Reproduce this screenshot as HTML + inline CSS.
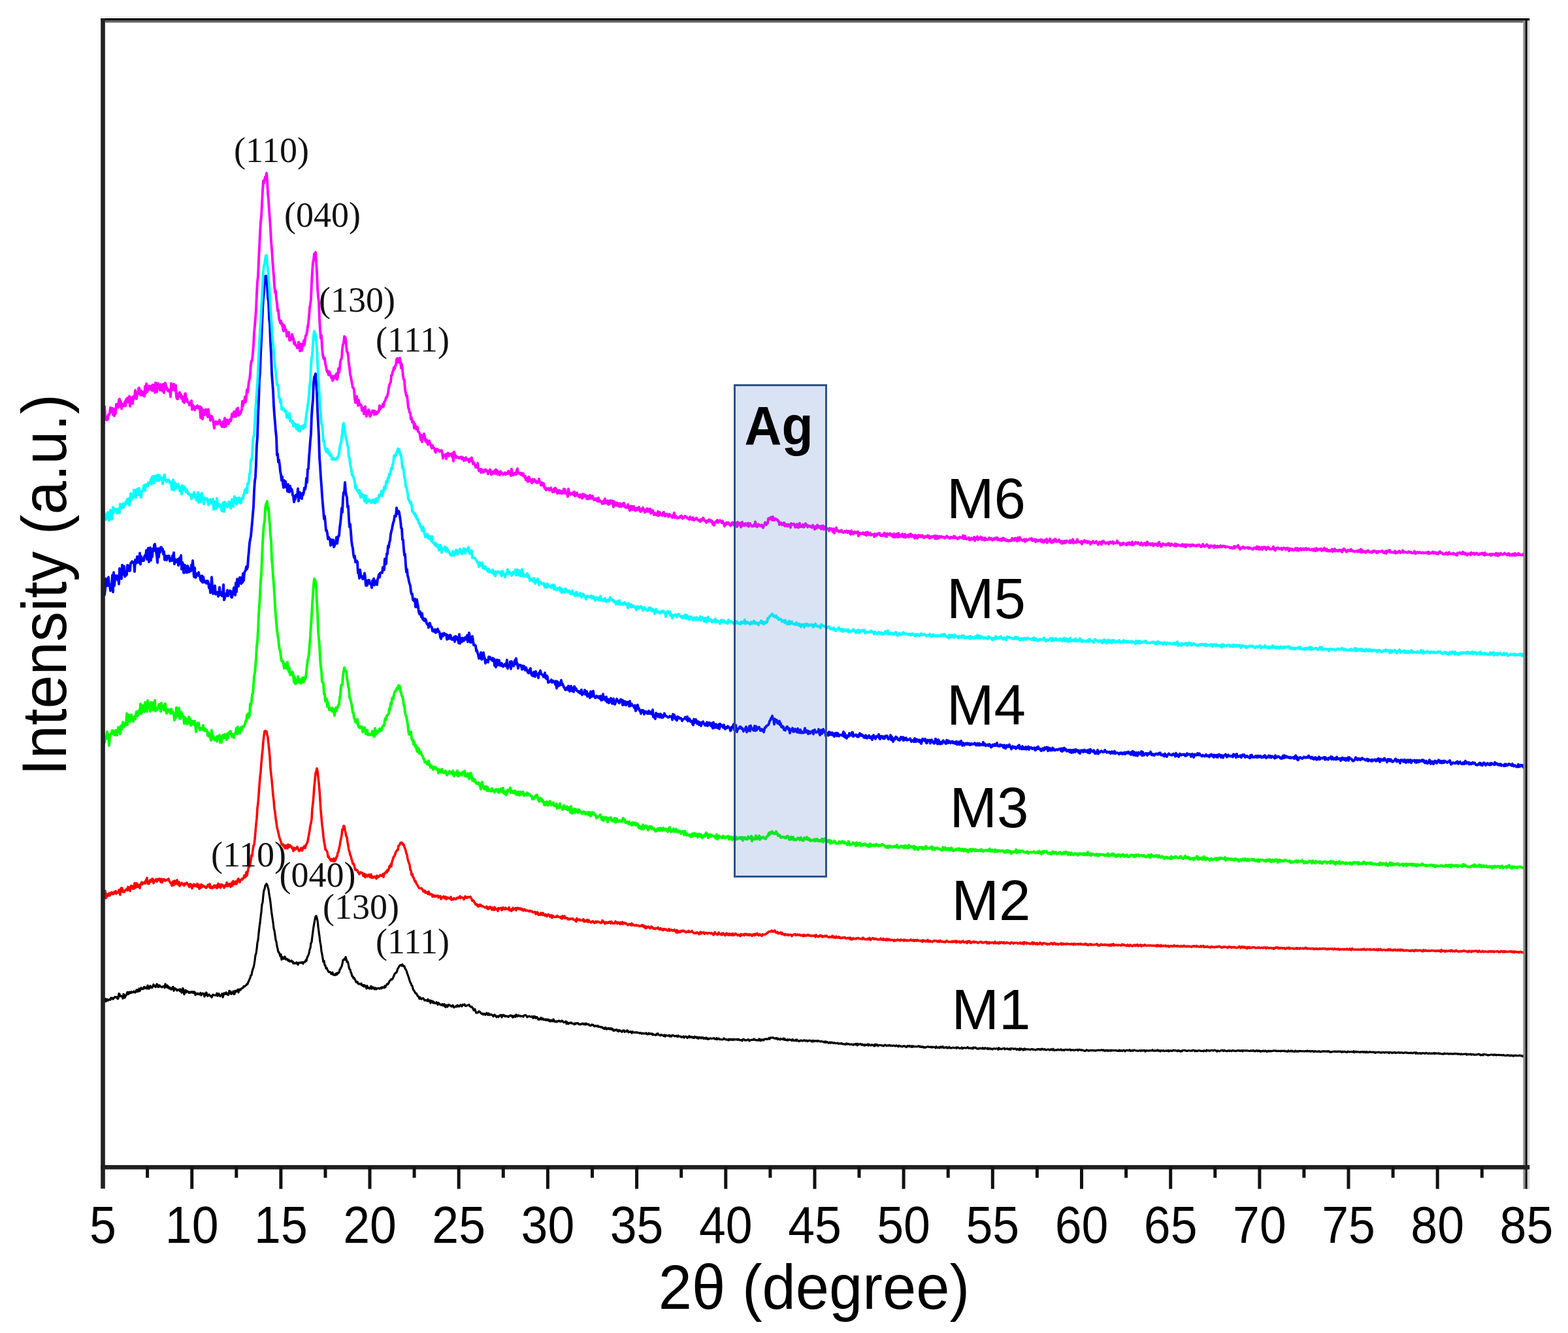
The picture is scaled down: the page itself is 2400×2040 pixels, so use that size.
<!DOCTYPE html>
<html><head><meta charset="utf-8"><style>
html,body{margin:0;padding:0;background:#fff;overflow:hidden;width:2400px;height:2040px;}
svg{display:block;}
</style></head><body>
<svg width="2400" height="2040" viewBox="0 0 2400 2040">
<rect width="2400" height="2040" fill="#fff"/>
<polyline points="158,1532.5 159,1533.2 160,1531.9 161,1528.3 162,1532.6 163,1531.4 164,1529.1 165,1531.2 166,1530.5 167,1530.1 168,1529.2 169,1530.1 170,1527.1 171,1528.1 172,1527.2 173,1529.1 174,1527.7 175,1526.8 176,1525.5 177,1526.3 178,1526.6 179,1525.8 180,1528.7 181,1527.8 182,1520.5 183,1521.4 184,1524.6 185,1523.9 186,1524.9 187,1524.6 188,1528.1 189,1521.3 190,1522.5 191,1527.0 192,1523.9 193,1523.6 194,1520.9 195,1518.3 196,1521.6 197,1521.1 198,1518.1 199,1518.8 200,1519.7 201,1517.6 202,1518.9 203,1518.9 204,1518.4 205,1517.0 206,1518.8 207,1519.0 208,1517.5 209,1514.9 210,1517.6 211,1514.8 212,1517.2 213,1513.0 214,1516.6 215,1514.4 216,1511.7 217,1513.2 218,1513.6 219,1513.7 220,1510.9 221,1510.4 222,1512.6 223,1511.1 224,1512.1 225,1512.9 226,1508.0 227,1511.4 228,1513.1 229,1509.9 230,1508.8 231,1511.5 232,1510.4 233,1511.5 234,1509.0 235,1506.7 236,1509.2 237,1508.4 238,1510.6 239,1509.5 240,1506.0 241,1506.8 242,1510.7 243,1510.3 244,1507.8 245,1509.1 246,1510.0 247,1510.1 248,1510.9 249,1509.9 250,1509.4 251,1509.2 252,1511.8 253,1505.9 254,1510.0 255,1510.5 256,1508.0 257,1511.5 258,1509.9 259,1512.9 260,1511.3 261,1513.0 262,1514.3 263,1513.0 264,1511.0 265,1510.1 266,1516.3 267,1513.2 268,1512.5 269,1514.2 270,1513.9 271,1516.1 272,1514.9 273,1515.1 274,1514.1 275,1516.5 276,1514.0 277,1517.3 278,1519.1 279,1513.9 280,1512.5 281,1518.2 282,1521.7 283,1515.7 284,1515.4 285,1518.9 286,1516.5 287,1517.3 288,1517.7 289,1519.4 290,1517.9 291,1519.3 292,1518.7 293,1517.7 294,1518.8 295,1517.8 296,1519.7 297,1517.9 298,1518.1 299,1522.7 300,1520.3 301,1520.4 302,1521.6 303,1520.1 304,1520.6 305,1521.9 306,1521.8 307,1519.5 308,1523.1 309,1520.8 310,1520.1 311,1520.5 312,1521.5 313,1525.1 314,1520.4 315,1522.8 316,1519.0 317,1522.7 318,1524.3 319,1522.5 320,1521.9 321,1523.4 322,1524.2 323,1524.2 324,1526.4 325,1523.5 326,1522.1 327,1522.9 328,1523.0 329,1523.2 330,1523.0 331,1523.2 332,1520.1 333,1524.2 334,1521.8 335,1520.7 336,1523.6 337,1524.6 338,1523.2 339,1522.5 340,1520.6 341,1526.1 342,1523.3 343,1519.9 344,1520.3 345,1521.6 346,1518.8 347,1521.4 348,1520.2 349,1522.7 350,1522.1 351,1516.3 352,1520.2 353,1517.3 354,1521.4 355,1519.6 356,1520.0 357,1517.1 358,1521.5 359,1521.4 360,1516.2 361,1518.1 362,1516.1 363,1516.8 364,1514.4 365,1518.9 366,1514.0 367,1514.6 368,1515.3 369,1513.0 370,1513.0 371,1511.9 372,1511.9 373,1509.5 374,1509.9 375,1509.3 376,1508.1 377,1507.6 378,1505.8 379,1506.0 380,1502.8 381,1501.2 382,1498.4 383,1496.3 384,1492.5 385,1492.3 386,1486.4 387,1483.2 388,1480.7 389,1476.1 390,1469.8 391,1461.6 392,1459.2 393,1452.3 394,1442.5 395,1438.3 396,1428.0 397,1419.0 398,1412.3 399,1403.2 400,1395.2 401,1384.0 402,1381.2 403,1370.2 404,1362.4 405,1360.5 406,1355.2 407,1354.0 408,1352.5 409,1354.3 410,1357.9 411,1361.1 412,1369.1 413,1374.3 414,1381.1 415,1390.3 416,1398.6 417,1405.3 418,1411.7 419,1420.9 420,1423.9 421,1431.1 422,1438.2 423,1441.3 424,1447.9 425,1452.0 426,1457.1 427,1457.4 428,1460.2 429,1463.4 430,1460.6 431,1468.7 432,1464.7 433,1465.0 434,1467.5 435,1466.4 436,1464.0 437,1467.8 438,1468.6 439,1467.3 440,1468.4 441,1470.2 442,1468.8 443,1471.3 444,1471.5 445,1470.7 446,1470.0 447,1472.1 448,1471.5 449,1474.4 450,1473.4 451,1474.6 452,1473.8 453,1474.1 454,1472.8 455,1474.9 456,1476.5 457,1473.6 458,1473.2 459,1473.7 460,1473.2 461,1472.7 462,1473.7 463,1472.8 464,1474.9 465,1472.3 466,1472.2 467,1472.2 468,1469.4 469,1470.5 470,1465.9 471,1463.6 472,1461.6 473,1458.8 474,1453.3 475,1450.7 476,1443.3 477,1441.7 478,1433.2 479,1425.5 480,1418.2 481,1412.4 482,1407.2 483,1402.6 484,1401.7 485,1404.7 486,1409.1 487,1417.9 488,1426.1 489,1432.9 490,1441.5 491,1446.4 492,1455.7 493,1460.6 494,1466.4 495,1472.1 496,1470.5 497,1476.9 498,1477.6 499,1481.9 500,1481.1 501,1483.7 502,1485.9 503,1487.5 504,1487.7 505,1487.3 506,1488.3 507,1490.7 508,1490.1 509,1488.2 510,1491.9 511,1491.6 512,1492.3 513,1490.7 514,1492.1 515,1489.3 516,1491.0 517,1488.8 518,1489.2 519,1488.2 520,1484.1 521,1482.8 522,1480.3 523,1478.8 524,1474.9 525,1469.3 526,1468.8 527,1467.4 528,1468.7 529,1464.6 530,1467.7 531,1472.2 532,1471.4 533,1474.5 534,1479.7 535,1483.3 536,1483.9 537,1488.1 538,1490.0 539,1494.1 540,1494.2 541,1497.2 542,1496.5 543,1498.8 544,1500.2 545,1502.9 546,1503.2 547,1502.4 548,1505.1 549,1505.9 550,1505.5 551,1505.9 552,1506.5 553,1505.1 554,1508.0 555,1508.5 556,1507.5 557,1509.9 558,1507.7 559,1509.0 560,1509.5 561,1512.8 562,1508.7 563,1511.6 564,1512.3 565,1511.9 566,1513.1 567,1510.6 568,1509.2 569,1513.1 570,1510.8 571,1512.0 572,1511.1 573,1513.9 574,1513.7 575,1511.8 576,1513.8 577,1512.9 578,1512.5 579,1512.7 580,1512.3 581,1513.1 582,1512.5 583,1511.5 584,1512.9 585,1510.6 586,1511.3 587,1511.0 588,1511.7 589,1508.8 590,1510.8 591,1508.2 592,1507.0 593,1505.5 594,1506.0 595,1504.3 596,1501.8 597,1500.6 598,1499.9 599,1498.4 600,1499.0 601,1497.8 602,1495.5 603,1493.2 604,1490.6 605,1489.4 606,1488.6 607,1488.3 608,1485.1 609,1482.0 610,1480.9 611,1478.9 612,1477.3 613,1477.0 614,1476.7 615,1478.2 616,1476.0 617,1477.8 618,1479.1 619,1478.6 620,1482.3 621,1483.7 622,1485.1 623,1488.8 624,1491.5 625,1494.3 626,1497.3 627,1500.6 628,1503.7 629,1504.8 630,1508.3 631,1508.8 632,1513.0 633,1515.3 634,1516.6 635,1518.3 636,1520.1 637,1520.0 638,1521.7 639,1523.7 640,1525.2 641,1525.4 642,1528.5 643,1526.3 644,1528.2 645,1529.1 646,1528.0 647,1527.7 648,1527.8 649,1529.7 650,1531.2 651,1530.6 652,1530.8 653,1530.6 654,1531.9 655,1529.2 656,1532.2 657,1532.2 658,1530.9 659,1535.1 660,1531.5 661,1532.1 662,1532.2 663,1535.0 664,1533.1 665,1535.1 666,1535.3 667,1535.3 668,1533.8 669,1534.9 670,1537.7 671,1534.7 672,1535.5 673,1536.5 674,1537.8 675,1537.5 676,1538.3 677,1536.6 678,1539.0 679,1538.8 680,1536.7 681,1540.3 682,1541.3 683,1538.1 684,1539.2 685,1540.8 686,1537.8 687,1537.4 688,1538.2 689,1539.1 690,1539.1 691,1540.4 692,1540.0 693,1538.4 694,1540.3 695,1541.7 696,1540.9 697,1540.6 698,1539.5 699,1540.5 700,1538.3 701,1540.1 702,1539.1 703,1540.3 704,1539.5 705,1537.8 706,1539.0 707,1540.0 708,1537.5 709,1538.0 710,1537.7 711,1536.9 712,1539.4 713,1539.7 714,1539.2 715,1538.6 716,1538.2 717,1538.5 718,1537.7 719,1539.8 720,1540.6 721,1541.2 722,1540.6 723,1542.3 724,1543.1 725,1546.2 726,1545.6 727,1544.5 728,1547.8 729,1550.1 730,1549.4 731,1550.0 732,1549.4 733,1547.7 734,1548.2 735,1549.0 736,1550.4 737,1551.2 738,1551.8 739,1551.0 740,1552.6 741,1551.6 742,1551.4 743,1553.2 744,1551.6 745,1550.2 746,1551.9 747,1553.2 748,1550.8 749,1553.1 750,1553.3 751,1552.4 752,1552.4 753,1553.6 754,1553.6 755,1555.5 756,1554.7 757,1552.9 758,1553.7 759,1555.3 760,1556.5 761,1555.0 762,1555.0 763,1556.5 764,1554.7 765,1554.4 766,1553.3 767,1554.2 768,1556.9 769,1553.3 770,1554.7 771,1553.3 772,1554.8 773,1555.6 774,1554.5 775,1555.4 776,1555.4 777,1555.1 778,1556.4 779,1555.5 780,1554.4 781,1554.0 782,1553.9 783,1555.2 784,1554.4 785,1557.1 786,1556.5 787,1554.5 788,1554.4 789,1556.3 790,1552.9 791,1554.3 792,1555.6 793,1553.8 794,1554.2 795,1554.4 796,1555.3 797,1554.8 798,1555.1 799,1555.3 800,1554.9 801,1556.0 802,1554.3 803,1553.7 804,1553.5 805,1553.8 806,1554.9 807,1556.6 808,1555.9 809,1555.3 810,1555.1 811,1555.7 812,1556.0 813,1556.1 814,1555.4 815,1556.5 816,1558.1 817,1555.3 818,1557.3 819,1555.8 820,1558.1 821,1557.5 822,1556.4 823,1558.6 824,1560.4 825,1559.0 826,1560.2 827,1559.2 828,1557.5 829,1560.1 830,1559.4 831,1558.6 832,1560.8 833,1560.5 834,1559.9 835,1561.3 836,1559.9 837,1561.4 838,1560.1 839,1561.6 840,1560.3 841,1562.8 842,1561.8 843,1563.0 844,1561.1 845,1561.6 846,1562.9 847,1560.0 848,1561.5 849,1563.5 850,1563.2 851,1563.8 852,1562.8 853,1563.7 854,1562.7 855,1562.2 856,1562.1 857,1563.3 858,1563.4 859,1563.5 860,1561.9 861,1562.5 862,1563.9 863,1564.8 864,1564.2 865,1564.0 866,1562.9 867,1566.8 868,1564.2 869,1566.8 870,1566.8 871,1565.7 872,1565.1 873,1565.8 874,1564.8 875,1566.1 876,1566.0 877,1566.5 878,1567.0 879,1567.8 880,1566.0 881,1567.3 882,1565.8 883,1565.8 884,1566.1 885,1565.8 886,1567.6 887,1567.6 888,1568.0 889,1567.0 890,1567.3 891,1566.7 892,1566.2 893,1567.7 894,1567.7 895,1566.6 896,1568.1 897,1566.2 898,1567.7 899,1567.4 900,1567.6 901,1567.3 902,1569.2 903,1569.0 904,1569.7 905,1568.9 906,1567.9 907,1568.9 908,1568.4 909,1570.0 910,1570.9 911,1570.3 912,1569.8 913,1570.2 914,1570.9 915,1569.7 916,1571.3 917,1571.6 918,1571.2 919,1571.6 920,1572.3 921,1571.7 922,1572.0 923,1573.6 924,1573.4 925,1574.8 926,1572.8 927,1572.4 928,1574.9 929,1575.1 930,1573.9 931,1573.5 932,1574.9 933,1573.7 934,1575.0 935,1573.7 936,1575.5 937,1574.1 938,1575.8 939,1577.4 940,1576.0 941,1577.0 942,1576.0 943,1575.9 944,1575.6 945,1577.8 946,1577.0 947,1578.5 948,1576.4 949,1577.3 950,1577.6 951,1578.8 952,1579.3 953,1577.4 954,1577.1 955,1576.8 956,1579.4 957,1578.4 958,1578.0 959,1578.6 960,1576.8 961,1577.5 962,1579.8 963,1579.4 964,1579.4 965,1578.5 966,1579.9 967,1581.0 968,1578.7 969,1579.8 970,1579.6 971,1580.3 972,1580.1 973,1580.1 974,1579.6 975,1580.4 976,1580.0 977,1580.5 978,1580.7 979,1581.4 980,1580.5 981,1580.8 982,1582.0 983,1581.1 984,1581.1 985,1582.1 986,1581.7 987,1581.7 988,1581.9 989,1580.8 990,1582.3 991,1583.0 992,1582.5 993,1581.0 994,1582.5 995,1581.6 996,1582.3 997,1582.6 998,1581.7 999,1583.8 1000,1582.7 1001,1583.5 1002,1583.5 1003,1584.1 1004,1584.1 1005,1582.1 1006,1583.3 1007,1581.7 1008,1583.1 1009,1584.1 1010,1584.4 1011,1584.7 1012,1583.5 1013,1584.1 1014,1584.0 1015,1585.0 1016,1585.4 1017,1583.9 1018,1586.2 1019,1584.4 1020,1584.2 1021,1585.0 1022,1585.2 1023,1585.1 1024,1584.3 1025,1586.0 1026,1585.0 1027,1586.2 1028,1586.1 1029,1584.2 1030,1584.5 1031,1584.5 1032,1585.6 1033,1585.5 1034,1585.7 1035,1585.0 1036,1586.0 1037,1586.8 1038,1584.8 1039,1585.8 1040,1586.2 1041,1586.0 1042,1586.0 1043,1587.5 1044,1587.2 1045,1587.0 1046,1585.9 1047,1588.2 1048,1586.9 1049,1586.2 1050,1586.5 1051,1586.5 1052,1588.5 1053,1587.1 1054,1587.1 1055,1585.5 1056,1587.7 1057,1586.5 1058,1586.5 1059,1587.9 1060,1586.9 1061,1588.2 1062,1588.5 1063,1586.4 1064,1587.7 1065,1586.7 1066,1587.9 1067,1588.7 1068,1587.1 1069,1589.5 1070,1588.0 1071,1587.4 1072,1588.3 1073,1589.0 1074,1587.5 1075,1588.6 1076,1587.6 1077,1589.6 1078,1588.9 1079,1588.5 1080,1589.7 1081,1588.0 1082,1588.8 1083,1590.4 1084,1589.1 1085,1590.2 1086,1589.4 1087,1588.8 1088,1589.2 1089,1589.5 1090,1589.2 1091,1589.0 1092,1589.1 1093,1588.6 1094,1589.9 1095,1590.1 1096,1590.4 1097,1588.6 1098,1590.6 1099,1590.0 1100,1589.1 1101,1590.2 1102,1590.8 1103,1590.6 1104,1590.8 1105,1591.0 1106,1591.0 1107,1590.4 1108,1589.0 1109,1590.0 1110,1590.8 1111,1590.3 1112,1591.1 1113,1591.3 1114,1590.8 1115,1592.1 1116,1590.1 1117,1591.5 1118,1590.5 1119,1590.3 1120,1591.3 1121,1590.5 1122,1591.6 1123,1590.2 1124,1591.1 1125,1590.5 1126,1590.9 1127,1590.9 1128,1590.4 1129,1591.6 1130,1590.3 1131,1590.5 1132,1591.9 1133,1591.9 1134,1591.7 1135,1591.5 1136,1592.9 1137,1590.5 1138,1590.8 1139,1590.7 1140,1592.0 1141,1591.6 1142,1592.2 1143,1592.1 1144,1591.3 1145,1590.9 1146,1590.8 1147,1593.0 1148,1592.2 1149,1591.9 1150,1591.3 1151,1591.4 1152,1591.3 1153,1591.4 1154,1589.9 1155,1591.5 1156,1591.3 1157,1591.8 1158,1591.8 1159,1592.2 1160,1591.6 1161,1592.2 1162,1589.9 1163,1590.9 1164,1592.8 1165,1590.8 1166,1591.4 1167,1592.0 1168,1590.9 1169,1592.0 1170,1590.4 1171,1590.0 1172,1590.2 1173,1589.8 1174,1590.6 1175,1590.0 1176,1589.9 1177,1588.4 1178,1590.2 1179,1588.1 1180,1588.0 1181,1588.3 1182,1587.9 1183,1587.8 1184,1588.4 1185,1589.1 1186,1589.1 1187,1589.4 1188,1588.6 1189,1588.7 1190,1590.7 1191,1589.4 1192,1590.1 1193,1590.4 1194,1591.1 1195,1589.4 1196,1590.2 1197,1590.3 1198,1590.6 1199,1589.3 1200,1591.0 1201,1589.5 1202,1591.4 1203,1591.7 1204,1591.8 1205,1590.7 1206,1592.2 1207,1591.1 1208,1590.9 1209,1591.2 1210,1591.3 1211,1592.0 1212,1592.5 1213,1590.6 1214,1591.7 1215,1592.7 1216,1592.2 1217,1592.5 1218,1591.2 1219,1592.8 1220,1591.2 1221,1592.4 1222,1593.2 1223,1593.6 1224,1592.7 1225,1593.0 1226,1592.0 1227,1592.2 1228,1593.2 1229,1592.5 1230,1592.5 1231,1591.7 1232,1592.7 1233,1593.1 1234,1592.2 1235,1592.4 1236,1593.8 1237,1592.9 1238,1592.6 1239,1592.1 1240,1592.5 1241,1592.7 1242,1593.8 1243,1592.6 1244,1594.1 1245,1592.4 1246,1592.9 1247,1593.7 1248,1593.0 1249,1592.7 1250,1593.2 1251,1593.7 1252,1592.4 1253,1593.4 1254,1593.5 1255,1593.4 1256,1594.2 1257,1593.5 1258,1593.7 1259,1594.1 1260,1594.6 1261,1594.1 1262,1595.3 1263,1593.9 1264,1595.4 1265,1594.1 1266,1594.7 1267,1595.1 1268,1596.3 1269,1595.7 1270,1595.0 1271,1596.2 1272,1595.3 1273,1595.1 1274,1596.0 1275,1595.9 1276,1596.5 1277,1595.7 1278,1596.4 1279,1596.7 1280,1596.5 1281,1596.5 1282,1596.2 1283,1597.3 1284,1596.9 1285,1597.2 1286,1596.8 1287,1597.1 1288,1596.5 1289,1597.3 1290,1597.8 1291,1597.5 1292,1598.1 1293,1597.8 1294,1598.5 1295,1597.6 1296,1596.8 1297,1598.1 1298,1597.8 1299,1597.4 1300,1598.4 1301,1598.2 1302,1598.4 1303,1597.9 1304,1598.3 1305,1598.4 1306,1599.3 1307,1597.9 1308,1598.3 1309,1598.6 1310,1597.3 1311,1597.5 1312,1599.8 1313,1597.4 1314,1598.9 1315,1598.1 1316,1598.2 1317,1597.5 1318,1598.2 1319,1599.2 1320,1597.9 1321,1599.2 1322,1599.0 1323,1600.1 1324,1598.6 1325,1599.7 1326,1599.5 1327,1598.9 1328,1598.1 1329,1600.0 1330,1598.3 1331,1598.9 1332,1599.8 1333,1599.9 1334,1598.8 1335,1599.3 1336,1599.2 1337,1600.1 1338,1600.9 1339,1598.4 1340,1600.1 1341,1598.1 1342,1599.6 1343,1599.0 1344,1600.8 1345,1599.8 1346,1599.3 1347,1599.5 1348,1599.5 1349,1600.0 1350,1599.8 1351,1600.3 1352,1600.9 1353,1600.4 1354,1599.3 1355,1599.1 1356,1599.6 1357,1600.7 1358,1600.0 1359,1599.8 1360,1600.3 1361,1599.4 1362,1599.6 1363,1600.6 1364,1600.2 1365,1600.1 1366,1600.6 1367,1600.1 1368,1600.1 1369,1600.3 1370,1600.9 1371,1600.6 1372,1599.9 1373,1600.5 1374,1601.1 1375,1601.8 1376,1600.1 1377,1601.0 1378,1600.7 1379,1601.4 1380,1601.2 1381,1601.8 1382,1601.3 1383,1600.7 1384,1600.7 1385,1601.3 1386,1601.3 1387,1602.5 1388,1602.1 1389,1600.5 1390,1601.4 1391,1600.5 1392,1600.4 1393,1601.8 1394,1601.7 1395,1600.8 1396,1602.4 1397,1600.9 1398,1600.8 1399,1601.9 1400,1601.7 1401,1601.5 1402,1601.6 1403,1601.8 1404,1601.6 1405,1601.6 1406,1600.7 1407,1601.0 1408,1602.2 1409,1601.4 1410,1602.2 1411,1602.6 1412,1601.7 1413,1602.1 1414,1603.2 1415,1602.4 1416,1603.1 1417,1603.0 1418,1602.5 1419,1602.1 1420,1601.7 1421,1601.6 1422,1602.5 1423,1602.5 1424,1602.2 1425,1602.8 1426,1602.0 1427,1603.0 1428,1602.4 1429,1602.4 1430,1602.5 1431,1602.5 1432,1603.9 1433,1601.7 1434,1602.7 1435,1603.3 1436,1603.1 1437,1602.5 1438,1603.7 1439,1602.1 1440,1602.0 1441,1603.1 1442,1602.0 1443,1601.5 1444,1603.4 1445,1603.3 1446,1603.3 1447,1602.7 1448,1603.1 1449,1602.5 1450,1604.0 1451,1603.5 1452,1603.5 1453,1602.1 1454,1603.6 1455,1604.0 1456,1603.9 1457,1603.7 1458,1603.3 1459,1603.1 1460,1603.7 1461,1603.6 1462,1603.5 1463,1603.2 1464,1604.4 1465,1602.8 1466,1603.5 1467,1603.2 1468,1604.1 1469,1604.3 1470,1604.3 1471,1604.0 1472,1602.9 1473,1604.8 1474,1604.0 1475,1603.7 1476,1603.8 1477,1603.6 1478,1604.0 1479,1604.0 1480,1603.7 1481,1602.5 1482,1603.9 1483,1604.2 1484,1604.2 1485,1603.9 1486,1604.2 1487,1604.6 1488,1603.8 1489,1604.9 1490,1603.0 1491,1603.4 1492,1603.7 1493,1602.9 1494,1603.7 1495,1604.9 1496,1604.9 1497,1604.3 1498,1605.2 1499,1604.5 1500,1604.1 1501,1604.5 1502,1604.3 1503,1604.8 1504,1603.6 1505,1605.0 1506,1604.2 1507,1605.0 1508,1603.7 1509,1604.3 1510,1604.6 1511,1605.1 1512,1604.0 1513,1605.5 1514,1604.9 1515,1604.4 1516,1605.4 1517,1604.8 1518,1605.4 1519,1606.0 1520,1605.2 1521,1604.6 1522,1604.6 1523,1605.2 1524,1605.1 1525,1604.5 1526,1604.6 1527,1605.3 1528,1606.2 1529,1603.7 1530,1605.4 1531,1604.9 1532,1605.5 1533,1605.6 1534,1605.1 1535,1604.6 1536,1604.4 1537,1604.2 1538,1605.8 1539,1605.1 1540,1605.0 1541,1605.1 1542,1604.6 1543,1605.5 1544,1606.0 1545,1605.9 1546,1604.6 1547,1606.1 1548,1605.0 1549,1604.4 1550,1604.8 1551,1605.0 1552,1605.5 1553,1605.0 1554,1604.7 1555,1605.4 1556,1606.6 1557,1605.2 1558,1605.9 1559,1605.7 1560,1606.9 1561,1604.7 1562,1606.3 1563,1605.0 1564,1605.4 1565,1605.7 1566,1607.1 1567,1605.4 1568,1604.8 1569,1606.5 1570,1605.4 1571,1605.7 1572,1605.9 1573,1605.9 1574,1605.8 1575,1606.1 1576,1606.2 1577,1606.4 1578,1605.8 1579,1605.6 1580,1605.5 1581,1606.3 1582,1606.0 1583,1606.4 1584,1606.4 1585,1607.0 1586,1606.2 1587,1606.5 1588,1605.5 1589,1605.6 1590,1606.0 1591,1605.6 1592,1606.6 1593,1605.6 1594,1606.3 1595,1605.0 1596,1605.7 1597,1606.1 1598,1606.2 1599,1605.4 1600,1606.4 1601,1606.9 1602,1606.7 1603,1606.1 1604,1606.1 1605,1605.8 1606,1606.8 1607,1607.2 1608,1606.2 1609,1605.6 1610,1606.6 1611,1606.9 1612,1605.3 1613,1606.6 1614,1607.7 1615,1607.0 1616,1606.9 1617,1606.8 1618,1607.2 1619,1606.2 1620,1606.2 1621,1606.9 1622,1606.4 1623,1606.8 1624,1605.8 1625,1607.1 1626,1607.2 1627,1606.8 1628,1606.9 1629,1607.6 1630,1606.3 1631,1606.4 1632,1606.3 1633,1606.6 1634,1606.4 1635,1606.9 1636,1606.6 1637,1606.2 1638,1606.1 1639,1607.5 1640,1606.9 1641,1606.8 1642,1607.0 1643,1606.9 1644,1607.4 1645,1607.3 1646,1606.7 1647,1606.6 1648,1606.5 1649,1606.4 1650,1607.8 1651,1606.6 1652,1606.1 1653,1606.7 1654,1606.7 1655,1607.3 1656,1606.7 1657,1607.4 1658,1607.4 1659,1607.8 1660,1608.3 1661,1608.4 1662,1607.9 1663,1606.7 1664,1607.0 1665,1607.4 1666,1608.3 1667,1607.6 1668,1607.9 1669,1607.2 1670,1607.6 1671,1607.7 1672,1607.1 1673,1607.7 1674,1607.9 1675,1607.3 1676,1607.9 1677,1608.2 1678,1607.4 1679,1607.4 1680,1607.3 1681,1607.1 1682,1607.5 1683,1607.2 1684,1607.3 1685,1607.1 1686,1606.7 1687,1607.0 1688,1607.6 1689,1606.9 1690,1607.2 1691,1608.3 1692,1608.1 1693,1607.2 1694,1607.8 1695,1607.2 1696,1608.3 1697,1607.3 1698,1607.6 1699,1608.2 1700,1607.2 1701,1608.2 1702,1607.2 1703,1607.7 1704,1607.5 1705,1607.6 1706,1607.7 1707,1607.6 1708,1607.2 1709,1608.1 1710,1608.0 1711,1608.3 1712,1608.3 1713,1607.0 1714,1608.3 1715,1608.3 1716,1607.5 1717,1608.2 1718,1608.4 1719,1607.5 1720,1607.1 1721,1607.6 1722,1608.9 1723,1607.9 1724,1607.2 1725,1607.6 1726,1607.3 1727,1607.6 1728,1607.8 1729,1606.6 1730,1608.0 1731,1608.5 1732,1607.7 1733,1607.6 1734,1608.3 1735,1607.2 1736,1607.2 1737,1607.2 1738,1607.8 1739,1608.0 1740,1607.8 1741,1608.1 1742,1608.3 1743,1608.1 1744,1607.5 1745,1607.7 1746,1608.5 1747,1607.4 1748,1607.8 1749,1607.7 1750,1607.8 1751,1607.4 1752,1607.3 1753,1609.1 1754,1608.4 1755,1607.6 1756,1607.9 1757,1608.2 1758,1607.8 1759,1608.2 1760,1607.6 1761,1607.8 1762,1607.9 1763,1607.7 1764,1606.8 1765,1608.0 1766,1608.1 1767,1608.2 1768,1607.5 1769,1608.1 1770,1608.1 1771,1607.1 1772,1606.9 1773,1608.2 1774,1607.5 1775,1608.4 1776,1609.0 1777,1607.7 1778,1607.7 1779,1608.0 1780,1608.3 1781,1607.5 1782,1608.6 1783,1608.5 1784,1608.3 1785,1607.7 1786,1608.4 1787,1608.4 1788,1607.4 1789,1609.0 1790,1607.9 1791,1608.2 1792,1607.8 1793,1608.2 1794,1608.5 1795,1607.6 1796,1607.2 1797,1607.8 1798,1607.4 1799,1607.6 1800,1607.9 1801,1608.0 1802,1608.6 1803,1607.5 1804,1608.2 1805,1607.8 1806,1608.6 1807,1609.2 1808,1608.1 1809,1608.8 1810,1607.8 1811,1607.3 1812,1607.4 1813,1607.3 1814,1607.6 1815,1607.9 1816,1608.5 1817,1608.3 1818,1608.2 1819,1607.8 1820,1607.7 1821,1608.0 1822,1608.1 1823,1608.1 1824,1608.2 1825,1607.9 1826,1607.1 1827,1607.5 1828,1607.6 1829,1608.8 1830,1607.8 1831,1608.3 1832,1608.7 1833,1608.2 1834,1607.8 1835,1607.9 1836,1607.5 1837,1608.1 1838,1608.5 1839,1608.3 1840,1608.4 1841,1608.3 1842,1608.9 1843,1607.7 1844,1608.1 1845,1608.3 1846,1608.6 1847,1606.9 1848,1607.8 1849,1607.9 1850,1607.5 1851,1608.4 1852,1608.1 1853,1607.8 1854,1607.3 1855,1607.4 1856,1607.6 1857,1608.2 1858,1607.5 1859,1607.1 1860,1607.3 1861,1607.7 1862,1608.8 1863,1609.1 1864,1607.8 1865,1608.4 1866,1608.6 1867,1608.6 1868,1608.0 1869,1607.4 1870,1607.8 1871,1607.2 1872,1608.1 1873,1608.4 1874,1607.2 1875,1608.0 1876,1608.2 1877,1608.6 1878,1608.6 1879,1608.4 1880,1607.7 1881,1607.9 1882,1608.6 1883,1607.8 1884,1608.0 1885,1608.7 1886,1608.1 1887,1607.4 1888,1607.9 1889,1608.3 1890,1608.0 1891,1608.6 1892,1608.6 1893,1607.8 1894,1607.8 1895,1608.0 1896,1607.5 1897,1608.3 1898,1608.0 1899,1608.4 1900,1607.8 1901,1607.7 1902,1608.9 1903,1607.7 1904,1607.8 1905,1607.8 1906,1608.0 1907,1607.7 1908,1608.1 1909,1607.8 1910,1607.9 1911,1608.3 1912,1608.5 1913,1608.4 1914,1607.8 1915,1608.3 1916,1608.1 1917,1608.1 1918,1607.4 1919,1608.5 1920,1608.1 1921,1608.9 1922,1608.5 1923,1607.7 1924,1607.6 1925,1608.7 1926,1607.8 1927,1608.5 1928,1608.1 1929,1609.2 1930,1608.3 1931,1608.9 1932,1608.8 1933,1608.0 1934,1608.1 1935,1608.9 1936,1608.3 1937,1607.9 1938,1608.8 1939,1609.4 1940,1608.3 1941,1608.9 1942,1608.2 1943,1608.9 1944,1608.2 1945,1608.9 1946,1608.6 1947,1608.3 1948,1608.5 1949,1608.1 1950,1607.9 1951,1607.9 1952,1608.4 1953,1607.9 1954,1608.6 1955,1608.7 1956,1608.6 1957,1608.2 1958,1608.5 1959,1608.4 1960,1609.0 1961,1608.1 1962,1608.3 1963,1608.4 1964,1608.4 1965,1608.2 1966,1608.2 1967,1609.0 1968,1608.3 1969,1608.9 1970,1609.4 1971,1609.1 1972,1607.8 1973,1608.9 1974,1608.8 1975,1608.8 1976,1607.9 1977,1608.9 1978,1608.2 1979,1609.2 1980,1609.1 1981,1609.7 1982,1608.5 1983,1608.0 1984,1609.1 1985,1609.1 1986,1608.5 1987,1609.3 1988,1609.0 1989,1608.2 1990,1608.6 1991,1608.6 1992,1608.7 1993,1608.8 1994,1608.5 1995,1608.7 1996,1609.1 1997,1608.8 1998,1608.7 1999,1608.7 2000,1608.8 2001,1608.0 2002,1608.9 2003,1608.4 2004,1608.9 2005,1608.3 2006,1609.3 2007,1609.0 2008,1608.3 2009,1609.0 2010,1608.6 2011,1609.7 2012,1609.2 2013,1608.6 2014,1609.1 2015,1609.0 2016,1609.5 2017,1609.2 2018,1609.3 2019,1608.6 2020,1609.4 2021,1610.0 2022,1609.4 2023,1609.1 2024,1609.2 2025,1608.7 2026,1609.2 2027,1608.7 2028,1609.2 2029,1609.0 2030,1608.8 2031,1609.5 2032,1608.6 2033,1609.2 2034,1608.7 2035,1610.0 2036,1610.1 2037,1609.6 2038,1610.1 2039,1609.6 2040,1609.6 2041,1609.2 2042,1609.0 2043,1609.4 2044,1609.1 2045,1609.2 2046,1609.7 2047,1609.4 2048,1608.8 2049,1609.4 2050,1609.1 2051,1609.3 2052,1609.0 2053,1610.0 2054,1610.3 2055,1609.1 2056,1609.8 2057,1609.8 2058,1609.1 2059,1609.6 2060,1610.2 2061,1610.0 2062,1610.3 2063,1609.1 2064,1609.3 2065,1609.8 2066,1609.8 2067,1609.7 2068,1609.6 2069,1609.6 2070,1609.5 2071,1610.0 2072,1608.7 2073,1610.5 2074,1609.6 2075,1609.2 2076,1610.1 2077,1609.3 2078,1610.0 2079,1609.7 2080,1610.1 2081,1610.2 2082,1610.5 2083,1609.7 2084,1609.8 2085,1610.0 2086,1609.4 2087,1610.3 2088,1610.1 2089,1609.5 2090,1610.6 2091,1610.7 2092,1609.5 2093,1610.4 2094,1610.7 2095,1610.5 2096,1609.7 2097,1609.6 2098,1610.1 2099,1610.0 2100,1610.2 2101,1610.2 2102,1610.5 2103,1610.0 2104,1610.2 2105,1611.3 2106,1610.3 2107,1610.7 2108,1610.5 2109,1610.5 2110,1610.0 2111,1610.6 2112,1610.4 2113,1610.8 2114,1611.3 2115,1610.6 2116,1610.8 2117,1610.1 2118,1610.6 2119,1611.2 2120,1610.6 2121,1610.3 2122,1610.7 2123,1610.6 2124,1610.6 2125,1610.5 2126,1611.5 2127,1610.4 2128,1610.6 2129,1610.5 2130,1611.3 2131,1610.7 2132,1611.4 2133,1610.9 2134,1610.8 2135,1610.3 2136,1611.4 2137,1611.1 2138,1611.1 2139,1610.9 2140,1610.8 2141,1610.5 2142,1611.4 2143,1611.1 2144,1610.9 2145,1610.8 2146,1611.1 2147,1611.1 2148,1611.8 2149,1611.5 2150,1610.9 2151,1610.7 2152,1611.1 2153,1610.9 2154,1611.3 2155,1611.4 2156,1611.6 2157,1611.5 2158,1611.3 2159,1611.6 2160,1611.0 2161,1611.4 2162,1611.8 2163,1611.6 2164,1610.9 2165,1611.0 2166,1610.8 2167,1612.3 2168,1610.9 2169,1611.5 2170,1612.3 2171,1612.1 2172,1612.2 2173,1611.5 2174,1612.0 2175,1612.7 2176,1611.7 2177,1611.9 2178,1611.6 2179,1611.8 2180,1612.0 2181,1612.4 2182,1611.5 2183,1611.3 2184,1611.9 2185,1612.0 2186,1612.5 2187,1612.3 2188,1611.7 2189,1612.2 2190,1612.5 2191,1612.2 2192,1611.9 2193,1612.4 2194,1612.0 2195,1611.4 2196,1612.7 2197,1611.7 2198,1612.1 2199,1612.1 2200,1612.1 2201,1612.2 2202,1611.7 2203,1612.6 2204,1612.4 2205,1612.4 2206,1612.8 2207,1612.9 2208,1613.0 2209,1613.2 2210,1612.7 2211,1611.9 2212,1612.6 2213,1612.6 2214,1612.6 2215,1612.4 2216,1612.3 2217,1613.0 2218,1613.1 2219,1612.3 2220,1613.0 2221,1612.7 2222,1612.6 2223,1613.1 2224,1612.8 2225,1612.7 2226,1612.9 2227,1612.1 2228,1612.7 2229,1612.8 2230,1612.4 2231,1613.1 2232,1613.2 2233,1612.8 2234,1613.0 2235,1613.4 2236,1613.6 2237,1612.9 2238,1613.3 2239,1613.6 2240,1613.2 2241,1613.0 2242,1613.0 2243,1613.2 2244,1612.9 2245,1614.2 2246,1613.2 2247,1613.6 2248,1613.5 2249,1613.7 2250,1613.4 2251,1613.0 2252,1614.2 2253,1613.6 2254,1613.7 2255,1613.7 2256,1614.2 2257,1614.0 2258,1614.2 2259,1614.1 2260,1613.8 2261,1613.9 2262,1613.5 2263,1613.1 2264,1613.8 2265,1613.5 2266,1614.9 2267,1614.6 2268,1614.5 2269,1613.8 2270,1614.9 2271,1613.4 2272,1613.6 2273,1613.8 2274,1613.8 2275,1614.2 2276,1614.3 2277,1615.0 2278,1614.7 2279,1614.8 2280,1614.5 2281,1614.3 2282,1614.1 2283,1613.8 2284,1614.1 2285,1614.3 2286,1614.8 2287,1613.9 2288,1614.0 2289,1614.7 2290,1614.2 2291,1614.8 2292,1614.5 2293,1614.4 2294,1614.2 2295,1614.7 2296,1614.5 2297,1614.6 2298,1614.6 2299,1615.0 2300,1615.0 2301,1614.3 2302,1614.9 2303,1615.2 2304,1615.4 2305,1615.4 2306,1615.2 2307,1614.7 2308,1614.8 2309,1615.5 2310,1614.9 2311,1615.6 2312,1615.8 2313,1614.9 2314,1615.5 2315,1615.3 2316,1616.2 2317,1615.7 2318,1615.2 2319,1615.6 2320,1615.1 2321,1615.5 2322,1615.6 2323,1615.7 2324,1615.7 2325,1615.3 2326,1615.0 2327,1615.6 2328,1615.4 2329,1615.5 2330,1616.7 2331,1616.3 2332,1615.8 2333,1615.3" fill="none" stroke="#000000" stroke-width="3.2" stroke-linejoin="round"/>
<polyline points="158,1371.3 159,1369.1 160,1369.1 161,1363.4 162,1374.6 163,1372.6 164,1368.4 165,1371.1 166,1369.5 167,1367.0 168,1370.8 169,1367.1 170,1366.8 171,1365.4 172,1368.4 173,1366.7 174,1368.1 175,1364.8 176,1366.5 177,1363.5 178,1367.8 179,1365.8 180,1365.9 181,1365.9 182,1361.9 183,1366.3 184,1369.4 185,1359.5 186,1358.9 187,1359.2 188,1365.0 189,1362.8 190,1365.0 191,1363.7 192,1362.0 193,1361.9 194,1360.4 195,1362.7 196,1357.2 197,1358.6 198,1360.0 199,1363.6 200,1356.6 201,1355.4 202,1356.4 203,1359.9 204,1356.4 205,1360.0 206,1351.5 207,1358.7 208,1358.1 209,1351.5 210,1355.1 211,1357.4 212,1354.2 213,1356.1 214,1359.2 215,1353.5 216,1351.8 217,1350.2 218,1353.4 219,1351.0 220,1350.7 221,1350.6 222,1352.1 223,1347.6 224,1346.2 225,1343.7 226,1352.3 227,1349.3 228,1352.6 229,1348.6 230,1346.6 231,1349.4 232,1347.8 233,1344.8 234,1345.5 235,1351.8 236,1348.3 237,1348.3 238,1346.5 239,1345.5 240,1349.2 241,1346.8 242,1345.2 243,1346.7 244,1344.8 245,1347.5 246,1349.8 247,1345.2 248,1350.6 249,1345.7 250,1347.8 251,1345.5 252,1347.1 253,1347.9 254,1346.9 255,1346.4 256,1346.7 257,1346.5 258,1344.9 259,1348.2 260,1349.9 261,1351.3 262,1350.9 263,1355.4 264,1350.6 265,1349.0 266,1354.6 267,1348.0 268,1352.9 269,1348.7 270,1351.9 271,1346.8 272,1353.6 273,1351.4 274,1349.7 275,1356.0 276,1354.1 277,1352.7 278,1351.1 279,1352.9 280,1352.8 281,1355.0 282,1355.3 283,1352.1 284,1352.5 285,1352.7 286,1350.9 287,1352.8 288,1354.0 289,1355.9 290,1357.4 291,1352.8 292,1356.0 293,1353.8 294,1359.6 295,1355.0 296,1356.3 297,1353.2 298,1353.6 299,1356.0 300,1354.8 301,1356.6 302,1352.5 303,1357.5 304,1354.1 305,1360.1 306,1355.7 307,1358.9 308,1353.5 309,1357.6 310,1354.8 311,1355.7 312,1356.9 313,1356.3 314,1357.6 315,1358.7 316,1358.6 317,1357.0 318,1354.3 319,1355.5 320,1356.9 321,1352.7 322,1358.9 323,1356.8 324,1356.7 325,1359.3 326,1358.7 327,1357.7 328,1355.0 329,1357.7 330,1357.7 331,1355.0 332,1359.1 333,1357.8 334,1352.4 335,1356.8 336,1353.7 337,1358.7 338,1357.9 339,1353.7 340,1354.0 341,1356.0 342,1355.1 343,1358.7 344,1356.8 345,1354.5 346,1356.1 347,1350.5 348,1355.2 349,1356.1 350,1353.7 351,1352.4 352,1354.8 353,1357.4 354,1353.5 355,1350.4 356,1355.4 357,1348.2 358,1352.8 359,1350.2 360,1352.9 361,1348.9 362,1352.9 363,1350.3 364,1345.7 365,1344.7 366,1347.5 367,1350.2 368,1347.2 369,1346.4 370,1345.0 371,1346.1 372,1344.5 373,1343.3 374,1339.6 375,1342.7 376,1341.6 377,1334.6 378,1340.0 379,1334.7 380,1329.9 381,1324.3 382,1326.3 383,1322.5 384,1316.1 385,1309.1 386,1309.7 387,1300.5 388,1294.2 389,1292.9 390,1284.2 391,1273.1 392,1260.9 393,1252.9 394,1236.3 395,1229.6 396,1216.0 397,1202.6 398,1189.6 399,1181.2 400,1168.1 401,1156.6 402,1147.2 403,1134.5 404,1125.9 405,1119.1 406,1118.4 407,1119.5 408,1119.4 409,1125.3 410,1128.5 411,1138.5 412,1148.1 413,1158.2 414,1175.8 415,1185.6 416,1194.0 417,1205.2 418,1217.2 419,1224.6 420,1237.5 421,1242.9 422,1252.5 423,1258.5 424,1266.1 425,1270.1 426,1274.1 427,1278.9 428,1282.2 429,1285.2 430,1287.8 431,1292.2 432,1292.5 433,1292.1 434,1295.1 435,1293.5 436,1298.2 437,1297.1 438,1293.9 439,1298.1 440,1298.4 441,1292.4 442,1295.7 443,1296.2 444,1293.5 445,1295.1 446,1295.4 447,1298.2 448,1298.0 449,1302.3 450,1297.3 451,1300.5 452,1298.8 453,1299.4 454,1297.1 455,1295.9 456,1298.1 457,1301.0 458,1302.5 459,1300.7 460,1300.4 461,1297.7 462,1301.7 463,1301.0 464,1297.1 465,1297.2 466,1294.6 467,1297.9 468,1294.5 469,1291.7 470,1290.3 471,1287.4 472,1282.2 473,1276.2 474,1270.7 475,1263.4 476,1259.7 477,1254.0 478,1237.1 479,1229.3 480,1218.0 481,1203.7 482,1194.6 483,1183.1 484,1181.0 485,1176.0 486,1180.2 487,1189.1 488,1198.4 489,1209.1 490,1224.9 491,1240.3 492,1251.0 493,1262.4 494,1269.6 495,1279.8 496,1287.7 497,1292.3 498,1300.3 499,1300.5 500,1302.3 501,1303.9 502,1310.9 503,1310.6 504,1313.8 505,1314.1 506,1317.0 507,1317.2 508,1314.9 509,1316.4 510,1317.9 511,1313.8 512,1318.0 513,1316.8 514,1315.3 515,1311.7 516,1310.4 517,1305.2 518,1303.6 519,1298.2 520,1294.4 521,1287.7 522,1283.0 523,1278.5 524,1269.2 525,1269.5 526,1263.7 527,1264.6 528,1270.5 529,1274.5 530,1279.7 531,1281.2 532,1289.0 533,1294.4 534,1301.1 535,1303.4 536,1308.6 537,1310.0 538,1314.7 539,1317.3 540,1321.9 541,1321.5 542,1323.8 543,1327.9 544,1331.5 545,1330.6 546,1331.7 547,1331.8 548,1335.1 549,1335.1 550,1337.8 551,1336.2 552,1334.8 553,1336.0 554,1335.9 555,1336.0 556,1340.5 557,1340.3 558,1337.4 559,1342.6 560,1340.5 561,1338.9 562,1341.4 563,1341.0 564,1340.1 565,1338.5 566,1341.9 567,1342.5 568,1338.2 569,1343.2 570,1343.4 571,1341.8 572,1342.8 573,1342.2 574,1341.3 575,1342.0 576,1344.7 577,1340.2 578,1342.7 579,1342.4 580,1340.8 581,1340.9 582,1339.0 583,1339.5 584,1340.3 585,1340.3 586,1337.7 587,1342.3 588,1336.7 589,1336.9 590,1335.3 591,1334.0 592,1335.4 593,1331.4 594,1332.7 595,1330.9 596,1325.9 597,1327.3 598,1322.8 599,1325.7 600,1319.1 601,1316.1 602,1312.4 603,1310.9 604,1309.6 605,1306.6 606,1303.8 607,1302.2 608,1300.6 609,1300.9 610,1294.2 611,1294.1 612,1292.0 613,1289.9 614,1289.5 615,1289.6 616,1292.1 617,1291.4 618,1292.4 619,1296.4 620,1298.8 621,1301.4 622,1306.1 623,1308.2 624,1314.4 625,1318.2 626,1320.8 627,1323.4 628,1331.0 629,1332.3 630,1339.0 631,1337.3 632,1342.2 633,1342.8 634,1346.1 635,1349.0 636,1348.5 637,1351.3 638,1353.2 639,1354.6 640,1356.6 641,1358.4 642,1359.3 643,1359.5 644,1359.5 645,1359.3 646,1360.7 647,1361.8 648,1364.3 649,1363.5 650,1362.9 651,1366.2 652,1364.8 653,1365.4 654,1366.7 655,1368.2 656,1364.5 657,1366.8 658,1369.1 659,1368.7 660,1368.3 661,1369.0 662,1372.1 663,1369.7 664,1371.7 665,1372.1 666,1370.6 667,1372.1 668,1371.1 669,1371.1 670,1370.6 671,1373.6 672,1372.1 673,1372.1 674,1371.5 675,1375.8 676,1374.5 677,1373.4 678,1372.8 679,1371.8 680,1374.5 681,1374.6 682,1372.4 683,1376.1 684,1375.6 685,1373.3 686,1374.0 687,1374.2 688,1375.1 689,1374.8 690,1372.7 691,1377.1 692,1375.5 693,1376.8 694,1376.7 695,1374.7 696,1375.4 697,1375.9 698,1375.9 699,1374.5 700,1373.8 701,1374.6 702,1373.4 703,1373.7 704,1371.6 705,1374.3 706,1372.8 707,1373.3 708,1373.9 709,1374.3 710,1376.4 711,1374.0 712,1371.8 713,1373.8 714,1372.8 715,1374.1 716,1372.7 717,1372.7 718,1373.0 719,1373.2 720,1372.2 721,1374.4 722,1376.1 723,1378.6 724,1377.6 725,1378.5 726,1380.9 727,1381.9 728,1384.3 729,1383.9 730,1384.0 731,1386.5 732,1387.4 733,1385.2 734,1386.4 735,1384.3 736,1386.3 737,1385.9 738,1387.0 739,1386.9 740,1387.6 741,1387.9 742,1388.9 743,1388.8 744,1388.0 745,1387.3 746,1390.7 747,1391.2 748,1388.9 749,1390.4 750,1387.9 751,1388.0 752,1389.8 753,1392.2 754,1389.1 755,1389.5 756,1392.7 757,1388.3 758,1391.6 759,1391.5 760,1390.7 761,1391.2 762,1394.2 763,1389.6 764,1390.6 765,1390.7 766,1390.1 767,1389.3 768,1393.0 769,1391.3 770,1388.8 771,1390.1 772,1391.5 773,1391.5 774,1389.2 775,1390.9 776,1391.3 777,1391.5 778,1391.5 779,1388.7 780,1393.3 781,1391.3 782,1393.2 783,1394.1 784,1390.8 785,1389.5 786,1392.1 787,1390.8 788,1390.4 789,1389.7 790,1393.1 791,1390.5 792,1389.3 793,1390.5 794,1389.7 795,1391.4 796,1390.8 797,1390.1 798,1392.3 799,1390.9 800,1392.8 801,1393.6 802,1391.8 803,1391.6 804,1392.9 805,1393.9 806,1393.1 807,1393.5 808,1393.5 809,1394.2 810,1394.8 811,1393.5 812,1394.0 813,1394.9 814,1394.4 815,1395.6 816,1396.4 817,1396.0 818,1395.5 819,1395.6 820,1398.9 821,1398.1 822,1396.0 823,1396.6 824,1400.1 825,1399.9 826,1398.5 827,1400.0 828,1397.1 829,1399.0 830,1400.1 831,1397.2 832,1398.7 833,1400.7 834,1401.3 835,1399.4 836,1400.7 837,1402.4 838,1400.2 839,1399.3 840,1400.9 841,1400.7 842,1402.9 843,1401.7 844,1400.7 845,1404.6 846,1401.4 847,1402.7 848,1403.1 849,1403.4 850,1402.8 851,1403.5 852,1402.9 853,1401.5 854,1403.0 855,1403.2 856,1403.4 857,1403.9 858,1403.2 859,1405.5 860,1406.0 861,1401.8 862,1404.5 863,1403.8 864,1401.9 865,1405.4 866,1404.4 867,1404.8 868,1404.7 869,1406.8 870,1407.1 871,1406.2 872,1406.8 873,1406.0 874,1406.5 875,1405.6 876,1406.7 877,1406.0 878,1407.4 879,1408.1 880,1407.7 881,1408.8 882,1410.4 883,1405.4 884,1408.0 885,1407.5 886,1407.8 887,1406.9 888,1408.7 889,1408.5 890,1408.2 891,1408.8 892,1408.5 893,1406.7 894,1410.6 895,1409.2 896,1408.6 897,1410.1 898,1409.1 899,1407.6 900,1411.0 901,1408.3 902,1409.9 903,1410.4 904,1411.8 905,1411.7 906,1410.6 907,1409.7 908,1410.1 909,1411.8 910,1412.6 911,1411.3 912,1410.1 913,1411.9 914,1410.4 915,1410.4 916,1410.6 917,1411.6 918,1411.3 919,1412.1 920,1412.5 921,1411.7 922,1408.7 923,1409.4 924,1411.4 925,1411.2 926,1413.7 927,1411.4 928,1411.3 929,1412.5 930,1412.7 931,1411.3 932,1412.1 933,1410.5 934,1410.7 935,1413.1 936,1410.4 937,1412.9 938,1412.7 939,1412.9 940,1413.1 941,1412.8 942,1410.0 943,1411.3 944,1411.8 945,1413.5 946,1411.5 947,1412.0 948,1412.5 949,1414.3 950,1411.5 951,1411.7 952,1413.9 953,1411.1 954,1413.8 955,1413.1 956,1412.1 957,1413.4 958,1412.9 959,1414.2 960,1414.6 961,1415.9 962,1414.4 963,1414.7 964,1414.1 965,1414.8 966,1416.1 967,1413.1 968,1415.9 969,1414.8 970,1415.6 971,1416.0 972,1416.7 973,1416.2 974,1415.7 975,1416.6 976,1416.4 977,1416.3 978,1416.9 979,1417.7 980,1417.1 981,1417.3 982,1416.0 983,1417.3 984,1415.7 985,1418.5 986,1416.9 987,1419.3 988,1420.7 989,1417.9 990,1419.8 991,1419.1 992,1418.2 993,1418.1 994,1419.7 995,1420.7 996,1419.8 997,1418.0 998,1418.7 999,1419.6 1000,1421.4 1001,1420.5 1002,1420.7 1003,1421.7 1004,1420.4 1005,1420.7 1006,1420.7 1007,1419.3 1008,1421.7 1009,1421.8 1010,1422.5 1011,1420.5 1012,1421.0 1013,1422.8 1014,1422.4 1015,1423.6 1016,1421.5 1017,1422.7 1018,1421.9 1019,1423.0 1020,1422.4 1021,1423.5 1022,1424.2 1023,1423.9 1024,1421.6 1025,1424.4 1026,1424.0 1027,1422.7 1028,1423.0 1029,1423.9 1030,1424.6 1031,1423.7 1032,1422.7 1033,1424.6 1034,1424.6 1035,1426.9 1036,1423.4 1037,1427.2 1038,1426.5 1039,1425.2 1040,1426.6 1041,1425.2 1042,1426.1 1043,1424.5 1044,1425.4 1045,1424.4 1046,1424.0 1047,1425.3 1048,1425.0 1049,1426.3 1050,1427.0 1051,1425.7 1052,1426.0 1053,1426.2 1054,1424.5 1055,1426.5 1056,1426.3 1057,1426.3 1058,1425.4 1059,1424.6 1060,1426.3 1061,1427.0 1062,1428.0 1063,1427.9 1064,1428.3 1065,1427.3 1066,1428.1 1067,1426.9 1068,1427.8 1069,1428.1 1070,1429.7 1071,1427.6 1072,1426.3 1073,1428.8 1074,1426.8 1075,1427.6 1076,1427.4 1077,1426.9 1078,1429.1 1079,1428.5 1080,1427.4 1081,1428.1 1082,1427.7 1083,1428.8 1084,1427.9 1085,1427.6 1086,1427.8 1087,1428.0 1088,1428.8 1089,1427.7 1090,1428.5 1091,1429.1 1092,1430.9 1093,1429.6 1094,1426.5 1095,1428.4 1096,1428.6 1097,1429.3 1098,1430.5 1099,1429.8 1100,1427.0 1101,1429.5 1102,1429.3 1103,1429.7 1104,1430.6 1105,1428.4 1106,1430.4 1107,1428.0 1108,1429.6 1109,1429.9 1110,1431.7 1111,1429.0 1112,1428.1 1113,1430.3 1114,1429.1 1115,1431.2 1116,1429.2 1117,1429.1 1118,1431.0 1119,1430.0 1120,1430.8 1121,1428.7 1122,1431.5 1123,1429.5 1124,1430.8 1125,1429.2 1126,1428.7 1127,1429.9 1128,1430.3 1129,1431.6 1130,1430.5 1131,1430.9 1132,1430.8 1133,1432.5 1134,1429.6 1135,1431.4 1136,1430.2 1137,1430.6 1138,1429.9 1139,1431.4 1140,1429.3 1141,1429.2 1142,1430.3 1143,1429.4 1144,1431.1 1145,1431.3 1146,1429.8 1147,1431.2 1148,1429.9 1149,1430.5 1150,1430.6 1151,1432.2 1152,1430.6 1153,1429.8 1154,1429.8 1155,1431.6 1156,1429.1 1157,1430.2 1158,1430.3 1159,1428.5 1160,1430.2 1161,1431.5 1162,1430.8 1163,1429.8 1164,1431.2 1165,1431.0 1166,1432.3 1167,1429.8 1168,1430.1 1169,1430.4 1170,1430.1 1171,1430.1 1172,1429.7 1173,1428.8 1174,1427.6 1175,1427.8 1176,1426.4 1177,1425.8 1178,1425.4 1179,1425.7 1180,1425.7 1181,1424.1 1182,1425.4 1183,1425.9 1184,1425.4 1185,1424.3 1186,1424.1 1187,1426.9 1188,1427.2 1189,1427.0 1190,1426.1 1191,1428.6 1192,1428.7 1193,1427.9 1194,1428.0 1195,1426.8 1196,1429.3 1197,1427.5 1198,1429.7 1199,1429.9 1200,1429.6 1201,1431.0 1202,1429.5 1203,1430.4 1204,1430.7 1205,1430.4 1206,1430.0 1207,1431.4 1208,1430.8 1209,1430.4 1210,1430.5 1211,1430.8 1212,1432.7 1213,1430.9 1214,1430.7 1215,1430.1 1216,1430.0 1217,1429.5 1218,1431.3 1219,1431.2 1220,1430.3 1221,1430.0 1222,1431.0 1223,1430.8 1224,1430.2 1225,1431.6 1226,1431.5 1227,1431.4 1228,1432.1 1229,1430.9 1230,1432.6 1231,1430.7 1232,1432.0 1233,1432.1 1234,1431.4 1235,1432.0 1236,1430.6 1237,1430.5 1238,1431.6 1239,1431.2 1240,1432.3 1241,1431.9 1242,1432.4 1243,1432.2 1244,1432.1 1245,1432.1 1246,1431.7 1247,1431.7 1248,1433.8 1249,1430.8 1250,1432.1 1251,1433.1 1252,1432.7 1253,1433.6 1254,1432.9 1255,1431.5 1256,1432.4 1257,1431.6 1258,1433.6 1259,1434.0 1260,1432.6 1261,1433.4 1262,1432.7 1263,1432.0 1264,1432.9 1265,1432.0 1266,1432.9 1267,1433.7 1268,1434.2 1269,1434.7 1270,1433.5 1271,1434.0 1272,1434.3 1273,1434.4 1274,1432.1 1275,1433.6 1276,1434.9 1277,1433.5 1278,1434.6 1279,1435.2 1280,1433.1 1281,1434.5 1282,1435.0 1283,1434.9 1284,1433.7 1285,1435.3 1286,1434.6 1287,1435.8 1288,1435.6 1289,1434.9 1290,1435.5 1291,1434.9 1292,1435.0 1293,1434.3 1294,1435.5 1295,1436.3 1296,1435.8 1297,1435.8 1298,1435.4 1299,1435.5 1300,1436.5 1301,1434.8 1302,1437.6 1303,1436.0 1304,1437.8 1305,1437.1 1306,1435.8 1307,1436.8 1308,1436.5 1309,1436.7 1310,1437.0 1311,1435.9 1312,1435.9 1313,1436.1 1314,1435.4 1315,1436.3 1316,1436.7 1317,1436.8 1318,1436.8 1319,1436.4 1320,1437.3 1321,1435.2 1322,1436.5 1323,1436.6 1324,1437.6 1325,1437.4 1326,1437.6 1327,1437.0 1328,1437.7 1329,1436.3 1330,1437.1 1331,1435.5 1332,1438.5 1333,1438.4 1334,1436.8 1335,1436.6 1336,1435.7 1337,1436.2 1338,1437.5 1339,1437.3 1340,1436.3 1341,1437.1 1342,1437.0 1343,1437.9 1344,1438.1 1345,1437.5 1346,1437.8 1347,1437.7 1348,1436.1 1349,1437.9 1350,1437.8 1351,1438.4 1352,1436.5 1353,1438.5 1354,1437.5 1355,1438.2 1356,1438.9 1357,1436.9 1358,1437.1 1359,1438.9 1360,1437.3 1361,1437.5 1362,1438.7 1363,1438.1 1364,1438.9 1365,1438.6 1366,1438.3 1367,1439.1 1368,1440.1 1369,1438.4 1370,1439.6 1371,1439.4 1372,1438.6 1373,1438.9 1374,1437.9 1375,1438.2 1376,1438.9 1377,1438.7 1378,1439.7 1379,1437.8 1380,1438.6 1381,1438.4 1382,1438.8 1383,1439.8 1384,1438.1 1385,1439.6 1386,1438.6 1387,1438.8 1388,1439.8 1389,1438.9 1390,1439.6 1391,1439.3 1392,1439.1 1393,1439.0 1394,1438.0 1395,1438.8 1396,1439.5 1397,1439.5 1398,1438.3 1399,1440.2 1400,1439.9 1401,1438.5 1402,1438.8 1403,1439.9 1404,1438.3 1405,1439.1 1406,1439.6 1407,1439.6 1408,1439.7 1409,1440.0 1410,1439.2 1411,1439.4 1412,1441.3 1413,1438.8 1414,1439.6 1415,1440.0 1416,1439.5 1417,1440.9 1418,1440.1 1419,1440.6 1420,1438.3 1421,1441.0 1422,1441.0 1423,1439.6 1424,1441.1 1425,1440.4 1426,1440.9 1427,1441.6 1428,1440.4 1429,1439.6 1430,1440.3 1431,1439.5 1432,1439.8 1433,1439.9 1434,1440.0 1435,1441.3 1436,1441.1 1437,1439.9 1438,1441.4 1439,1439.4 1440,1440.2 1441,1440.6 1442,1441.5 1443,1441.2 1444,1441.1 1445,1441.7 1446,1441.3 1447,1441.8 1448,1440.3 1449,1439.7 1450,1440.6 1451,1441.5 1452,1441.1 1453,1441.6 1454,1441.5 1455,1441.4 1456,1441.6 1457,1440.6 1458,1441.9 1459,1440.4 1460,1441.1 1461,1440.2 1462,1441.6 1463,1440.1 1464,1442.3 1465,1440.3 1466,1441.5 1467,1441.2 1468,1440.8 1469,1442.3 1470,1441.1 1471,1442.5 1472,1440.7 1473,1440.9 1474,1440.1 1475,1441.9 1476,1442.2 1477,1441.7 1478,1441.5 1479,1441.0 1480,1443.3 1481,1442.2 1482,1440.4 1483,1441.5 1484,1440.1 1485,1442.9 1486,1443.2 1487,1442.8 1488,1441.8 1489,1441.5 1490,1440.9 1491,1442.3 1492,1441.4 1493,1441.7 1494,1441.6 1495,1441.8 1496,1442.7 1497,1443.2 1498,1442.2 1499,1442.1 1500,1441.4 1501,1441.3 1502,1441.4 1503,1442.8 1504,1442.4 1505,1442.9 1506,1442.6 1507,1442.0 1508,1441.5 1509,1442.1 1510,1441.4 1511,1443.8 1512,1442.6 1513,1442.2 1514,1443.8 1515,1442.2 1516,1442.9 1517,1442.4 1518,1442.8 1519,1442.3 1520,1442.9 1521,1443.6 1522,1441.8 1523,1441.1 1524,1443.6 1525,1442.8 1526,1443.3 1527,1442.5 1528,1443.8 1529,1444.0 1530,1442.0 1531,1443.3 1532,1442.4 1533,1441.8 1534,1442.7 1535,1443.3 1536,1442.0 1537,1442.1 1538,1443.8 1539,1443.0 1540,1443.3 1541,1442.2 1542,1442.6 1543,1443.1 1544,1443.2 1545,1443.2 1546,1444.2 1547,1443.2 1548,1442.1 1549,1442.6 1550,1443.1 1551,1444.1 1552,1442.8 1553,1443.0 1554,1443.2 1555,1442.8 1556,1442.7 1557,1443.2 1558,1444.0 1559,1443.7 1560,1443.2 1561,1443.7 1562,1442.5 1563,1444.1 1564,1443.9 1565,1443.7 1566,1442.4 1567,1444.9 1568,1441.9 1569,1442.9 1570,1442.9 1571,1444.0 1572,1442.6 1573,1443.8 1574,1443.5 1575,1443.5 1576,1444.3 1577,1444.7 1578,1444.0 1579,1443.6 1580,1442.2 1581,1444.8 1582,1443.6 1583,1442.6 1584,1443.9 1585,1444.8 1586,1443.8 1587,1443.1 1588,1445.4 1589,1444.3 1590,1444.2 1591,1444.7 1592,1442.6 1593,1444.0 1594,1443.9 1595,1445.6 1596,1443.7 1597,1443.7 1598,1443.2 1599,1443.6 1600,1444.0 1601,1444.3 1602,1444.1 1603,1445.5 1604,1444.6 1605,1444.7 1606,1445.2 1607,1444.7 1608,1444.0 1609,1443.3 1610,1444.6 1611,1443.8 1612,1445.3 1613,1443.9 1614,1443.0 1615,1444.5 1616,1445.2 1617,1444.3 1618,1444.6 1619,1444.6 1620,1445.7 1621,1444.7 1622,1444.5 1623,1444.2 1624,1443.5 1625,1445.5 1626,1445.4 1627,1444.0 1628,1445.1 1629,1444.9 1630,1444.5 1631,1444.5 1632,1445.2 1633,1444.0 1634,1444.4 1635,1444.8 1636,1444.8 1637,1444.7 1638,1445.0 1639,1445.2 1640,1444.3 1641,1445.0 1642,1444.6 1643,1445.9 1644,1444.1 1645,1444.8 1646,1445.5 1647,1444.8 1648,1444.8 1649,1444.7 1650,1445.3 1651,1444.3 1652,1445.1 1653,1445.1 1654,1444.2 1655,1445.4 1656,1444.9 1657,1445.4 1658,1445.8 1659,1445.5 1660,1444.5 1661,1445.5 1662,1444.3 1663,1444.8 1664,1446.4 1665,1445.4 1666,1446.4 1667,1445.3 1668,1445.4 1669,1444.7 1670,1446.1 1671,1445.4 1672,1445.9 1673,1445.8 1674,1445.9 1675,1445.8 1676,1445.6 1677,1445.6 1678,1445.2 1679,1444.3 1680,1446.0 1681,1447.0 1682,1446.4 1683,1447.2 1684,1446.0 1685,1445.1 1686,1445.2 1687,1446.3 1688,1446.0 1689,1445.7 1690,1446.3 1691,1445.3 1692,1446.2 1693,1445.7 1694,1446.0 1695,1446.7 1696,1445.9 1697,1446.9 1698,1446.8 1699,1445.6 1700,1447.5 1701,1445.3 1702,1446.0 1703,1446.6 1704,1444.7 1705,1446.8 1706,1446.9 1707,1446.1 1708,1446.4 1709,1446.4 1710,1446.1 1711,1446.9 1712,1446.0 1713,1446.3 1714,1446.5 1715,1446.9 1716,1447.0 1717,1445.4 1718,1445.1 1719,1446.3 1720,1446.4 1721,1445.8 1722,1446.7 1723,1446.9 1724,1446.7 1725,1447.5 1726,1445.9 1727,1446.6 1728,1447.8 1729,1447.0 1730,1445.9 1731,1446.8 1732,1447.4 1733,1448.0 1734,1447.1 1735,1447.4 1736,1446.0 1737,1446.6 1738,1447.5 1739,1446.2 1740,1446.8 1741,1445.7 1742,1447.8 1743,1446.8 1744,1447.2 1745,1446.0 1746,1446.1 1747,1448.1 1748,1446.7 1749,1446.6 1750,1447.3 1751,1447.3 1752,1445.8 1753,1446.4 1754,1447.1 1755,1447.1 1756,1447.3 1757,1446.9 1758,1447.0 1759,1447.3 1760,1446.8 1761,1446.7 1762,1446.9 1763,1447.2 1764,1447.2 1765,1447.0 1766,1447.1 1767,1447.3 1768,1447.5 1769,1447.6 1770,1446.6 1771,1448.0 1772,1446.4 1773,1447.8 1774,1447.0 1775,1447.8 1776,1448.1 1777,1446.4 1778,1447.9 1779,1447.7 1780,1447.3 1781,1447.8 1782,1447.3 1783,1447.7 1784,1447.0 1785,1448.2 1786,1448.1 1787,1448.2 1788,1447.3 1789,1448.9 1790,1449.0 1791,1447.7 1792,1447.6 1793,1447.6 1794,1448.3 1795,1448.5 1796,1447.5 1797,1446.7 1798,1448.2 1799,1447.9 1800,1448.1 1801,1448.3 1802,1447.4 1803,1448.1 1804,1447.9 1805,1448.3 1806,1448.8 1807,1448.1 1808,1447.6 1809,1448.9 1810,1448.6 1811,1448.1 1812,1447.2 1813,1447.7 1814,1448.4 1815,1448.6 1816,1448.0 1817,1448.6 1818,1448.0 1819,1448.1 1820,1448.7 1821,1448.3 1822,1448.5 1823,1449.0 1824,1449.1 1825,1448.1 1826,1448.4 1827,1447.7 1828,1447.8 1829,1448.7 1830,1448.3 1831,1447.5 1832,1448.9 1833,1448.1 1834,1448.5 1835,1448.9 1836,1448.9 1837,1448.7 1838,1447.6 1839,1449.1 1840,1448.4 1841,1448.0 1842,1447.5 1843,1449.6 1844,1448.9 1845,1448.9 1846,1449.3 1847,1448.9 1848,1448.1 1849,1449.3 1850,1449.6 1851,1449.3 1852,1449.9 1853,1450.1 1854,1448.6 1855,1448.8 1856,1449.6 1857,1449.2 1858,1449.2 1859,1449.7 1860,1449.6 1861,1448.9 1862,1449.3 1863,1448.8 1864,1449.1 1865,1448.6 1866,1448.1 1867,1449.0 1868,1449.0 1869,1449.8 1870,1450.3 1871,1449.4 1872,1449.7 1873,1449.0 1874,1448.9 1875,1449.3 1876,1449.3 1877,1449.6 1878,1449.6 1879,1450.5 1880,1449.4 1881,1448.6 1882,1449.6 1883,1449.2 1884,1449.7 1885,1450.3 1886,1449.3 1887,1449.6 1888,1450.0 1889,1449.2 1890,1449.8 1891,1450.1 1892,1450.2 1893,1450.4 1894,1450.1 1895,1450.0 1896,1449.0 1897,1448.4 1898,1449.3 1899,1450.7 1900,1450.0 1901,1448.6 1902,1449.7 1903,1450.2 1904,1448.9 1905,1450.3 1906,1449.4 1907,1450.6 1908,1450.1 1909,1451.5 1910,1449.3 1911,1450.3 1912,1449.3 1913,1450.8 1914,1450.2 1915,1450.7 1916,1450.3 1917,1449.6 1918,1449.9 1919,1449.6 1920,1449.7 1921,1450.4 1922,1450.9 1923,1450.8 1924,1450.6 1925,1450.1 1926,1450.7 1927,1449.9 1928,1450.5 1929,1450.9 1930,1450.4 1931,1450.2 1932,1450.3 1933,1450.9 1934,1450.4 1935,1449.8 1936,1450.3 1937,1450.0 1938,1451.5 1939,1450.6 1940,1449.8 1941,1450.8 1942,1451.1 1943,1450.9 1944,1450.5 1945,1450.8 1946,1450.9 1947,1451.3 1948,1451.0 1949,1452.1 1950,1450.7 1951,1451.7 1952,1450.9 1953,1449.9 1954,1450.2 1955,1449.9 1956,1450.0 1957,1451.6 1958,1450.6 1959,1451.3 1960,1450.5 1961,1451.0 1962,1450.5 1963,1451.5 1964,1450.9 1965,1450.8 1966,1451.0 1967,1452.3 1968,1451.4 1969,1451.6 1970,1450.5 1971,1450.8 1972,1451.4 1973,1450.2 1974,1452.0 1975,1451.4 1976,1451.3 1977,1451.2 1978,1451.2 1979,1451.1 1980,1452.1 1981,1451.8 1982,1452.1 1983,1451.2 1984,1450.9 1985,1452.2 1986,1450.8 1987,1451.2 1988,1451.9 1989,1452.1 1990,1450.8 1991,1451.4 1992,1451.6 1993,1451.5 1994,1451.1 1995,1452.0 1996,1451.4 1997,1451.5 1998,1450.4 1999,1451.6 2000,1450.6 2001,1452.1 2002,1452.0 2003,1451.5 2004,1451.9 2005,1451.9 2006,1451.7 2007,1452.0 2008,1451.8 2009,1451.6 2010,1451.5 2011,1452.8 2012,1452.0 2013,1451.9 2014,1452.4 2015,1451.8 2016,1451.8 2017,1452.4 2018,1452.6 2019,1452.4 2020,1451.3 2021,1452.1 2022,1452.1 2023,1452.4 2024,1451.7 2025,1451.6 2026,1452.1 2027,1451.7 2028,1451.6 2029,1452.2 2030,1452.7 2031,1452.3 2032,1452.9 2033,1451.8 2034,1452.7 2035,1452.3 2036,1451.9 2037,1452.1 2038,1451.9 2039,1452.3 2040,1452.0 2041,1453.1 2042,1452.3 2043,1451.7 2044,1452.4 2045,1452.7 2046,1452.3 2047,1453.0 2048,1452.1 2049,1452.1 2050,1453.5 2051,1452.6 2052,1452.9 2053,1452.9 2054,1453.0 2055,1452.7 2056,1452.6 2057,1453.3 2058,1452.5 2059,1452.8 2060,1453.1 2061,1452.6 2062,1452.0 2063,1453.1 2064,1453.4 2065,1453.0 2066,1452.0 2067,1453.2 2068,1453.9 2069,1452.1 2070,1451.6 2071,1452.8 2072,1453.0 2073,1453.4 2074,1453.4 2075,1453.1 2076,1453.3 2077,1453.2 2078,1453.1 2079,1453.1 2080,1453.0 2081,1453.5 2082,1453.4 2083,1452.9 2084,1453.7 2085,1452.8 2086,1453.1 2087,1453.3 2088,1452.2 2089,1453.1 2090,1453.7 2091,1453.7 2092,1452.7 2093,1452.9 2094,1452.8 2095,1453.2 2096,1453.3 2097,1452.5 2098,1453.6 2099,1453.5 2100,1453.4 2101,1453.1 2102,1453.4 2103,1452.6 2104,1453.6 2105,1453.6 2106,1453.5 2107,1452.9 2108,1454.2 2109,1454.2 2110,1452.6 2111,1453.8 2112,1453.7 2113,1452.3 2114,1453.9 2115,1454.0 2116,1454.1 2117,1453.8 2118,1453.4 2119,1453.5 2120,1454.0 2121,1454.4 2122,1453.5 2123,1453.7 2124,1454.2 2125,1452.7 2126,1454.1 2127,1453.8 2128,1452.8 2129,1454.3 2130,1453.5 2131,1454.4 2132,1454.7 2133,1453.3 2134,1453.4 2135,1454.0 2136,1453.1 2137,1454.4 2138,1454.2 2139,1454.6 2140,1453.2 2141,1454.2 2142,1454.4 2143,1453.2 2144,1454.6 2145,1453.5 2146,1454.3 2147,1453.5 2148,1454.6 2149,1455.1 2150,1454.3 2151,1454.3 2152,1455.0 2153,1454.1 2154,1454.4 2155,1454.8 2156,1454.6 2157,1455.2 2158,1455.0 2159,1455.4 2160,1454.4 2161,1455.0 2162,1454.1 2163,1455.0 2164,1455.4 2165,1455.7 2166,1453.9 2167,1454.5 2168,1455.0 2169,1454.2 2170,1454.9 2171,1454.9 2172,1454.4 2173,1454.4 2174,1454.2 2175,1454.9 2176,1455.4 2177,1454.9 2178,1456.0 2179,1454.0 2180,1454.5 2181,1455.1 2182,1454.2 2183,1455.0 2184,1455.3 2185,1455.0 2186,1454.8 2187,1455.4 2188,1455.1 2189,1455.3 2190,1455.2 2191,1454.6 2192,1454.4 2193,1454.8 2194,1455.1 2195,1454.9 2196,1455.5 2197,1455.2 2198,1455.6 2199,1455.1 2200,1454.7 2201,1455.5 2202,1455.4 2203,1454.7 2204,1454.9 2205,1456.4 2206,1453.8 2207,1455.8 2208,1455.2 2209,1455.2 2210,1455.1 2211,1455.0 2212,1456.5 2213,1455.1 2214,1455.1 2215,1455.7 2216,1455.5 2217,1455.2 2218,1455.2 2219,1454.7 2220,1455.9 2221,1454.8 2222,1454.2 2223,1456.0 2224,1455.8 2225,1455.6 2226,1455.2 2227,1456.1 2228,1454.9 2229,1454.4 2230,1455.6 2231,1455.9 2232,1455.9 2233,1456.6 2234,1456.0 2235,1455.5 2236,1455.5 2237,1456.1 2238,1455.6 2239,1455.6 2240,1454.8 2241,1455.5 2242,1455.0 2243,1455.8 2244,1455.8 2245,1456.1 2246,1456.7 2247,1455.7 2248,1456.5 2249,1455.2 2250,1455.9 2251,1456.3 2252,1456.8 2253,1455.3 2254,1455.7 2255,1456.0 2256,1455.8 2257,1455.4 2258,1455.1 2259,1455.3 2260,1455.9 2261,1455.3 2262,1456.9 2263,1456.6 2264,1455.0 2265,1455.8 2266,1456.7 2267,1456.8 2268,1456.6 2269,1455.3 2270,1455.9 2271,1456.8 2272,1456.2 2273,1455.9 2274,1456.4 2275,1456.7 2276,1456.3 2277,1456.3 2278,1456.8 2279,1455.9 2280,1455.8 2281,1456.6 2282,1455.7 2283,1456.5 2284,1455.9 2285,1456.7 2286,1455.7 2287,1456.9 2288,1456.5 2289,1456.2 2290,1455.9 2291,1456.3 2292,1455.9 2293,1455.8 2294,1457.0 2295,1456.8 2296,1457.1 2297,1455.8 2298,1455.5 2299,1455.7 2300,1456.9 2301,1456.9 2302,1455.6 2303,1457.1 2304,1456.3 2305,1456.0 2306,1456.6 2307,1456.9 2308,1456.5 2309,1456.5 2310,1456.2 2311,1455.9 2312,1456.5 2313,1455.9 2314,1457.0 2315,1456.3 2316,1457.4 2317,1455.9 2318,1457.5 2319,1456.3 2320,1456.3 2321,1456.9 2322,1457.3 2323,1456.8 2324,1456.7 2325,1457.9 2326,1457.1 2327,1456.3 2328,1456.8 2329,1457.8 2330,1457.1 2331,1457.4 2332,1458.0 2333,1456.7" fill="none" stroke="#ff0000" stroke-width="3.6" stroke-linejoin="round"/>
<polyline points="158,1147.1 159,1121.6 160,1136.4 161,1130.2 162,1129.9 163,1130.2 164,1119.6 165,1128.3 166,1124.0 167,1141.0 168,1128.0 169,1124.0 170,1123.5 171,1120.6 172,1117.7 173,1120.3 174,1124.0 175,1119.4 176,1124.8 177,1117.8 178,1118.2 179,1125.3 180,1119.2 181,1112.9 182,1113.7 183,1116.6 184,1123.1 185,1110.8 186,1110.1 187,1115.7 188,1105.1 189,1107.3 190,1112.6 191,1110.2 192,1106.9 193,1109.0 194,1091.9 195,1109.2 196,1098.2 197,1093.8 198,1103.0 199,1104.3 200,1097.7 201,1093.8 202,1098.6 203,1097.5 204,1104.1 205,1100.1 206,1096.6 207,1100.5 208,1093.2 209,1089.0 210,1095.9 211,1095.3 212,1090.6 213,1087.1 214,1091.5 215,1077.2 216,1092.4 217,1090.7 218,1079.4 219,1087.2 220,1081.4 221,1089.3 222,1074.9 223,1079.8 224,1087.2 225,1088.8 226,1072.0 227,1079.7 228,1083.3 229,1078.3 230,1088.7 231,1074.8 232,1082.1 233,1075.1 234,1086.9 235,1079.9 236,1078.2 237,1071.7 238,1088.3 239,1083.9 240,1084.1 241,1086.2 242,1082.6 243,1078.2 244,1077.7 245,1078.0 246,1088.8 247,1075.6 248,1080.1 249,1081.8 250,1084.9 251,1087.0 252,1078.7 253,1076.9 254,1085.5 255,1091.7 256,1090.0 257,1087.8 258,1085.7 259,1089.0 260,1086.9 261,1092.2 262,1085.0 263,1089.8 264,1089.0 265,1092.5 266,1091.4 267,1102.4 268,1098.2 269,1098.6 270,1082.6 271,1091.0 272,1090.2 273,1095.9 274,1083.4 275,1099.8 276,1099.8 277,1089.4 278,1091.4 279,1092.7 280,1097.0 281,1100.3 282,1107.2 283,1097.5 284,1102.4 285,1100.2 286,1108.0 287,1103.9 288,1107.3 289,1096.9 290,1101.5 291,1099.3 292,1110.4 293,1107.2 294,1103.6 295,1103.6 296,1108.5 297,1103.9 298,1103.6 299,1110.6 300,1120.1 301,1108.8 302,1108.1 303,1106.1 304,1106.1 305,1115.0 306,1117.1 307,1114.1 308,1116.2 309,1115.9 310,1116.6 311,1110.0 312,1115.4 313,1118.6 314,1115.5 315,1117.7 316,1117.0 317,1120.0 318,1126.0 319,1121.3 320,1123.2 321,1128.1 322,1128.1 323,1133.2 324,1117.5 325,1130.7 326,1125.3 327,1128.3 328,1131.5 329,1132.7 330,1132.4 331,1128.6 332,1134.7 333,1126.5 334,1127.0 335,1130.8 336,1125.0 337,1136.3 338,1131.4 339,1136.1 340,1126.6 341,1125.0 342,1127.1 343,1129.3 344,1123.6 345,1127.5 346,1125.6 347,1132.2 348,1122.5 349,1129.4 350,1122.1 351,1120.5 352,1121.3 353,1119.0 354,1124.3 355,1127.6 356,1123.7 357,1125.2 358,1129.0 359,1123.0 360,1122.3 361,1119.9 362,1114.0 363,1123.2 364,1112.4 365,1121.6 366,1118.3 367,1122.3 368,1116.7 369,1112.9 370,1116.8 371,1112.0 372,1112.4 373,1112.1 374,1109.9 375,1108.1 376,1103.6 377,1104.1 378,1093.9 379,1099.2 380,1091.9 381,1097.7 382,1094.3 383,1076.9 384,1080.1 385,1073.1 386,1062.8 387,1061.5 388,1049.2 389,1034.6 390,1030.1 391,1019.0 392,1007.4 393,988.4 394,980.8 395,965.4 396,941.2 397,925.5 398,909.5 399,888.9 400,879.0 401,854.3 402,831.4 403,815.3 404,802.6 405,798.5 406,778.3 407,772.0 408,769.5 409,767.1 410,779.9 411,776.5 412,792.1 413,803.0 414,819.7 415,828.8 416,856.5 417,865.6 418,882.2 419,893.8 420,909.0 421,927.4 422,941.5 423,952.0 424,964.0 425,971.5 426,977.4 427,987.9 428,993.7 429,997.0 430,1005.3 431,1011.8 432,1011.2 433,1011.5 434,1017.3 435,1022.9 436,1015.9 437,1017.1 438,1017.6 439,1023.4 440,1013.2 441,1023.0 442,1027.9 443,1022.3 444,1032.7 445,1031.0 446,1028.8 447,1033.3 448,1028.6 449,1033.8 450,1044.0 451,1035.5 452,1046.7 453,1040.8 454,1045.6 455,1042.9 456,1035.2 457,1041.8 458,1044.9 459,1040.3 460,1039.6 461,1045.7 462,1041.6 463,1037.1 464,1039.6 465,1043.7 466,1036.8 467,1039.1 468,1037.6 469,1027.8 470,1017.9 471,1010.4 472,1006.6 473,999.8 474,986.1 475,973.9 476,955.9 477,943.0 478,924.6 479,910.3 480,894.7 481,885.7 482,887.3 483,889.5 484,900.8 485,921.9 486,937.1 487,964.8 488,977.2 489,988.4 490,1008.2 491,1019.8 492,1027.3 493,1043.1 494,1044.5 495,1045.2 496,1062.2 497,1061.9 498,1073.1 499,1068.9 500,1069.8 501,1081.6 502,1074.6 503,1080.7 504,1086.5 505,1083.2 506,1083.7 507,1085.3 508,1088.6 509,1083.6 510,1088.9 511,1089.1 512,1095.0 513,1085.7 514,1083.1 515,1087.7 516,1082.3 517,1082.4 518,1079.0 519,1078.7 520,1067.9 521,1064.2 522,1049.6 523,1047.7 524,1048.2 525,1033.3 526,1027.1 527,1021.6 528,1027.1 529,1027.7 530,1026.8 531,1038.0 532,1042.7 533,1050.8 534,1052.8 535,1067.2 536,1069.0 537,1073.1 538,1077.1 539,1082.8 540,1090.7 541,1090.9 542,1098.7 543,1100.1 544,1105.2 545,1105.8 546,1104.9 547,1100.7 548,1109.5 549,1112.4 550,1111.7 551,1114.0 552,1111.7 553,1112.9 554,1112.0 555,1120.2 556,1117.0 557,1115.5 558,1113.4 559,1117.8 560,1123.4 561,1120.7 562,1117.3 563,1124.6 564,1124.9 565,1123.7 566,1123.4 567,1124.7 568,1122.9 569,1123.7 570,1118.8 571,1126.0 572,1121.9 573,1127.4 574,1114.4 575,1122.8 576,1123.3 577,1118.7 578,1120.6 579,1120.9 580,1119.6 581,1115.3 582,1115.6 583,1118.1 584,1117.7 585,1112.7 586,1111.1 587,1109.8 588,1110.6 589,1102.2 590,1099.2 591,1101.5 592,1095.2 593,1094.3 594,1093.6 595,1091.9 596,1084.1 597,1086.7 598,1075.6 599,1079.4 600,1069.6 601,1067.2 602,1069.7 603,1063.4 604,1059.2 605,1057.5 606,1057.8 607,1054.1 608,1052.5 609,1054.7 610,1048.8 611,1049.6 612,1050.4 613,1057.6 614,1060.2 615,1065.1 616,1065.8 617,1070.6 618,1079.1 619,1080.9 620,1090.1 621,1095.2 622,1096.2 623,1103.0 624,1107.6 625,1117.5 626,1123.9 627,1120.0 628,1123.8 629,1120.2 630,1130.5 631,1132.6 632,1131.9 633,1139.6 634,1134.7 635,1140.6 636,1143.3 637,1140.9 638,1148.5 639,1150.5 640,1144.7 641,1146.0 642,1153.2 643,1152.6 644,1150.5 645,1154.4 646,1156.2 647,1157.4 648,1161.4 649,1161.3 650,1166.5 651,1166.5 652,1165.6 653,1167.8 654,1169.6 655,1168.8 656,1164.2 657,1171.1 658,1169.7 659,1174.9 660,1171.3 661,1173.2 662,1173.3 663,1177.8 664,1174.2 665,1173.6 666,1175.9 667,1174.4 668,1176.7 669,1176.8 670,1178.2 671,1183.4 672,1177.4 673,1179.1 674,1178.9 675,1181.8 676,1177.0 677,1178.8 678,1181.0 679,1182.9 680,1181.5 681,1180.4 682,1179.6 683,1183.6 684,1186.3 685,1183.3 686,1183.0 687,1183.8 688,1180.1 689,1181.9 690,1182.1 691,1183.7 692,1182.9 693,1179.7 694,1186.2 695,1187.8 696,1182.5 697,1184.4 698,1184.1 699,1185.6 700,1179.5 701,1187.9 702,1182.3 703,1187.1 704,1184.0 705,1182.8 706,1183.5 707,1186.4 708,1181.7 709,1183.1 710,1182.9 711,1179.7 712,1187.9 713,1186.2 714,1185.0 715,1188.6 716,1183.5 717,1186.5 718,1192.0 719,1190.8 720,1183.1 721,1183.3 722,1188.1 723,1194.5 724,1191.4 725,1193.0 726,1196.1 727,1193.0 728,1196.7 729,1199.0 730,1198.8 731,1199.2 732,1197.2 733,1200.8 734,1198.9 735,1204.1 736,1207.8 737,1200.0 738,1196.9 739,1202.1 740,1204.8 741,1207.1 742,1207.8 743,1203.5 744,1204.0 745,1209.8 746,1204.2 747,1210.3 748,1207.2 749,1210.1 750,1210.3 751,1210.7 752,1211.0 753,1206.5 754,1210.0 755,1209.4 756,1210.2 757,1212.7 758,1209.0 759,1207.9 760,1208.0 761,1209.1 762,1211.9 763,1208.0 764,1213.1 765,1210.9 766,1209.7 767,1206.9 768,1211.0 769,1212.2 770,1206.0 771,1213.5 772,1214.7 773,1211.5 774,1211.9 775,1216.8 776,1213.9 777,1208.6 778,1210.9 779,1210.6 780,1210.7 781,1205.3 782,1213.2 783,1209.8 784,1211.9 785,1211.3 786,1213.9 787,1211.1 788,1210.0 789,1213.5 790,1215.8 791,1211.7 792,1216.1 793,1213.6 794,1211.8 795,1217.1 796,1211.6 797,1216.3 798,1212.9 799,1215.4 800,1211.6 801,1212.8 802,1217.7 803,1215.9 804,1215.8 805,1214.9 806,1217.4 807,1213.2 808,1214.2 809,1216.8 810,1215.5 811,1216.1 812,1217.9 813,1218.1 814,1218.2 815,1223.1 816,1221.8 817,1222.6 818,1219.9 819,1219.1 820,1217.2 821,1220.2 822,1216.4 823,1220.3 824,1223.9 825,1226.4 826,1225.2 827,1221.3 828,1224.9 829,1222.3 830,1226.5 831,1224.8 832,1227.5 833,1231.8 834,1228.5 835,1232.2 836,1227.6 837,1226.8 838,1231.1 839,1232.5 840,1227.5 841,1229.4 842,1226.2 843,1229.5 844,1232.4 845,1230.5 846,1229.7 847,1228.1 848,1232.6 849,1233.9 850,1233.8 851,1233.4 852,1230.1 853,1237.5 854,1233.6 855,1233.8 856,1236.1 857,1229.8 858,1234.9 859,1235.1 860,1236.6 861,1239.1 862,1237.4 863,1232.4 864,1236.1 865,1237.7 866,1237.8 867,1234.9 868,1234.3 869,1239.6 870,1239.4 871,1238.8 872,1235.2 873,1243.4 874,1234.0 875,1239.0 876,1244.8 877,1240.0 878,1241.0 879,1238.1 880,1244.0 881,1238.2 882,1241.9 883,1241.8 884,1239.4 885,1243.9 886,1238.9 887,1240.7 888,1242.4 889,1241.7 890,1243.9 891,1245.1 892,1242.5 893,1242.2 894,1242.4 895,1243.0 896,1245.8 897,1243.7 898,1245.3 899,1244.4 900,1243.0 901,1247.0 902,1243.0 903,1245.6 904,1249.1 905,1243.7 906,1246.3 907,1243.2 908,1245.9 909,1244.0 910,1246.8 911,1246.8 912,1248.6 913,1252.1 914,1249.6 915,1250.7 916,1249.5 917,1249.4 918,1248.5 919,1246.8 920,1251.1 921,1254.8 922,1252.7 923,1250.8 924,1255.8 925,1251.6 926,1251.5 927,1250.5 928,1251.3 929,1253.0 930,1258.1 931,1253.6 932,1252.0 933,1253.1 934,1254.1 935,1251.1 936,1255.2 937,1256.5 938,1255.9 939,1256.6 940,1252.7 941,1252.0 942,1258.5 943,1258.2 944,1252.7 945,1256.6 946,1256.3 947,1257.5 948,1256.9 949,1255.6 950,1257.2 951,1257.2 952,1256.9 953,1253.3 954,1252.1 955,1255.8 956,1254.2 957,1258.3 958,1259.4 959,1258.7 960,1257.5 961,1258.6 962,1261.1 963,1257.4 964,1261.1 965,1260.9 966,1260.2 967,1263.0 968,1258.8 969,1262.5 970,1258.9 971,1259.6 972,1259.3 973,1262.7 974,1260.2 975,1262.6 976,1260.5 977,1265.3 978,1267.2 979,1264.2 980,1267.5 981,1265.6 982,1269.2 983,1265.3 984,1262.2 985,1268.8 986,1265.8 987,1264.2 988,1265.3 989,1263.6 990,1266.8 991,1265.2 992,1270.6 993,1269.2 994,1264.7 995,1265.2 996,1267.3 997,1264.8 998,1268.5 999,1268.8 1000,1267.4 1001,1268.0 1002,1270.2 1003,1272.1 1004,1272.3 1005,1269.5 1006,1271.2 1007,1268.0 1008,1270.4 1009,1267.7 1010,1271.1 1011,1267.3 1012,1267.9 1013,1269.8 1014,1271.0 1015,1267.1 1016,1268.9 1017,1270.3 1018,1270.5 1019,1268.4 1020,1270.3 1021,1269.6 1022,1273.0 1023,1271.4 1024,1267.7 1025,1266.1 1026,1270.7 1027,1272.9 1028,1271.0 1029,1272.4 1030,1269.9 1031,1268.2 1032,1272.5 1033,1271.4 1034,1272.7 1035,1268.9 1036,1272.1 1037,1270.8 1038,1273.8 1039,1271.4 1040,1271.6 1041,1272.0 1042,1275.8 1043,1273.7 1044,1272.5 1045,1272.3 1046,1272.6 1047,1277.7 1048,1271.7 1049,1273.8 1050,1276.9 1051,1278.2 1052,1276.0 1053,1278.0 1054,1278.2 1055,1278.8 1056,1277.2 1057,1280.5 1058,1277.9 1059,1280.5 1060,1275.6 1061,1279.6 1062,1275.5 1063,1275.2 1064,1279.0 1065,1276.6 1066,1279.1 1067,1276.3 1068,1281.4 1069,1278.4 1070,1276.3 1071,1278.9 1072,1280.2 1073,1277.2 1074,1279.6 1075,1282.6 1076,1280.4 1077,1278.8 1078,1277.8 1079,1280.0 1080,1276.1 1081,1274.2 1082,1277.8 1083,1277.1 1084,1282.4 1085,1279.5 1086,1277.4 1087,1277.2 1088,1280.3 1089,1277.9 1090,1278.4 1091,1279.4 1092,1279.8 1093,1279.9 1094,1280.0 1095,1282.3 1096,1283.1 1097,1277.0 1098,1284.6 1099,1280.5 1100,1282.6 1101,1279.1 1102,1281.1 1103,1281.0 1104,1280.9 1105,1282.4 1106,1282.1 1107,1279.2 1108,1280.9 1109,1282.5 1110,1282.5 1111,1280.8 1112,1281.0 1113,1281.3 1114,1279.6 1115,1279.4 1116,1284.6 1117,1281.1 1118,1282.1 1119,1280.6 1120,1284.4 1121,1285.3 1122,1281.7 1123,1283.1 1124,1280.9 1125,1285.4 1126,1284.0 1127,1280.8 1128,1284.6 1129,1283.1 1130,1283.2 1131,1283.1 1132,1281.3 1133,1281.6 1134,1283.7 1135,1282.5 1136,1281.0 1137,1286.3 1138,1282.3 1139,1281.7 1140,1281.5 1141,1284.0 1142,1284.5 1143,1283.3 1144,1284.4 1145,1280.2 1146,1282.2 1147,1282.1 1148,1282.9 1149,1283.8 1150,1279.4 1151,1287.3 1152,1281.5 1153,1283.6 1154,1284.5 1155,1284.5 1156,1283.5 1157,1278.6 1158,1281.1 1159,1284.4 1160,1281.4 1161,1281.2 1162,1278.9 1163,1285.1 1164,1283.8 1165,1281.4 1166,1282.6 1167,1282.6 1168,1280.8 1169,1282.1 1170,1282.8 1171,1283.0 1172,1283.9 1173,1281.2 1174,1279.5 1175,1280.0 1176,1277.0 1177,1274.6 1178,1277.4 1179,1273.8 1180,1274.2 1181,1275.2 1182,1272.3 1183,1275.6 1184,1275.5 1185,1274.9 1186,1276.2 1187,1274.6 1188,1272.6 1189,1276.3 1190,1275.7 1191,1279.2 1192,1278.7 1193,1277.7 1194,1279.1 1195,1281.8 1196,1281.8 1197,1280.8 1198,1281.3 1199,1280.4 1200,1280.9 1201,1282.4 1202,1281.5 1203,1282.4 1204,1280.2 1205,1279.5 1206,1279.6 1207,1281.9 1208,1285.0 1209,1284.9 1210,1281.3 1211,1280.5 1212,1284.5 1213,1284.1 1214,1281.1 1215,1285.2 1216,1283.8 1217,1285.8 1218,1284.2 1219,1285.2 1220,1284.3 1221,1282.3 1222,1283.5 1223,1282.8 1224,1285.4 1225,1282.4 1226,1281.6 1227,1285.3 1228,1286.1 1229,1286.7 1230,1286.1 1231,1281.9 1232,1283.3 1233,1283.6 1234,1284.5 1235,1281.0 1236,1284.6 1237,1285.1 1238,1283.1 1239,1285.0 1240,1286.8 1241,1284.9 1242,1286.6 1243,1286.6 1244,1285.7 1245,1285.7 1246,1284.5 1247,1287.2 1248,1284.5 1249,1284.2 1250,1286.6 1251,1284.3 1252,1286.3 1253,1287.4 1254,1285.9 1255,1286.0 1256,1287.5 1257,1287.3 1258,1283.7 1259,1284.2 1260,1288.6 1261,1287.2 1262,1283.3 1263,1284.6 1264,1286.9 1265,1285.4 1266,1287.9 1267,1287.4 1268,1288.2 1269,1285.6 1270,1288.7 1271,1290.9 1272,1286.6 1273,1290.2 1274,1289.8 1275,1289.3 1276,1288.3 1277,1286.7 1278,1287.3 1279,1290.0 1280,1290.5 1281,1291.0 1282,1290.7 1283,1290.8 1284,1288.8 1285,1287.7 1286,1290.0 1287,1290.6 1288,1290.1 1289,1287.6 1290,1289.3 1291,1287.9 1292,1290.6 1293,1288.8 1294,1290.3 1295,1291.1 1296,1290.9 1297,1293.0 1298,1289.2 1299,1287.5 1300,1292.5 1301,1293.3 1302,1293.4 1303,1291.7 1304,1292.2 1305,1291.6 1306,1289.4 1307,1290.6 1308,1292.4 1309,1290.8 1310,1294.7 1311,1289.4 1312,1291.2 1313,1293.6 1314,1291.0 1315,1290.3 1316,1290.0 1317,1291.1 1318,1294.6 1319,1292.9 1320,1293.2 1321,1291.6 1322,1293.8 1323,1292.7 1324,1291.2 1325,1292.0 1326,1293.1 1327,1294.6 1328,1292.8 1329,1293.7 1330,1296.1 1331,1291.8 1332,1291.2 1333,1294.7 1334,1293.9 1335,1293.2 1336,1293.8 1337,1292.9 1338,1294.3 1339,1293.1 1340,1294.8 1341,1291.9 1342,1292.5 1343,1294.0 1344,1293.2 1345,1295.0 1346,1293.9 1347,1293.2 1348,1294.4 1349,1293.4 1350,1291.9 1351,1292.6 1352,1293.1 1353,1293.7 1354,1294.6 1355,1295.9 1356,1295.4 1357,1297.3 1358,1296.6 1359,1294.5 1360,1297.3 1361,1296.6 1362,1294.2 1363,1295.4 1364,1296.7 1365,1295.5 1366,1296.7 1367,1295.8 1368,1296.3 1369,1294.8 1370,1295.9 1371,1294.9 1372,1296.5 1373,1293.0 1374,1296.1 1375,1297.5 1376,1296.6 1377,1295.7 1378,1296.6 1379,1294.6 1380,1294.7 1381,1295.4 1382,1295.8 1383,1297.5 1384,1294.8 1385,1297.7 1386,1293.9 1387,1295.1 1388,1296.3 1389,1298.1 1390,1295.5 1391,1293.3 1392,1297.2 1393,1296.6 1394,1295.1 1395,1295.2 1396,1295.7 1397,1296.9 1398,1297.8 1399,1294.7 1400,1300.3 1401,1297.0 1402,1296.5 1403,1298.1 1404,1297.3 1405,1300.6 1406,1298.9 1407,1296.8 1408,1296.8 1409,1296.7 1410,1297.0 1411,1298.5 1412,1296.6 1413,1299.9 1414,1297.5 1415,1297.5 1416,1299.1 1417,1294.9 1418,1296.5 1419,1298.8 1420,1298.0 1421,1298.0 1422,1298.6 1423,1297.2 1424,1297.9 1425,1296.2 1426,1295.5 1427,1300.1 1428,1297.0 1429,1297.3 1430,1300.4 1431,1300.0 1432,1297.7 1433,1297.8 1434,1298.5 1435,1297.3 1436,1299.5 1437,1298.9 1438,1299.0 1439,1299.9 1440,1299.9 1441,1301.5 1442,1301.1 1443,1296.6 1444,1300.3 1445,1297.5 1446,1297.1 1447,1300.2 1448,1298.2 1449,1298.8 1450,1300.8 1451,1298.4 1452,1298.1 1453,1299.9 1454,1301.2 1455,1300.3 1456,1297.4 1457,1298.7 1458,1299.4 1459,1302.4 1460,1301.0 1461,1301.0 1462,1301.5 1463,1299.4 1464,1300.6 1465,1300.6 1466,1298.6 1467,1300.0 1468,1300.9 1469,1298.6 1470,1301.3 1471,1301.3 1472,1301.7 1473,1299.2 1474,1300.5 1475,1302.4 1476,1301.5 1477,1299.4 1478,1300.8 1479,1302.5 1480,1300.5 1481,1301.2 1482,1304.1 1483,1300.6 1484,1300.6 1485,1299.4 1486,1299.9 1487,1302.9 1488,1300.7 1489,1299.3 1490,1299.7 1491,1301.0 1492,1302.1 1493,1300.1 1494,1302.1 1495,1300.5 1496,1301.7 1497,1302.0 1498,1302.1 1499,1300.7 1500,1301.1 1501,1302.1 1502,1299.7 1503,1301.7 1504,1302.2 1505,1303.0 1506,1301.5 1507,1301.4 1508,1301.8 1509,1300.7 1510,1301.4 1511,1302.3 1512,1302.2 1513,1300.4 1514,1301.4 1515,1299.0 1516,1303.0 1517,1301.3 1518,1302.3 1519,1300.6 1520,1302.0 1521,1302.7 1522,1303.5 1523,1300.3 1524,1303.4 1525,1302.0 1526,1301.3 1527,1303.0 1528,1302.0 1529,1302.0 1530,1301.5 1531,1302.8 1532,1302.6 1533,1302.3 1534,1301.3 1535,1301.9 1536,1303.2 1537,1304.4 1538,1302.7 1539,1304.7 1540,1302.8 1541,1301.4 1542,1303.7 1543,1301.6 1544,1303.5 1545,1304.4 1546,1302.6 1547,1302.9 1548,1306.4 1549,1303.5 1550,1303.5 1551,1304.3 1552,1303.1 1553,1303.2 1554,1303.8 1555,1300.2 1556,1305.3 1557,1302.0 1558,1302.0 1559,1304.2 1560,1303.6 1561,1301.9 1562,1303.9 1563,1302.1 1564,1302.7 1565,1301.7 1566,1302.6 1567,1304.3 1568,1304.0 1569,1304.3 1570,1305.1 1571,1303.9 1572,1303.1 1573,1303.6 1574,1306.2 1575,1304.1 1576,1304.5 1577,1304.0 1578,1304.5 1579,1304.8 1580,1304.2 1581,1304.1 1582,1303.3 1583,1303.2 1584,1304.9 1585,1305.4 1586,1305.6 1587,1304.5 1588,1303.4 1589,1305.4 1590,1305.4 1591,1302.6 1592,1305.7 1593,1305.4 1594,1306.9 1595,1303.3 1596,1303.1 1597,1305.8 1598,1302.5 1599,1303.9 1600,1303.5 1601,1303.6 1602,1302.5 1603,1304.7 1604,1306.3 1605,1305.7 1606,1305.7 1607,1304.7 1608,1307.1 1609,1305.9 1610,1306.6 1611,1303.3 1612,1305.8 1613,1303.9 1614,1305.8 1615,1305.7 1616,1304.0 1617,1305.7 1618,1307.0 1619,1306.2 1620,1306.4 1621,1304.5 1622,1304.8 1623,1304.3 1624,1305.9 1625,1307.3 1626,1306.4 1627,1305.8 1628,1304.4 1629,1306.5 1630,1305.6 1631,1303.5 1632,1303.8 1633,1305.6 1634,1304.9 1635,1308.2 1636,1306.2 1637,1304.9 1638,1305.6 1639,1308.3 1640,1305.1 1641,1307.3 1642,1306.9 1643,1308.3 1644,1307.1 1645,1305.9 1646,1307.2 1647,1306.6 1648,1307.8 1649,1306.5 1650,1309.1 1651,1306.5 1652,1307.2 1653,1305.9 1654,1306.9 1655,1306.8 1656,1307.0 1657,1308.0 1658,1306.2 1659,1305.9 1660,1308.4 1661,1306.6 1662,1306.2 1663,1308.5 1664,1308.1 1665,1304.0 1666,1306.7 1667,1308.2 1668,1308.3 1669,1306.6 1670,1309.3 1671,1306.3 1672,1307.1 1673,1307.6 1674,1307.4 1675,1308.5 1676,1308.8 1677,1307.5 1678,1309.3 1679,1306.8 1680,1307.4 1681,1309.8 1682,1307.8 1683,1309.1 1684,1307.2 1685,1307.5 1686,1307.7 1687,1308.1 1688,1307.5 1689,1308.0 1690,1308.8 1691,1309.5 1692,1308.2 1693,1308.9 1694,1309.3 1695,1306.8 1696,1306.3 1697,1310.2 1698,1309.9 1699,1308.4 1700,1308.8 1701,1307.2 1702,1306.7 1703,1308.8 1704,1306.6 1705,1309.6 1706,1307.7 1707,1308.9 1708,1311.0 1709,1311.0 1710,1308.3 1711,1310.0 1712,1307.5 1713,1308.1 1714,1309.3 1715,1310.6 1716,1308.2 1717,1309.6 1718,1309.1 1719,1307.4 1720,1308.9 1721,1310.9 1722,1309.0 1723,1309.7 1724,1310.2 1725,1308.3 1726,1310.7 1727,1311.1 1728,1311.3 1729,1311.0 1730,1308.8 1731,1308.7 1732,1308.5 1733,1308.4 1734,1308.5 1735,1310.8 1736,1311.4 1737,1308.8 1738,1310.7 1739,1308.2 1740,1309.3 1741,1308.6 1742,1307.8 1743,1309.9 1744,1310.0 1745,1309.4 1746,1309.3 1747,1308.8 1748,1309.9 1749,1309.3 1750,1310.4 1751,1308.7 1752,1310.4 1753,1310.8 1754,1311.7 1755,1311.5 1756,1310.5 1757,1309.5 1758,1308.2 1759,1310.4 1760,1312.2 1761,1312.5 1762,1307.5 1763,1309.7 1764,1310.2 1765,1309.4 1766,1310.9 1767,1310.8 1768,1310.1 1769,1310.7 1770,1308.9 1771,1309.7 1772,1309.8 1773,1312.0 1774,1309.0 1775,1310.8 1776,1312.0 1777,1311.0 1778,1312.1 1779,1310.4 1780,1311.7 1781,1312.3 1782,1314.0 1783,1312.2 1784,1313.1 1785,1311.4 1786,1311.6 1787,1313.4 1788,1312.2 1789,1313.3 1790,1312.5 1791,1314.2 1792,1314.5 1793,1310.7 1794,1314.0 1795,1312.3 1796,1312.4 1797,1311.8 1798,1312.8 1799,1310.7 1800,1311.2 1801,1311.2 1802,1312.5 1803,1313.2 1804,1313.1 1805,1312.7 1806,1311.6 1807,1310.2 1808,1312.8 1809,1312.6 1810,1312.9 1811,1314.2 1812,1312.3 1813,1312.3 1814,1309.9 1815,1313.3 1816,1312.6 1817,1311.9 1818,1313.2 1819,1311.6 1820,1312.2 1821,1315.2 1822,1313.8 1823,1314.1 1824,1313.9 1825,1313.8 1826,1313.3 1827,1315.9 1828,1313.1 1829,1314.1 1830,1313.0 1831,1312.9 1832,1310.5 1833,1311.1 1834,1315.3 1835,1315.2 1836,1313.0 1837,1313.5 1838,1314.3 1839,1312.5 1840,1315.7 1841,1312.5 1842,1312.9 1843,1310.8 1844,1315.6 1845,1313.9 1846,1315.8 1847,1312.7 1848,1314.3 1849,1314.1 1850,1314.3 1851,1316.5 1852,1316.7 1853,1315.7 1854,1313.7 1855,1315.2 1856,1315.8 1857,1314.9 1858,1314.9 1859,1314.9 1860,1313.3 1861,1314.7 1862,1316.3 1863,1313.3 1864,1314.6 1865,1315.5 1866,1313.0 1867,1314.4 1868,1312.7 1869,1314.0 1870,1313.1 1871,1313.7 1872,1314.2 1873,1314.5 1874,1314.6 1875,1312.1 1876,1316.7 1877,1314.6 1878,1313.7 1879,1314.3 1880,1315.4 1881,1313.9 1882,1314.6 1883,1314.6 1884,1315.8 1885,1314.3 1886,1315.7 1887,1315.6 1888,1315.1 1889,1316.7 1890,1315.4 1891,1314.0 1892,1315.8 1893,1315.6 1894,1315.4 1895,1315.8 1896,1318.2 1897,1315.8 1898,1316.1 1899,1315.4 1900,1317.2 1901,1315.6 1902,1314.8 1903,1314.4 1904,1316.4 1905,1316.7 1906,1314.1 1907,1315.1 1908,1316.7 1909,1317.2 1910,1314.5 1911,1315.6 1912,1317.0 1913,1315.5 1914,1315.6 1915,1315.6 1916,1314.7 1917,1316.3 1918,1316.6 1919,1314.7 1920,1316.5 1921,1317.6 1922,1316.6 1923,1317.5 1924,1315.8 1925,1318.1 1926,1315.6 1927,1318.7 1928,1316.1 1929,1315.8 1930,1315.7 1931,1316.2 1932,1316.2 1933,1316.0 1934,1316.4 1935,1317.6 1936,1317.9 1937,1316.5 1938,1318.3 1939,1315.8 1940,1315.8 1941,1315.7 1942,1317.7 1943,1315.3 1944,1315.5 1945,1318.6 1946,1319.1 1947,1318.7 1948,1315.6 1949,1317.3 1950,1318.3 1951,1317.5 1952,1315.6 1953,1317.0 1954,1315.5 1955,1316.1 1956,1319.9 1957,1318.3 1958,1315.9 1959,1315.9 1960,1318.1 1961,1317.0 1962,1318.3 1963,1317.0 1964,1317.5 1965,1318.1 1966,1316.7 1967,1315.7 1968,1316.6 1969,1317.1 1970,1317.7 1971,1317.9 1972,1317.9 1973,1318.6 1974,1317.1 1975,1319.7 1976,1320.4 1977,1318.6 1978,1318.4 1979,1319.6 1980,1319.0 1981,1318.5 1982,1318.1 1983,1317.5 1984,1317.1 1985,1319.2 1986,1319.8 1987,1317.3 1988,1318.4 1989,1318.8 1990,1318.1 1991,1317.8 1992,1318.2 1993,1316.5 1994,1318.6 1995,1318.4 1996,1321.1 1997,1319.8 1998,1318.4 1999,1318.8 2000,1320.8 2001,1320.7 2002,1319.2 2003,1318.8 2004,1317.4 2005,1318.7 2006,1318.9 2007,1318.3 2008,1321.1 2009,1317.1 2010,1319.0 2011,1319.7 2012,1319.7 2013,1321.2 2014,1317.8 2015,1318.5 2016,1319.5 2017,1319.6 2018,1319.0 2019,1318.6 2020,1320.7 2021,1318.4 2022,1318.9 2023,1321.2 2024,1321.5 2025,1320.6 2026,1318.7 2027,1318.8 2028,1318.8 2029,1318.5 2030,1319.4 2031,1321.2 2032,1320.1 2033,1319.1 2034,1319.1 2035,1318.7 2036,1321.3 2037,1317.8 2038,1320.3 2039,1318.5 2040,1318.9 2041,1318.5 2042,1321.2 2043,1320.1 2044,1323.0 2045,1319.1 2046,1319.1 2047,1321.0 2048,1320.9 2049,1320.1 2050,1318.2 2051,1322.0 2052,1321.1 2053,1320.9 2054,1319.9 2055,1321.2 2056,1319.9 2057,1320.6 2058,1320.4 2059,1322.0 2060,1320.2 2061,1320.3 2062,1321.9 2063,1321.0 2064,1320.8 2065,1320.5 2066,1321.9 2067,1320.2 2068,1321.4 2069,1323.1 2070,1321.4 2071,1320.1 2072,1319.7 2073,1321.2 2074,1319.7 2075,1319.4 2076,1320.3 2077,1320.0 2078,1322.1 2079,1319.6 2080,1322.9 2081,1320.4 2082,1321.4 2083,1322.0 2084,1321.6 2085,1322.1 2086,1320.3 2087,1319.0 2088,1321.2 2089,1319.7 2090,1320.9 2091,1322.5 2092,1321.3 2093,1320.9 2094,1320.4 2095,1321.3 2096,1321.5 2097,1320.0 2098,1322.0 2099,1320.6 2100,1322.0 2101,1321.3 2102,1322.9 2103,1322.8 2104,1321.9 2105,1321.8 2106,1322.4 2107,1323.5 2108,1323.1 2109,1322.2 2110,1322.4 2111,1323.8 2112,1320.4 2113,1322.7 2114,1321.2 2115,1323.7 2116,1321.7 2117,1322.2 2118,1321.1 2119,1322.4 2120,1323.2 2121,1324.2 2122,1321.1 2123,1322.0 2124,1325.2 2125,1323.5 2126,1322.5 2127,1323.1 2128,1319.9 2129,1324.4 2130,1322.8 2131,1321.2 2132,1324.0 2133,1322.1 2134,1321.7 2135,1323.4 2136,1323.3 2137,1322.4 2138,1322.8 2139,1321.5 2140,1321.4 2141,1323.9 2142,1324.4 2143,1323.5 2144,1323.4 2145,1322.6 2146,1322.9 2147,1322.1 2148,1325.0 2149,1322.6 2150,1323.6 2151,1323.2 2152,1321.8 2153,1325.3 2154,1322.9 2155,1322.5 2156,1323.5 2157,1322.4 2158,1323.4 2159,1322.4 2160,1324.0 2161,1323.5 2162,1322.0 2163,1324.6 2164,1323.7 2165,1322.4 2166,1324.0 2167,1324.1 2168,1325.6 2169,1322.8 2170,1324.6 2171,1323.6 2172,1324.4 2173,1323.5 2174,1323.7 2175,1324.3 2176,1322.6 2177,1321.6 2178,1323.9 2179,1323.4 2180,1324.0 2181,1324.6 2182,1323.8 2183,1325.3 2184,1324.0 2185,1324.2 2186,1325.0 2187,1324.7 2188,1324.1 2189,1324.3 2190,1323.4 2191,1323.6 2192,1324.4 2193,1325.1 2194,1323.8 2195,1325.2 2196,1326.4 2197,1326.6 2198,1324.4 2199,1325.5 2200,1325.1 2201,1325.3 2202,1325.4 2203,1325.1 2204,1325.4 2205,1324.8 2206,1324.3 2207,1324.9 2208,1325.2 2209,1326.0 2210,1325.1 2211,1325.5 2212,1326.2 2213,1323.8 2214,1324.5 2215,1325.4 2216,1324.9 2217,1323.8 2218,1325.9 2219,1324.8 2220,1323.9 2221,1326.9 2222,1323.6 2223,1325.0 2224,1324.3 2225,1325.1 2226,1325.6 2227,1324.2 2228,1325.0 2229,1325.0 2230,1324.1 2231,1326.4 2232,1325.3 2233,1324.9 2234,1324.5 2235,1324.9 2236,1325.4 2237,1324.8 2238,1326.6 2239,1322.7 2240,1323.1 2241,1325.1 2242,1323.4 2243,1325.3 2244,1324.7 2245,1326.0 2246,1325.9 2247,1326.8 2248,1326.5 2249,1326.8 2250,1326.1 2251,1326.7 2252,1326.1 2253,1325.0 2254,1324.3 2255,1324.4 2256,1326.2 2257,1323.2 2258,1325.9 2259,1324.9 2260,1326.5 2261,1326.0 2262,1325.0 2263,1325.8 2264,1323.5 2265,1326.1 2266,1326.3 2267,1324.0 2268,1326.8 2269,1325.8 2270,1326.1 2271,1324.5 2272,1326.6 2273,1326.6 2274,1326.0 2275,1325.0 2276,1326.8 2277,1327.4 2278,1326.5 2279,1327.1 2280,1325.5 2281,1326.3 2282,1326.6 2283,1326.3 2284,1328.7 2285,1326.7 2286,1325.7 2287,1327.1 2288,1325.2 2289,1326.7 2290,1327.1 2291,1325.8 2292,1326.0 2293,1325.4 2294,1326.5 2295,1325.7 2296,1328.2 2297,1327.1 2298,1326.3 2299,1325.1 2300,1328.6 2301,1327.9 2302,1327.0 2303,1326.8 2304,1326.8 2305,1326.1 2306,1328.6 2307,1326.9 2308,1325.2 2309,1326.0 2310,1324.1 2311,1327.4 2312,1327.5 2313,1328.6 2314,1328.9 2315,1326.0 2316,1327.3 2317,1327.8 2318,1327.6 2319,1326.3 2320,1327.7 2321,1327.4 2322,1328.3 2323,1326.9 2324,1326.7 2325,1326.4 2326,1326.6 2327,1326.2 2328,1326.6 2329,1327.5 2330,1327.5 2331,1328.4 2332,1328.1 2333,1327.7" fill="none" stroke="#00ff00" stroke-width="3.9" stroke-linejoin="round"/>
<polyline points="158,894.8 159,897.6 160,910.3 161,902.5 162,885.4 163,896.5 164,891.5 165,896.4 166,883.3 167,895.8 168,895.1 169,904.0 170,894.4 171,895.1 172,880.2 173,906.0 174,875.9 175,896.4 176,885.7 177,881.1 178,881.9 179,881.1 180,887.7 181,883.5 182,893.9 183,870.0 184,882.0 185,875.0 186,885.7 187,864.8 188,876.2 189,879.1 190,866.5 191,882.5 192,876.0 193,880.6 194,879.3 195,865.0 196,865.2 197,868.2 198,873.7 199,873.4 200,861.8 201,861.5 202,859.2 203,859.7 204,861.2 205,861.0 206,874.9 207,856.8 208,857.5 209,861.8 210,851.6 211,854.9 212,856.7 213,861.1 214,846.5 215,863.7 216,851.5 217,854.3 218,858.1 219,856.1 220,858.1 221,851.6 222,849.7 223,851.3 224,842.1 225,856.0 226,842.4 227,838.8 228,860.1 229,845.3 230,838.2 231,857.6 232,843.2 233,852.1 234,839.7 235,843.4 236,834.1 237,832.7 238,838.8 239,844.7 240,850.5 241,861.1 242,839.1 243,852.5 244,842.4 245,845.5 246,837.4 247,837.7 248,842.5 249,840.2 250,848.2 251,844.1 252,856.8 253,850.3 254,850.7 255,857.3 256,853.7 257,850.6 258,850.7 259,850.9 260,858.7 261,857.3 262,855.1 263,858.2 264,850.2 265,857.2 266,845.7 267,863.3 268,856.0 269,857.1 270,860.2 271,856.9 272,855.9 273,865.4 274,859.3 275,853.6 276,862.5 277,849.9 278,871.1 279,860.5 280,862.4 281,876.5 282,876.5 283,864.8 284,868.5 285,871.9 286,876.2 287,865.9 288,868.2 289,875.5 290,870.5 291,874.2 292,874.1 293,864.5 294,867.0 295,858.0 296,872.3 297,882.7 298,869.0 299,883.9 300,883.4 301,878.0 302,879.2 303,880.7 304,876.0 305,880.3 306,882.6 307,887.4 308,889.3 309,881.2 310,891.2 311,882.6 312,887.0 313,891.0 314,889.5 315,889.7 316,892.8 317,888.9 318,889.1 319,892.5 320,900.1 321,894.8 322,907.1 323,898.2 324,883.3 325,896.0 326,908.8 327,900.0 328,898.2 329,896.4 330,909.6 331,908.4 332,907.1 333,906.3 334,912.7 335,909.7 336,898.6 337,910.4 338,907.6 339,906.6 340,912.1 341,908.5 342,894.8 343,918.1 344,915.6 345,909.4 346,908.2 347,911.7 348,903.3 349,912.0 350,908.7 351,907.6 352,904.0 353,904.7 354,913.9 355,914.4 356,908.9 357,904.9 358,899.3 359,907.0 360,910.8 361,891.9 362,905.8 363,886.2 364,894.8 365,897.3 366,886.2 367,883.8 368,891.3 369,893.2 370,883.8 371,891.5 372,877.6 373,888.6 374,876.9 375,874.3 376,872.8 377,867.3 378,871.0 379,868.0 380,853.5 381,843.4 382,831.0 383,825.3 384,820.5 385,809.9 386,799.1 387,786.9 388,775.8 389,751.0 390,736.3 391,729.7 392,708.9 393,681.0 394,668.8 395,635.5 396,613.8 397,581.1 398,570.3 399,541.3 400,522.9 401,498.3 402,474.4 403,456.6 404,447.1 405,429.2 406,422.8 407,422.2 408,429.4 409,438.4 410,456.1 411,461.7 412,487.0 413,497.2 414,524.3 415,542.6 416,571.1 417,584.9 418,598.0 419,620.5 420,635.2 421,646.4 422,659.8 423,668.6 424,696.5 425,694.4 426,707.2 427,703.9 428,711.0 429,721.5 430,726.5 431,735.4 432,729.5 433,739.6 434,746.2 435,735.3 436,745.3 437,736.7 438,743.8 439,744.5 440,752.1 441,741.3 442,747.1 443,753.1 444,743.8 445,751.0 446,748.1 447,750.1 448,757.9 449,758.9 450,768.3 451,763.8 452,763.9 453,757.3 454,757.0 455,759.4 456,747.8 457,766.9 458,755.6 459,753.6 460,756.2 461,762.2 462,763.3 463,754.6 464,757.3 465,753.2 466,746.4 467,749.0 468,744.4 469,732.0 470,738.4 471,718.1 472,717.4 473,700.1 474,688.2 475,673.7 476,663.6 477,636.1 478,622.2 479,612.1 480,585.5 481,577.0 482,575.2 483,571.9 484,587.9 485,600.3 486,628.5 487,649.0 488,667.7 489,700.6 490,713.5 491,730.4 492,742.8 493,758.1 494,771.2 495,781.9 496,794.2 497,789.9 498,800.1 499,812.1 500,811.6 501,816.3 502,824.9 503,821.9 504,824.9 505,824.7 506,834.8 507,833.1 508,826.3 509,833.2 510,826.3 511,837.0 512,835.4 513,831.5 514,829.8 515,822.3 516,831.8 517,825.1 518,820.4 519,820.0 520,807.5 521,800.2 522,790.8 523,777.8 524,784.0 525,762.2 526,753.1 527,753.7 528,738.2 529,752.2 530,757.9 531,761.0 532,776.2 533,774.7 534,793.3 535,806.7 536,802.1 537,814.0 538,827.4 539,835.1 540,838.7 541,848.8 542,853.3 543,850.9 544,860.3 545,858.7 546,858.3 547,859.8 548,876.9 549,874.1 550,885.1 551,872.0 552,878.4 553,882.9 554,882.1 555,886.1 556,885.7 557,883.5 558,877.1 559,883.9 560,896.1 561,892.7 562,895.9 563,888.1 564,890.3 565,887.7 566,893.4 567,892.2 568,893.9 569,899.5 570,888.4 571,894.8 572,885.5 573,895.6 574,888.6 575,889.5 576,889.5 577,894.9 578,886.7 579,883.5 580,879.1 581,883.6 582,877.0 583,876.4 584,876.1 585,876.5 586,868.1 587,870.8 588,872.2 589,855.3 590,863.4 591,862.8 592,847.3 593,848.0 594,835.3 595,837.6 596,830.0 597,827.6 598,817.6 599,813.0 600,809.5 601,803.7 602,799.5 603,797.0 604,789.5 605,790.2 606,790.2 607,777.1 608,786.3 609,782.4 610,782.1 611,784.1 612,790.6 613,796.7 614,807.8 615,808.7 616,825.8 617,826.3 618,840.3 619,849.7 620,848.0 621,864.3 622,875.5 623,871.4 624,881.4 625,884.1 626,889.9 627,893.5 628,896.5 629,905.2 630,909.3 631,909.0 632,917.9 633,918.9 634,919.9 635,916.6 636,928.9 637,928.8 638,917.4 639,923.7 640,928.4 641,936.2 642,939.7 643,936.0 644,940.3 645,944.2 646,938.6 647,947.7 648,946.1 649,949.6 650,950.2 651,947.1 652,948.9 653,953.9 654,955.2 655,954.6 656,960.6 657,956.1 658,953.6 659,957.7 660,959.1 661,960.0 662,965.7 663,963.9 664,966.6 665,965.6 666,963.2 667,968.3 668,964.0 669,966.5 670,962.4 671,967.1 672,966.0 673,969.1 674,975.0 675,977.6 676,973.1 677,969.7 678,973.4 679,971.7 680,969.1 681,971.6 682,971.5 683,970.7 684,978.6 685,972.0 686,972.7 687,977.6 688,973.0 689,971.8 690,973.3 691,978.6 692,978.7 693,978.8 694,976.4 695,975.1 696,982.0 697,973.7 698,978.4 699,974.6 700,978.1 701,979.1 702,984.2 703,970.7 704,984.7 705,976.4 706,980.6 707,982.2 708,976.4 709,978.6 710,980.5 711,978.0 712,975.6 713,978.7 714,978.2 715,972.2 716,982.2 717,978.1 718,968.5 719,974.2 720,983.2 721,983.1 722,979.3 723,973.7 724,980.6 725,987.3 726,987.2 727,987.1 728,988.2 729,996.3 730,995.1 731,999.3 732,1001.9 733,1007.7 734,1003.9 735,1005.0 736,998.5 737,1009.1 738,1008.8 739,1006.2 740,998.7 741,1005.0 742,1007.6 743,1015.0 744,1010.0 745,1011.0 746,1011.4 747,1013.4 748,1005.2 749,1006.4 750,1005.5 751,1008.9 752,1008.9 753,1010.8 754,1007.2 755,1011.3 756,1008.4 757,1018.9 758,1010.3 759,1021.0 760,1018.7 761,1009.6 762,1017.6 763,1017.1 764,1010.5 765,1018.4 766,1016.6 767,1018.7 768,1015.1 769,1018.3 770,1020.2 771,1018.4 772,1017.1 773,1018.5 774,1015.6 775,1019.8 776,1010.0 777,1023.1 778,1017.9 779,1018.9 780,1019.7 781,1012.4 782,1023.7 783,1012.1 784,1017.0 785,1016.3 786,1019.5 787,1015.1 788,1010.5 789,1016.5 790,1007.7 791,1015.8 792,1015.6 793,1022.9 794,1017.7 795,1017.9 796,1017.8 797,1018.3 798,1020.0 799,1024.5 800,1018.9 801,1023.1 802,1019.4 803,1024.1 804,1025.6 805,1021.5 806,1024.0 807,1026.6 808,1029.2 809,1030.1 810,1027.0 811,1024.5 812,1022.9 813,1031.0 814,1033.3 815,1030.3 816,1034.5 817,1028.4 818,1028.9 819,1035.5 820,1027.5 821,1033.0 822,1032.6 823,1032.1 824,1037.5 825,1029.4 826,1031.2 827,1026.2 828,1029.9 829,1032.0 830,1032.8 831,1033.8 832,1035.9 833,1033.3 834,1029.7 835,1037.1 836,1038.5 837,1034.1 838,1036.0 839,1044.6 840,1042.9 841,1043.7 842,1043.0 843,1041.9 844,1040.4 845,1044.3 846,1042.4 847,1042.1 848,1043.9 849,1044.1 850,1047.6 851,1042.3 852,1053.4 853,1043.0 854,1045.2 855,1049.9 856,1044.8 857,1046.3 858,1048.3 859,1041.0 860,1047.4 861,1046.4 862,1049.0 863,1051.7 864,1052.5 865,1055.5 866,1055.7 867,1054.8 868,1051.9 869,1055.6 870,1049.7 871,1052.8 872,1057.9 873,1056.2 874,1049.9 875,1052.7 876,1057.6 877,1057.1 878,1058.8 879,1050.5 880,1052.4 881,1055.8 882,1053.9 883,1057.1 884,1057.5 885,1058.8 886,1057.7 887,1060.1 888,1061.0 889,1059.5 890,1055.6 891,1063.5 892,1060.5 893,1061.5 894,1061.0 895,1056.0 896,1062.8 897,1059.4 898,1058.0 899,1065.8 900,1061.4 901,1063.4 902,1065.5 903,1067.9 904,1058.1 905,1061.6 906,1066.1 907,1062.4 908,1057.4 909,1065.5 910,1066.0 911,1068.0 912,1066.7 913,1065.0 914,1067.2 915,1066.8 916,1065.8 917,1068.3 918,1068.9 919,1065.2 920,1071.5 921,1071.2 922,1071.3 923,1062.1 924,1070.0 925,1069.6 926,1067.3 927,1072.1 928,1066.4 929,1074.5 930,1072.3 931,1070.0 932,1075.8 933,1073.2 934,1073.1 935,1068.6 936,1074.0 937,1076.7 938,1076.0 939,1069.3 940,1077.2 941,1077.9 942,1075.9 943,1072.6 944,1069.6 945,1071.4 946,1072.5 947,1075.1 948,1076.0 949,1072.5 950,1070.2 951,1073.8 952,1071.4 953,1079.1 954,1072.1 955,1077.1 956,1078.3 957,1073.4 958,1079.2 959,1076.2 960,1074.7 961,1074.5 962,1077.8 963,1080.8 964,1072.9 965,1080.3 966,1078.6 967,1077.4 968,1079.7 969,1080.4 970,1080.8 971,1083.7 972,1079.5 973,1088.0 974,1085.5 975,1082.0 976,1078.8 977,1084.6 978,1084.1 979,1087.8 980,1088.2 981,1092.0 982,1086.9 983,1089.9 984,1087.0 985,1087.5 986,1093.1 987,1088.9 988,1089.4 989,1089.0 990,1091.1 991,1092.1 992,1090.5 993,1088.0 994,1092.2 995,1089.3 996,1090.9 997,1092.7 998,1093.0 999,1086.3 1000,1097.4 1001,1095.1 1002,1098.4 1003,1100.1 1004,1091.1 1005,1092.3 1006,1094.7 1007,1096.7 1008,1093.0 1009,1093.7 1010,1097.6 1011,1092.6 1012,1095.7 1013,1098.2 1014,1094.8 1015,1097.7 1016,1095.5 1017,1091.8 1018,1094.7 1019,1095.8 1020,1095.6 1021,1096.7 1022,1097.8 1023,1097.7 1024,1097.5 1025,1096.1 1026,1096.8 1027,1096.6 1028,1096.2 1029,1101.5 1030,1093.0 1031,1098.8 1032,1094.0 1033,1096.9 1034,1100.7 1035,1098.1 1036,1102.6 1037,1096.6 1038,1098.5 1039,1097.8 1040,1099.6 1041,1099.0 1042,1099.0 1043,1100.4 1044,1103.2 1045,1100.9 1046,1100.8 1047,1100.1 1048,1099.2 1049,1097.5 1050,1098.7 1051,1101.6 1052,1096.8 1053,1103.6 1054,1101.0 1055,1099.9 1056,1101.1 1057,1104.4 1058,1103.8 1059,1103.8 1060,1107.8 1061,1109.5 1062,1100.5 1063,1106.3 1064,1102.3 1065,1101.0 1066,1103.4 1067,1107.5 1068,1104.4 1069,1104.2 1070,1109.2 1071,1107.2 1072,1105.9 1073,1110.9 1074,1107.8 1075,1105.0 1076,1104.3 1077,1106.2 1078,1107.9 1079,1110.0 1080,1110.0 1081,1108.3 1082,1105.3 1083,1110.8 1084,1108.9 1085,1106.1 1086,1105.9 1087,1109.7 1088,1110.2 1089,1111.5 1090,1106.6 1091,1114.6 1092,1105.5 1093,1110.1 1094,1113.7 1095,1113.1 1096,1108.3 1097,1112.3 1098,1114.0 1099,1112.9 1100,1108.8 1101,1115.5 1102,1107.6 1103,1111.8 1104,1109.2 1105,1110.9 1106,1111.3 1107,1113.5 1108,1109.3 1109,1113.0 1110,1115.8 1111,1112.9 1112,1114.2 1113,1114.0 1114,1111.3 1115,1112.3 1116,1113.4 1117,1114.5 1118,1118.4 1119,1117.5 1120,1112.5 1121,1112.7 1122,1111.4 1123,1108.3 1124,1117.2 1125,1115.4 1126,1109.4 1127,1114.3 1128,1120.0 1129,1115.6 1130,1115.7 1131,1115.0 1132,1112.8 1133,1111.9 1134,1112.7 1135,1115.2 1136,1114.3 1137,1116.6 1138,1119.2 1139,1116.5 1140,1117.1 1141,1114.4 1142,1112.2 1143,1120.5 1144,1117.1 1145,1118.3 1146,1114.6 1147,1111.5 1148,1118.7 1149,1110.5 1150,1115.3 1151,1114.4 1152,1116.3 1153,1117.7 1154,1117.8 1155,1110.9 1156,1118.2 1157,1111.4 1158,1117.5 1159,1114.9 1160,1113.2 1161,1114.7 1162,1112.8 1163,1115.9 1164,1118.1 1165,1117.7 1166,1115.9 1167,1118.3 1168,1116.7 1169,1120.4 1170,1116.2 1171,1113.2 1172,1113.2 1173,1111.1 1174,1110.9 1175,1109.6 1176,1109.5 1177,1107.4 1178,1103.4 1179,1102.6 1180,1099.2 1181,1099.8 1182,1095.6 1183,1099.9 1184,1101.0 1185,1108.6 1186,1100.3 1187,1104.4 1188,1104.2 1189,1102.1 1190,1107.2 1191,1107.4 1192,1104.8 1193,1103.6 1194,1109.6 1195,1107.1 1196,1112.6 1197,1111.0 1198,1113.5 1199,1112.1 1200,1116.9 1201,1115.4 1202,1117.7 1203,1114.9 1204,1112.6 1205,1112.1 1206,1114.5 1207,1116.6 1208,1114.7 1209,1122.0 1210,1116.4 1211,1117.8 1212,1117.2 1213,1114.3 1214,1119.7 1215,1118.9 1216,1119.5 1217,1115.6 1218,1117.9 1219,1117.8 1220,1120.7 1221,1115.0 1222,1119.8 1223,1121.2 1224,1117.5 1225,1116.7 1226,1121.6 1227,1119.3 1228,1121.4 1229,1120.6 1230,1121.4 1231,1118.7 1232,1114.4 1233,1120.6 1234,1117.8 1235,1120.8 1236,1118.3 1237,1123.2 1238,1119.1 1239,1121.6 1240,1122.3 1241,1119.7 1242,1120.7 1243,1120.0 1244,1118.1 1245,1123.5 1246,1118.2 1247,1116.9 1248,1119.3 1249,1120.8 1250,1120.7 1251,1119.9 1252,1119.8 1253,1116.1 1254,1122.3 1255,1124.9 1256,1119.5 1257,1117.2 1258,1122.9 1259,1121.0 1260,1116.0 1261,1119.9 1262,1118.4 1263,1119.1 1264,1126.2 1265,1124.1 1266,1121.7 1267,1122.2 1268,1125.7 1269,1119.9 1270,1124.1 1271,1121.1 1272,1124.5 1273,1123.2 1274,1121.2 1275,1125.3 1276,1124.2 1277,1127.2 1278,1122.3 1279,1123.6 1280,1121.9 1281,1126.2 1282,1121.9 1283,1123.6 1284,1126.6 1285,1125.0 1286,1124.6 1287,1124.6 1288,1124.9 1289,1125.6 1290,1123.6 1291,1120.0 1292,1127.4 1293,1122.2 1294,1128.6 1295,1125.3 1296,1129.9 1297,1127.4 1298,1125.9 1299,1127.0 1300,1122.1 1301,1125.5 1302,1124.5 1303,1125.3 1304,1120.9 1305,1120.7 1306,1127.1 1307,1125.7 1308,1124.7 1309,1125.5 1310,1124.4 1311,1124.8 1312,1127.4 1313,1125.5 1314,1127.6 1315,1124.6 1316,1122.3 1317,1124.9 1318,1126.0 1319,1124.0 1320,1125.7 1321,1125.5 1322,1128.6 1323,1128.5 1324,1129.1 1325,1125.2 1326,1127.6 1327,1129.7 1328,1127.5 1329,1127.0 1330,1125.6 1331,1129.1 1332,1127.7 1333,1129.6 1334,1127.2 1335,1132.0 1336,1127.6 1337,1125.1 1338,1128.3 1339,1128.9 1340,1130.7 1341,1127.0 1342,1127.0 1343,1127.6 1344,1127.4 1345,1123.9 1346,1129.9 1347,1131.1 1348,1127.0 1349,1126.6 1350,1128.4 1351,1127.1 1352,1130.5 1353,1127.6 1354,1130.3 1355,1126.5 1356,1126.2 1357,1126.0 1358,1126.4 1359,1130.3 1360,1131.2 1361,1129.9 1362,1130.1 1363,1125.1 1364,1132.1 1365,1127.3 1366,1132.6 1367,1135.0 1368,1130.2 1369,1131.4 1370,1131.5 1371,1127.6 1372,1128.0 1373,1129.0 1374,1130.8 1375,1132.3 1376,1130.9 1377,1133.0 1378,1129.8 1379,1128.0 1380,1131.0 1381,1130.9 1382,1128.2 1383,1133.3 1384,1129.3 1385,1129.9 1386,1131.9 1387,1129.3 1388,1132.8 1389,1132.4 1390,1132.6 1391,1131.8 1392,1130.9 1393,1130.4 1394,1132.6 1395,1134.9 1396,1133.8 1397,1133.0 1398,1134.4 1399,1135.1 1400,1130.0 1401,1132.5 1402,1135.1 1403,1131.4 1404,1131.9 1405,1134.1 1406,1132.5 1407,1135.5 1408,1132.5 1409,1134.4 1410,1138.0 1411,1135.6 1412,1130.7 1413,1131.4 1414,1131.6 1415,1133.5 1416,1130.9 1417,1134.9 1418,1137.3 1419,1137.0 1420,1132.5 1421,1133.5 1422,1133.5 1423,1132.6 1424,1137.6 1425,1133.0 1426,1132.2 1427,1135.2 1428,1135.2 1429,1137.6 1430,1137.7 1431,1134.4 1432,1130.7 1433,1136.2 1434,1136.6 1435,1138.6 1436,1132.0 1437,1132.9 1438,1138.3 1439,1138.5 1440,1137.9 1441,1135.4 1442,1138.0 1443,1134.5 1444,1133.2 1445,1135.6 1446,1136.0 1447,1137.4 1448,1138.1 1449,1132.6 1450,1136.6 1451,1137.1 1452,1133.7 1453,1135.7 1454,1136.4 1455,1137.3 1456,1134.8 1457,1135.4 1458,1134.5 1459,1137.3 1460,1136.1 1461,1135.7 1462,1138.1 1463,1136.6 1464,1134.7 1465,1139.3 1466,1139.0 1467,1138.1 1468,1135.3 1469,1139.5 1470,1136.3 1471,1133.9 1472,1137.3 1473,1141.1 1474,1136.9 1475,1138.9 1476,1140.5 1477,1138.3 1478,1137.4 1479,1138.1 1480,1139.3 1481,1137.3 1482,1138.9 1483,1139.4 1484,1137.7 1485,1139.9 1486,1139.6 1487,1138.0 1488,1138.4 1489,1139.0 1490,1138.6 1491,1138.5 1492,1137.1 1493,1139.3 1494,1140.5 1495,1140.4 1496,1137.7 1497,1140.4 1498,1140.5 1499,1137.8 1500,1140.5 1501,1139.3 1502,1139.0 1503,1140.2 1504,1139.4 1505,1135.8 1506,1140.4 1507,1138.0 1508,1139.9 1509,1141.4 1510,1139.8 1511,1139.5 1512,1140.6 1513,1141.3 1514,1139.0 1515,1139.4 1516,1141.5 1517,1143.6 1518,1140.8 1519,1142.4 1520,1139.6 1521,1141.0 1522,1141.2 1523,1138.8 1524,1141.1 1525,1140.9 1526,1136.9 1527,1141.2 1528,1141.9 1529,1141.9 1530,1142.1 1531,1139.6 1532,1140.3 1533,1141.4 1534,1140.2 1535,1141.0 1536,1144.1 1537,1140.4 1538,1141.4 1539,1145.4 1540,1141.9 1541,1140.5 1542,1142.8 1543,1142.7 1544,1142.7 1545,1139.6 1546,1143.1 1547,1143.4 1548,1146.4 1549,1144.0 1550,1142.1 1551,1143.5 1552,1144.2 1553,1142.9 1554,1143.1 1555,1145.7 1556,1144.2 1557,1144.3 1558,1141.8 1559,1144.3 1560,1140.3 1561,1145.9 1562,1143.0 1563,1145.0 1564,1146.4 1565,1142.1 1566,1146.1 1567,1144.5 1568,1146.2 1569,1143.7 1570,1143.1 1571,1146.7 1572,1145.2 1573,1144.6 1574,1142.6 1575,1147.0 1576,1144.2 1577,1144.4 1578,1143.7 1579,1145.0 1580,1146.0 1581,1144.9 1582,1145.0 1583,1144.2 1584,1147.8 1585,1148.1 1586,1144.8 1587,1143.9 1588,1145.9 1589,1142.7 1590,1146.0 1591,1146.1 1592,1146.0 1593,1148.5 1594,1149.0 1595,1146.6 1596,1145.3 1597,1147.8 1598,1148.0 1599,1144.1 1600,1144.9 1601,1145.8 1602,1143.4 1603,1144.4 1604,1149.2 1605,1144.3 1606,1148.0 1607,1145.2 1608,1148.3 1609,1147.3 1610,1148.3 1611,1144.5 1612,1147.4 1613,1146.0 1614,1148.3 1615,1148.3 1616,1147.4 1617,1147.0 1618,1147.2 1619,1147.7 1620,1146.5 1621,1146.7 1622,1146.4 1623,1145.7 1624,1149.3 1625,1145.4 1626,1149.9 1627,1148.9 1628,1144.9 1629,1144.8 1630,1147.9 1631,1146.2 1632,1148.2 1633,1149.7 1634,1148.7 1635,1147.8 1636,1147.9 1637,1150.8 1638,1147.7 1639,1151.3 1640,1151.9 1641,1147.9 1642,1149.1 1643,1151.5 1644,1147.5 1645,1149.5 1646,1150.6 1647,1147.1 1648,1149.6 1649,1149.2 1650,1148.2 1651,1151.7 1652,1148.9 1653,1153.0 1654,1150.5 1655,1148.2 1656,1149.8 1657,1148.2 1658,1150.8 1659,1150.6 1660,1147.6 1661,1149.0 1662,1150.5 1663,1149.8 1664,1148.2 1665,1151.7 1666,1152.1 1667,1147.5 1668,1152.4 1669,1146.7 1670,1149.8 1671,1149.0 1672,1149.3 1673,1150.5 1674,1148.3 1675,1150.1 1676,1153.1 1677,1151.1 1678,1152.9 1679,1151.9 1680,1147.9 1681,1153.5 1682,1152.0 1683,1151.8 1684,1150.1 1685,1149.9 1686,1149.1 1687,1150.6 1688,1151.1 1689,1150.7 1690,1150.8 1691,1147.9 1692,1149.9 1693,1149.9 1694,1151.7 1695,1150.5 1696,1150.6 1697,1151.5 1698,1150.6 1699,1151.0 1700,1153.2 1701,1151.2 1702,1150.1 1703,1152.6 1704,1152.9 1705,1152.7 1706,1149.6 1707,1153.3 1708,1151.9 1709,1152.1 1710,1152.0 1711,1152.7 1712,1152.8 1713,1154.4 1714,1152.5 1715,1152.0 1716,1153.2 1717,1152.1 1718,1154.0 1719,1152.6 1720,1153.5 1721,1151.6 1722,1154.0 1723,1153.5 1724,1151.2 1725,1152.0 1726,1152.7 1727,1150.5 1728,1151.0 1729,1153.5 1730,1153.6 1731,1154.9 1732,1150.8 1733,1152.3 1734,1149.7 1735,1155.7 1736,1150.9 1737,1152.6 1738,1156.1 1739,1155.4 1740,1151.8 1741,1156.7 1742,1153.9 1743,1151.6 1744,1153.7 1745,1154.3 1746,1154.3 1747,1150.0 1748,1156.3 1749,1150.9 1750,1153.1 1751,1155.8 1752,1154.2 1753,1153.5 1754,1152.7 1755,1154.6 1756,1155.9 1757,1152.9 1758,1154.4 1759,1153.2 1760,1153.2 1761,1150.6 1762,1154.3 1763,1155.4 1764,1153.8 1765,1155.7 1766,1154.3 1767,1156.0 1768,1154.4 1769,1153.6 1770,1153.4 1771,1154.4 1772,1154.7 1773,1153.1 1774,1154.1 1775,1152.3 1776,1152.3 1777,1155.5 1778,1155.0 1779,1155.9 1780,1154.8 1781,1155.0 1782,1157.4 1783,1153.4 1784,1155.1 1785,1157.1 1786,1157.9 1787,1155.6 1788,1154.6 1789,1153.2 1790,1154.6 1791,1155.1 1792,1154.9 1793,1155.7 1794,1155.8 1795,1154.2 1796,1153.6 1797,1154.6 1798,1155.7 1799,1157.6 1800,1152.6 1801,1156.7 1802,1154.7 1803,1156.8 1804,1158.1 1805,1156.0 1806,1153.5 1807,1154.6 1808,1155.8 1809,1154.8 1810,1155.2 1811,1154.2 1812,1155.0 1813,1154.4 1814,1156.7 1815,1155.9 1816,1156.5 1817,1153.0 1818,1154.8 1819,1154.4 1820,1154.8 1821,1154.2 1822,1154.4 1823,1157.9 1824,1155.2 1825,1153.7 1826,1155.2 1827,1159.0 1828,1156.7 1829,1154.3 1830,1155.3 1831,1155.6 1832,1155.7 1833,1152.9 1834,1154.3 1835,1155.5 1836,1153.2 1837,1155.5 1838,1155.9 1839,1157.0 1840,1157.4 1841,1155.6 1842,1156.2 1843,1156.9 1844,1157.4 1845,1156.0 1846,1154.8 1847,1156.9 1848,1157.3 1849,1156.2 1850,1156.9 1851,1158.4 1852,1155.3 1853,1155.1 1854,1154.5 1855,1156.7 1856,1157.6 1857,1155.5 1858,1158.9 1859,1155.4 1860,1156.7 1861,1156.1 1862,1158.4 1863,1155.4 1864,1158.8 1865,1156.2 1866,1154.5 1867,1155.6 1868,1156.3 1869,1159.0 1870,1155.8 1871,1156.5 1872,1159.6 1873,1156.8 1874,1155.7 1875,1155.6 1876,1154.4 1877,1157.2 1878,1158.5 1879,1156.2 1880,1155.2 1881,1157.2 1882,1156.8 1883,1156.6 1884,1157.5 1885,1156.9 1886,1156.3 1887,1158.4 1888,1154.2 1889,1155.3 1890,1156.6 1891,1155.0 1892,1159.2 1893,1153.8 1894,1158.1 1895,1157.9 1896,1157.6 1897,1157.7 1898,1156.3 1899,1156.1 1900,1159.3 1901,1157.0 1902,1155.1 1903,1155.4 1904,1155.0 1905,1157.7 1906,1159.0 1907,1156.9 1908,1157.6 1909,1156.7 1910,1158.7 1911,1158.7 1912,1158.8 1913,1160.2 1914,1155.8 1915,1158.8 1916,1155.4 1917,1158.7 1918,1158.9 1919,1158.8 1920,1158.9 1921,1157.6 1922,1156.9 1923,1159.0 1924,1157.0 1925,1158.9 1926,1156.7 1927,1158.5 1928,1158.4 1929,1156.8 1930,1157.6 1931,1159.4 1932,1158.2 1933,1158.9 1934,1157.4 1935,1158.4 1936,1156.1 1937,1157.1 1938,1160.1 1939,1159.1 1940,1158.3 1941,1158.5 1942,1156.4 1943,1159.0 1944,1156.7 1945,1157.4 1946,1159.5 1947,1157.4 1948,1157.8 1949,1158.4 1950,1158.7 1951,1160.5 1952,1156.2 1953,1158.0 1954,1159.5 1955,1158.0 1956,1158.1 1957,1157.6 1958,1158.3 1959,1159.7 1960,1160.6 1961,1159.3 1962,1160.8 1963,1159.0 1964,1156.5 1965,1160.0 1966,1156.1 1967,1158.9 1968,1159.0 1969,1157.4 1970,1158.8 1971,1158.3 1972,1159.3 1973,1158.7 1974,1160.0 1975,1158.7 1976,1160.1 1977,1159.2 1978,1159.6 1979,1159.5 1980,1158.7 1981,1160.9 1982,1160.2 1983,1156.2 1984,1157.7 1985,1161.9 1986,1159.1 1987,1163.2 1988,1160.2 1989,1160.2 1990,1159.0 1991,1159.3 1992,1159.9 1993,1161.0 1994,1159.9 1995,1159.7 1996,1158.4 1997,1159.1 1998,1159.2 1999,1159.7 2000,1158.8 2001,1158.4 2002,1159.5 2003,1156.5 2004,1157.8 2005,1158.8 2006,1160.5 2007,1159.0 2008,1158.5 2009,1161.0 2010,1159.9 2011,1162.0 2012,1159.8 2013,1159.1 2014,1159.6 2015,1162.6 2016,1162.3 2017,1160.4 2018,1161.7 2019,1158.3 2020,1162.0 2021,1160.8 2022,1160.2 2023,1160.4 2024,1160.7 2025,1159.8 2026,1159.9 2027,1158.8 2028,1162.6 2029,1159.3 2030,1160.3 2031,1161.9 2032,1162.2 2033,1162.5 2034,1159.8 2035,1160.0 2036,1160.5 2037,1158.1 2038,1161.9 2039,1158.4 2040,1160.5 2041,1162.0 2042,1161.9 2043,1160.2 2044,1162.0 2045,1162.3 2046,1158.5 2047,1160.5 2048,1161.8 2049,1161.5 2050,1160.7 2051,1160.8 2052,1164.2 2053,1160.6 2054,1162.5 2055,1159.5 2056,1161.9 2057,1162.6 2058,1160.7 2059,1160.4 2060,1163.9 2061,1161.1 2062,1162.8 2063,1159.5 2064,1163.8 2065,1158.9 2066,1160.4 2067,1160.8 2068,1161.6 2069,1162.0 2070,1164.0 2071,1164.7 2072,1164.4 2073,1163.0 2074,1162.3 2075,1159.2 2076,1161.9 2077,1161.3 2078,1163.0 2079,1160.8 2080,1161.1 2081,1161.2 2082,1163.1 2083,1162.5 2084,1160.9 2085,1160.0 2086,1161.6 2087,1161.6 2088,1161.7 2089,1162.6 2090,1163.5 2091,1163.6 2092,1161.7 2093,1161.6 2094,1164.7 2095,1162.4 2096,1163.7 2097,1163.0 2098,1163.3 2099,1165.0 2100,1162.6 2101,1164.4 2102,1163.7 2103,1162.8 2104,1162.4 2105,1162.4 2106,1164.7 2107,1164.5 2108,1162.0 2109,1163.8 2110,1160.8 2111,1163.4 2112,1166.1 2113,1161.7 2114,1163.8 2115,1162.6 2116,1163.6 2117,1162.1 2118,1163.8 2119,1160.4 2120,1163.2 2121,1163.2 2122,1163.5 2123,1166.4 2124,1162.1 2125,1162.8 2126,1161.9 2127,1164.5 2128,1163.9 2129,1162.3 2130,1165.2 2131,1164.3 2132,1165.9 2133,1165.0 2134,1164.1 2135,1163.0 2136,1161.2 2137,1163.3 2138,1165.7 2139,1163.9 2140,1163.1 2141,1164.6 2142,1165.3 2143,1167.9 2144,1163.0 2145,1163.9 2146,1162.9 2147,1163.4 2148,1165.7 2149,1164.3 2150,1162.6 2151,1166.4 2152,1167.0 2153,1165.7 2154,1163.3 2155,1163.2 2156,1166.5 2157,1163.4 2158,1164.0 2159,1162.9 2160,1167.4 2161,1164.0 2162,1164.7 2163,1163.9 2164,1164.1 2165,1163.4 2166,1166.5 2167,1164.2 2168,1167.1 2169,1163.4 2170,1165.8 2171,1166.5 2172,1163.7 2173,1165.6 2174,1164.5 2175,1163.9 2176,1164.8 2177,1162.9 2178,1165.0 2179,1163.4 2180,1166.4 2181,1167.6 2182,1167.5 2183,1164.6 2184,1165.5 2185,1168.4 2186,1167.5 2187,1166.6 2188,1162.9 2189,1165.4 2190,1168.9 2191,1166.6 2192,1165.4 2193,1166.1 2194,1169.3 2195,1167.8 2196,1164.4 2197,1164.6 2198,1166.3 2199,1168.0 2200,1165.2 2201,1165.5 2202,1163.0 2203,1165.5 2204,1167.2 2205,1167.3 2206,1164.5 2207,1167.6 2208,1165.4 2209,1164.6 2210,1167.3 2211,1164.4 2212,1166.0 2213,1165.5 2214,1166.5 2215,1167.0 2216,1166.1 2217,1165.6 2218,1166.1 2219,1163.7 2220,1166.7 2221,1169.8 2222,1167.5 2223,1168.6 2224,1167.1 2225,1167.2 2226,1167.8 2227,1168.2 2228,1168.2 2229,1166.2 2230,1167.4 2231,1165.4 2232,1168.9 2233,1167.5 2234,1167.2 2235,1165.9 2236,1168.3 2237,1169.1 2238,1168.4 2239,1169.3 2240,1166.8 2241,1169.1 2242,1167.9 2243,1164.6 2244,1168.4 2245,1166.7 2246,1167.9 2247,1167.2 2248,1167.0 2249,1169.7 2250,1167.5 2251,1168.6 2252,1169.3 2253,1167.9 2254,1166.8 2255,1168.6 2256,1168.4 2257,1167.4 2258,1168.8 2259,1170.4 2260,1170.1 2261,1170.9 2262,1170.7 2263,1169.2 2264,1169.0 2265,1167.5 2266,1170.6 2267,1168.3 2268,1169.9 2269,1171.4 2270,1169.4 2271,1167.2 2272,1167.9 2273,1168.8 2274,1171.2 2275,1169.0 2276,1169.3 2277,1168.0 2278,1170.0 2279,1169.7 2280,1170.7 2281,1168.3 2282,1170.5 2283,1167.8 2284,1168.8 2285,1169.0 2286,1169.5 2287,1170.4 2288,1166.7 2289,1169.8 2290,1169.4 2291,1168.2 2292,1169.6 2293,1170.7 2294,1169.5 2295,1169.5 2296,1171.1 2297,1169.2 2298,1171.7 2299,1170.9 2300,1171.0 2301,1171.3 2302,1172.2 2303,1169.6 2304,1172.1 2305,1169.4 2306,1171.2 2307,1171.5 2308,1171.0 2309,1169.3 2310,1169.2 2311,1169.4 2312,1170.9 2313,1171.2 2314,1171.8 2315,1169.0 2316,1171.6 2317,1172.6 2318,1171.4 2319,1171.2 2320,1172.4 2321,1173.5 2322,1173.4 2323,1173.5 2324,1169.8 2325,1173.5 2326,1171.2 2327,1172.8 2328,1170.9 2329,1172.2 2330,1171.0 2331,1171.5 2332,1174.5 2333,1170.3" fill="none" stroke="#0000ff" stroke-width="3.9" stroke-linejoin="round"/>
<polyline points="158,785.6 159,782.6 160,788.3 161,791.7 162,795.3 163,789.5 164,785.7 165,784.2 166,792.1 167,796.5 168,788.9 169,780.5 170,781.6 171,794.8 172,786.9 173,776.3 174,784.5 175,778.4 176,780.7 177,781.0 178,779.3 179,785.5 180,781.8 181,778.5 182,783.2 183,784.9 184,771.4 185,778.1 186,773.7 187,777.2 188,770.7 189,776.7 190,775.5 191,773.2 192,768.5 193,770.8 194,766.3 195,763.9 196,770.9 197,763.0 198,773.5 199,770.1 200,755.1 201,765.6 202,757.4 203,762.1 204,761.0 205,749.6 206,757.4 207,756.2 208,761.3 209,749.5 210,758.1 211,747.9 212,750.8 213,747.4 214,758.0 215,752.8 216,761.4 217,751.6 218,751.8 219,751.0 220,743.0 221,744.8 222,750.9 223,741.5 224,743.5 225,741.7 226,743.9 227,738.4 228,738.6 229,739.8 230,738.4 231,733.0 232,740.9 233,729.6 234,729.5 235,728.6 236,739.1 237,732.3 238,729.0 239,727.9 240,735.2 241,728.0 242,726.9 243,736.0 244,727.3 245,731.6 246,733.3 247,731.4 248,733.5 249,740.4 250,731.9 251,728.7 252,726.4 253,734.5 254,734.2 255,737.6 256,734.6 257,735.0 258,734.4 259,735.9 260,739.6 261,737.6 262,740.4 263,749.3 264,743.2 265,734.2 266,750.1 267,744.2 268,738.7 269,747.8 270,744.2 271,741.7 272,742.1 273,740.9 274,746.1 275,751.3 276,745.3 277,749.2 278,756.4 279,742.7 280,749.9 281,747.8 282,744.9 283,745.6 284,750.7 285,753.2 286,749.4 287,752.5 288,756.0 289,754.6 290,757.7 291,756.4 292,757.0 293,763.5 294,758.6 295,756.9 296,760.0 297,753.2 298,756.2 299,761.7 300,761.5 301,766.0 302,759.6 303,753.5 304,769.1 305,765.7 306,756.7 307,767.9 308,762.5 309,754.8 310,761.5 311,761.6 312,771.3 313,761.4 314,764.3 315,764.7 316,764.7 317,762.9 318,768.3 319,772.5 320,771.0 321,764.8 322,764.3 323,770.2 324,767.1 325,767.8 326,763.7 327,779.6 328,775.5 329,767.7 330,776.0 331,778.1 332,762.4 333,770.5 334,771.3 335,775.8 336,772.6 337,772.2 338,772.9 339,780.9 340,782.1 341,770.7 342,768.8 343,783.1 344,768.3 345,769.8 346,772.2 347,773.9 348,776.0 349,773.1 350,767.6 351,773.1 352,771.8 353,778.2 354,770.1 355,764.3 356,765.2 357,775.1 358,766.5 359,759.7 360,765.5 361,767.4 362,771.8 363,762.2 364,768.5 365,768.4 366,761.7 367,763.0 368,770.2 369,769.1 370,764.6 371,761.3 372,763.3 373,756.6 374,754.9 375,749.7 376,750.6 377,747.4 378,754.4 379,739.7 380,741.2 381,736.4 382,724.6 383,723.6 384,703.1 385,704.0 386,698.0 387,675.0 388,668.8 389,665.4 390,646.8 391,629.1 392,616.4 393,599.2 394,586.7 395,567.3 396,545.4 397,524.4 398,507.2 399,493.2 400,470.5 401,453.8 402,434.5 403,415.9 404,406.6 405,403.4 406,396.2 407,391.0 408,390.8 409,403.7 410,411.3 411,423.0 412,436.6 413,453.5 414,468.6 415,486.3 416,500.9 417,516.5 418,527.8 419,535.9 420,548.4 421,561.0 422,567.5 423,579.4 424,589.5 425,589.1 426,591.7 427,608.5 428,609.1 429,616.0 430,612.0 431,626.6 432,625.5 433,624.5 434,625.5 435,629.0 436,629.4 437,630.5 438,628.8 439,639.1 440,635.9 441,637.9 442,639.6 443,632.1 444,644.3 445,642.6 446,644.2 447,646.9 448,644.4 449,652.3 450,647.8 451,648.2 452,649.3 453,653.9 454,656.7 455,652.4 456,649.6 457,659.3 458,651.8 459,660.1 460,655.5 461,652.9 462,652.6 463,655.7 464,656.1 465,650.5 466,652.5 467,653.7 468,641.8 469,633.8 470,628.4 471,620.1 472,614.3 473,604.0 474,590.3 475,583.8 476,558.6 477,547.6 478,544.2 479,526.7 480,513.7 481,506.8 482,510.6 483,512.0 484,522.1 485,533.4 486,555.3 487,571.3 488,589.0 489,605.1 490,621.8 491,633.4 492,648.4 493,649.9 494,661.7 495,675.3 496,674.4 497,683.0 498,686.7 499,690.6 500,691.5 501,686.7 502,692.7 503,694.2 504,692.0 505,697.2 506,695.9 507,695.7 508,703.1 509,703.1 510,701.6 511,701.2 512,702.9 513,703.3 514,702.8 515,703.0 516,700.2 517,700.8 518,698.2 519,693.9 520,685.7 521,680.3 522,677.6 523,669.0 524,663.3 525,650.2 526,647.6 527,657.6 528,660.3 529,668.1 530,671.4 531,676.2 532,682.3 533,684.5 534,699.0 535,700.5 536,710.3 537,714.9 538,720.3 539,727.1 540,726.8 541,730.9 542,732.8 543,737.5 544,746.9 545,742.8 546,750.1 547,751.0 548,752.5 549,754.4 550,750.1 551,756.0 552,761.2 553,755.1 554,758.3 555,757.3 556,761.5 557,757.9 558,767.3 559,761.6 560,758.6 561,769.8 562,767.7 563,766.7 564,767.1 565,764.5 566,765.2 567,768.4 568,769.1 569,769.2 570,766.9 571,764.7 572,765.4 573,769.3 574,770.0 575,764.0 576,763.1 577,767.9 578,765.5 579,764.6 580,757.4 581,759.3 582,757.7 583,758.6 584,751.2 585,758.8 586,754.0 587,752.4 588,745.3 589,746.6 590,748.3 591,736.7 592,739.7 593,738.0 594,730.6 595,731.9 596,725.1 597,726.4 598,720.6 599,716.1 600,718.0 601,710.8 602,708.9 603,698.0 604,696.7 605,698.5 606,696.4 607,691.7 608,693.0 609,686.8 610,690.6 611,687.5 612,694.1 613,694.9 614,698.6 615,705.6 616,716.3 617,713.5 618,720.6 619,731.4 620,732.6 621,744.7 622,745.3 623,749.8 624,755.3 625,763.7 626,764.5 627,767.8 628,770.4 629,768.2 630,773.1 631,782.7 632,783.2 633,784.5 634,787.0 635,785.6 636,790.3 637,788.7 638,794.5 639,793.2 640,796.7 641,800.6 642,800.2 643,804.9 644,806.2 645,807.8 646,812.3 647,805.9 648,807.1 649,815.0 650,817.4 651,821.8 652,819.4 653,820.9 654,817.2 655,823.1 656,824.1 657,820.3 658,822.0 659,825.4 660,827.7 661,820.8 662,829.2 663,830.8 664,830.6 665,832.9 666,834.4 667,831.1 668,836.0 669,835.0 670,833.8 671,837.8 672,842.0 673,834.4 674,834.4 675,834.9 676,845.6 677,839.8 678,840.9 679,839.3 680,839.4 681,836.8 682,843.4 683,844.1 684,838.3 685,841.3 686,842.5 687,844.9 688,845.9 689,848.7 690,849.6 691,849.1 692,850.0 693,843.4 694,845.2 695,850.0 696,847.7 697,847.1 698,841.6 699,841.7 700,848.5 701,847.1 702,845.0 703,844.2 704,840.1 705,845.3 706,846.6 707,847.7 708,843.0 709,841.9 710,839.3 711,845.3 712,846.6 713,840.5 714,843.2 715,843.1 716,841.9 717,837.4 718,844.0 719,847.5 720,843.1 721,845.8 722,842.6 723,853.9 724,853.1 725,853.2 726,853.7 727,854.0 728,856.8 729,857.6 730,859.0 731,860.8 732,862.4 733,867.3 734,860.5 735,865.9 736,864.4 737,863.8 738,861.2 739,869.5 740,865.9 741,867.0 742,870.7 743,867.2 744,870.6 745,870.9 746,873.6 747,874.7 748,870.3 749,875.4 750,873.2 751,874.2 752,873.8 753,876.7 754,872.0 755,876.1 756,878.8 757,875.4 758,881.6 759,874.8 760,877.4 761,875.8 762,875.7 763,874.5 764,876.1 765,877.4 766,875.5 767,879.8 768,881.4 769,873.6 770,879.6 771,877.9 772,877.9 773,883.4 774,880.1 775,877.8 776,877.3 777,871.3 778,878.5 779,874.6 780,876.7 781,876.4 782,878.4 783,880.9 784,878.2 785,878.8 786,874.9 787,876.5 788,877.2 789,871.6 790,880.2 791,873.3 792,871.9 793,879.0 794,880.2 795,873.3 796,873.7 797,881.6 798,876.1 799,871.3 800,875.2 801,882.1 802,879.4 803,880.3 804,882.1 805,881.4 806,879.7 807,877.4 808,883.1 809,880.1 810,883.4 811,888.5 812,886.3 813,885.8 814,886.5 815,888.7 816,889.7 817,884.8 818,888.9 819,893.0 820,891.2 821,888.0 822,888.7 823,885.8 824,889.3 825,895.4 826,891.9 827,890.4 828,891.5 829,893.0 830,893.4 831,893.2 832,892.6 833,896.3 834,898.8 835,894.3 836,894.7 837,899.1 838,893.2 839,895.6 840,896.5 841,898.1 842,897.4 843,896.2 844,899.4 845,896.2 846,895.2 847,894.8 848,901.6 849,896.1 850,901.4 851,902.2 852,902.8 853,900.8 854,900.2 855,901.9 856,900.6 857,899.3 858,905.4 859,900.7 860,907.1 861,904.4 862,902.4 863,904.7 864,906.8 865,901.0 866,902.3 867,902.3 868,905.3 869,906.1 870,905.5 871,904.0 872,904.7 873,908.8 874,908.9 875,906.9 876,903.9 877,908.5 878,908.0 879,908.2 880,911.7 881,909.9 882,906.2 883,906.5 884,912.0 885,909.6 886,911.4 887,909.5 888,907.9 889,911.0 890,914.1 891,911.7 892,908.7 893,910.8 894,910.6 895,912.4 896,914.5 897,916.9 898,913.2 899,912.0 900,913.4 901,913.5 902,912.7 903,913.9 904,914.1 905,911.7 906,915.7 907,913.9 908,912.7 909,916.1 910,914.1 911,919.2 912,916.6 913,915.9 914,914.3 915,915.2 916,918.1 917,914.9 918,918.2 919,912.2 920,917.4 921,918.9 922,918.0 923,917.4 924,919.8 925,915.9 926,915.8 927,918.4 928,920.9 929,919.4 930,918.2 931,919.5 932,920.0 933,916.5 934,913.9 935,917.4 936,916.6 937,918.7 938,917.6 939,918.5 940,921.5 941,921.0 942,920.9 943,924.7 944,920.4 945,920.8 946,924.5 947,919.7 948,918.9 949,925.3 950,923.5 951,924.2 952,924.6 953,925.3 954,922.7 955,923.8 956,921.8 957,924.7 958,925.1 959,923.9 960,926.5 961,930.3 962,923.2 963,927.6 964,928.1 965,928.6 966,925.0 967,929.4 968,928.5 969,927.1 970,926.9 971,928.4 972,930.1 973,930.2 974,933.4 975,928.2 976,930.5 977,928.6 978,931.3 979,930.2 980,929.0 981,927.8 982,929.2 983,931.5 984,934.2 985,933.1 986,929.3 987,931.0 988,932.3 989,932.2 990,932.8 991,934.5 992,933.6 993,932.0 994,929.7 995,933.1 996,930.7 997,934.0 998,935.1 999,932.1 1000,934.7 1001,934.5 1002,939.2 1003,936.5 1004,932.1 1005,936.9 1006,937.1 1007,936.1 1008,936.0 1009,938.1 1010,938.5 1011,938.2 1012,935.6 1013,937.3 1014,934.9 1015,935.3 1016,937.3 1017,936.6 1018,938.0 1019,943.9 1020,940.2 1021,937.7 1022,935.4 1023,938.2 1024,937.2 1025,935.9 1026,941.8 1027,939.6 1028,941.6 1029,946.1 1030,941.7 1031,941.5 1032,942.2 1033,941.1 1034,940.2 1035,941.6 1036,944.4 1037,941.8 1038,939.8 1039,940.2 1040,940.8 1041,942.9 1042,944.0 1043,944.1 1044,945.7 1045,943.1 1046,945.3 1047,944.5 1048,945.3 1049,940.6 1050,946.7 1051,941.5 1052,942.4 1053,946.2 1054,944.2 1055,948.4 1056,945.5 1057,943.4 1058,945.8 1059,944.8 1060,948.7 1061,949.0 1062,947.4 1063,945.4 1064,946.4 1065,948.4 1066,945.0 1067,945.2 1068,948.4 1069,948.3 1070,946.6 1071,946.7 1072,943.6 1073,949.6 1074,947.3 1075,945.0 1076,945.6 1077,946.2 1078,951.2 1079,949.4 1080,945.7 1081,951.8 1082,951.0 1083,946.6 1084,944.0 1085,950.6 1086,947.8 1087,948.8 1088,948.1 1089,951.6 1090,952.1 1091,950.9 1092,949.2 1093,950.1 1094,950.9 1095,946.9 1096,952.2 1097,949.4 1098,950.6 1099,950.5 1100,952.0 1101,952.3 1102,954.5 1103,949.9 1104,949.0 1105,951.0 1106,949.6 1107,952.5 1108,949.5 1109,951.3 1110,952.9 1111,953.1 1112,951.7 1113,954.0 1114,953.8 1115,948.5 1116,952.3 1117,952.0 1118,951.2 1119,950.7 1120,952.0 1121,952.7 1122,952.6 1123,954.6 1124,954.0 1125,951.2 1126,950.9 1127,953.9 1128,951.2 1129,952.8 1130,953.4 1131,954.4 1132,953.6 1133,955.3 1134,951.9 1135,954.0 1136,951.7 1137,953.2 1138,953.1 1139,951.3 1140,948.5 1141,954.8 1142,953.7 1143,953.4 1144,951.9 1145,952.6 1146,954.1 1147,953.3 1148,955.4 1149,953.5 1150,951.9 1151,954.5 1152,952.3 1153,953.8 1154,950.3 1155,952.9 1156,954.5 1157,952.4 1158,953.5 1159,954.5 1160,953.6 1161,956.6 1162,953.0 1163,953.1 1164,953.1 1165,949.9 1166,950.6 1167,954.1 1168,952.5 1169,955.3 1170,952.5 1171,951.9 1172,953.4 1173,951.2 1174,952.3 1175,946.2 1176,947.0 1177,945.3 1178,943.1 1179,942.6 1180,941.8 1181,940.2 1182,939.4 1183,942.4 1184,941.3 1185,943.4 1186,944.6 1187,943.3 1188,942.1 1189,944.0 1190,946.5 1191,945.4 1192,948.5 1193,947.3 1194,948.1 1195,947.4 1196,948.9 1197,951.5 1198,949.6 1199,950.1 1200,949.7 1201,952.8 1202,949.3 1203,951.1 1204,954.0 1205,955.2 1206,952.7 1207,954.9 1208,950.2 1209,955.0 1210,954.4 1211,952.0 1212,951.2 1213,953.5 1214,954.9 1215,955.2 1216,954.9 1217,956.1 1218,956.1 1219,952.7 1220,954.5 1221,954.4 1222,957.0 1223,954.6 1224,957.2 1225,955.7 1226,959.5 1227,955.7 1228,955.8 1229,955.7 1230,956.2 1231,960.1 1232,955.3 1233,954.8 1234,956.0 1235,957.5 1236,954.8 1237,957.8 1238,957.9 1239,956.4 1240,956.3 1241,955.5 1242,956.5 1243,955.7 1244,959.1 1245,959.8 1246,956.8 1247,957.3 1248,954.4 1249,956.7 1250,958.2 1251,958.2 1252,958.1 1253,959.4 1254,958.3 1255,957.7 1256,961.1 1257,955.5 1258,956.9 1259,957.7 1260,957.9 1261,958.0 1262,959.0 1263,958.4 1264,959.6 1265,960.8 1266,960.1 1267,960.4 1268,958.9 1269,958.7 1270,960.3 1271,962.4 1272,961.7 1273,963.0 1274,963.0 1275,963.4 1276,960.5 1277,963.9 1278,963.3 1279,965.6 1280,963.4 1281,963.1 1282,962.6 1283,963.2 1284,960.5 1285,962.9 1286,963.3 1287,965.1 1288,962.7 1289,964.0 1290,966.8 1291,963.3 1292,965.5 1293,963.5 1294,964.3 1295,965.3 1296,966.0 1297,964.0 1298,963.3 1299,967.3 1300,965.3 1301,966.3 1302,966.6 1303,966.4 1304,964.9 1305,965.2 1306,963.1 1307,965.8 1308,964.9 1309,965.6 1310,968.6 1311,966.9 1312,966.0 1313,963.9 1314,967.2 1315,968.4 1316,964.9 1317,966.9 1318,965.5 1319,966.1 1320,965.9 1321,964.1 1322,965.8 1323,964.2 1324,968.8 1325,968.4 1326,966.9 1327,967.3 1328,967.1 1329,967.4 1330,967.4 1331,966.8 1332,967.0 1333,965.3 1334,965.9 1335,966.5 1336,967.8 1337,967.0 1338,970.5 1339,967.4 1340,967.2 1341,968.5 1342,969.4 1343,970.7 1344,969.5 1345,967.2 1346,967.9 1347,969.8 1348,968.7 1349,969.5 1350,968.3 1351,970.8 1352,970.7 1353,970.3 1354,968.9 1355,966.3 1356,966.8 1357,969.3 1358,969.9 1359,965.1 1360,968.3 1361,970.8 1362,970.5 1363,968.5 1364,970.2 1365,969.3 1366,969.0 1367,971.1 1368,971.1 1369,968.8 1370,968.2 1371,967.7 1372,967.6 1373,971.7 1374,972.6 1375,970.2 1376,971.5 1377,969.0 1378,969.9 1379,971.4 1380,970.6 1381,970.2 1382,967.9 1383,968.2 1384,969.8 1385,969.6 1386,970.4 1387,969.6 1388,970.3 1389,970.7 1390,971.4 1391,970.8 1392,970.0 1393,970.4 1394,972.2 1395,970.6 1396,969.6 1397,969.6 1398,971.5 1399,971.9 1400,972.9 1401,970.8 1402,973.3 1403,970.8 1404,971.1 1405,970.6 1406,972.2 1407,973.0 1408,971.6 1409,970.9 1410,969.5 1411,971.9 1412,971.3 1413,971.5 1414,971.0 1415,970.7 1416,971.4 1417,972.6 1418,973.4 1419,972.1 1420,972.6 1421,971.9 1422,972.1 1423,970.4 1424,973.6 1425,973.2 1426,974.5 1427,971.6 1428,972.7 1429,971.3 1430,972.9 1431,972.5 1432,973.6 1433,972.5 1434,973.7 1435,972.2 1436,973.7 1437,972.5 1438,972.4 1439,973.1 1440,973.6 1441,971.1 1442,971.0 1443,973.4 1444,973.2 1445,970.5 1446,971.0 1447,972.3 1448,973.8 1449,973.7 1450,974.9 1451,975.1 1452,976.8 1453,971.6 1454,973.6 1455,975.2 1456,972.0 1457,971.8 1458,974.1 1459,975.4 1460,975.6 1461,971.5 1462,972.3 1463,973.9 1464,973.3 1465,974.6 1466,974.3 1467,976.6 1468,974.1 1469,974.5 1470,974.4 1471,975.9 1472,972.9 1473,975.0 1474,973.4 1475,972.6 1476,976.2 1477,975.3 1478,976.5 1479,975.0 1480,975.6 1481,974.9 1482,975.6 1483,974.3 1484,977.2 1485,973.7 1486,977.3 1487,974.7 1488,976.2 1489,975.2 1490,975.7 1491,977.2 1492,975.4 1493,973.9 1494,975.6 1495,976.2 1496,972.0 1497,976.7 1498,976.9 1499,973.0 1500,975.3 1501,976.6 1502,974.0 1503,975.0 1504,975.2 1505,976.4 1506,977.2 1507,975.7 1508,975.8 1509,977.0 1510,976.6 1511,975.7 1512,977.7 1513,974.0 1514,976.2 1515,975.4 1516,975.4 1517,976.3 1518,976.2 1519,979.4 1520,977.0 1521,976.7 1522,978.4 1523,977.6 1524,973.8 1525,976.5 1526,977.4 1527,975.6 1528,976.8 1529,975.9 1530,977.0 1531,974.4 1532,974.0 1533,975.9 1534,976.9 1535,978.4 1536,976.3 1537,975.7 1538,978.0 1539,976.8 1540,979.2 1541,976.7 1542,974.3 1543,975.8 1544,975.7 1545,975.1 1546,976.0 1547,976.1 1548,976.7 1549,976.4 1550,977.7 1551,977.7 1552,977.4 1553,977.5 1554,974.7 1555,975.1 1556,976.1 1557,977.7 1558,975.4 1559,976.8 1560,977.8 1561,980.1 1562,977.8 1563,976.8 1564,979.0 1565,977.8 1566,977.2 1567,979.1 1568,976.5 1569,977.9 1570,977.8 1571,978.9 1572,976.3 1573,976.1 1574,977.3 1575,977.5 1576,977.9 1577,977.4 1578,978.5 1579,978.9 1580,978.3 1581,976.7 1582,979.6 1583,976.1 1584,977.8 1585,979.3 1586,977.4 1587,979.9 1588,980.7 1589,980.3 1590,978.9 1591,979.6 1592,977.7 1593,978.9 1594,979.0 1595,978.6 1596,978.7 1597,978.2 1598,976.0 1599,979.1 1600,979.0 1601,981.3 1602,979.6 1603,978.8 1604,979.8 1605,979.5 1606,978.7 1607,978.3 1608,976.9 1609,979.0 1610,981.0 1611,976.5 1612,977.7 1613,979.9 1614,979.2 1615,979.6 1616,976.7 1617,978.3 1618,979.8 1619,979.9 1620,979.6 1621,978.1 1622,979.9 1623,977.7 1624,978.1 1625,977.8 1626,981.2 1627,978.8 1628,979.5 1629,976.6 1630,980.9 1631,980.1 1632,977.4 1633,977.5 1634,981.7 1635,978.4 1636,982.0 1637,979.1 1638,976.5 1639,981.1 1640,980.4 1641,980.6 1642,979.2 1643,979.6 1644,981.1 1645,978.8 1646,977.4 1647,981.1 1648,979.2 1649,981.6 1650,979.4 1651,979.5 1652,979.8 1653,977.1 1654,981.6 1655,979.4 1656,980.0 1657,982.1 1658,980.4 1659,981.4 1660,980.7 1661,981.3 1662,980.7 1663,981.9 1664,980.2 1665,981.1 1666,979.6 1667,982.0 1668,977.8 1669,980.8 1670,981.1 1671,981.1 1672,980.7 1673,982.4 1674,983.4 1675,980.0 1676,978.4 1677,979.5 1678,979.8 1679,980.7 1680,980.8 1681,982.3 1682,980.4 1683,981.0 1684,981.2 1685,980.0 1686,980.7 1687,984.3 1688,981.0 1689,980.0 1690,978.5 1691,982.5 1692,980.9 1693,980.5 1694,984.4 1695,983.2 1696,979.3 1697,981.0 1698,982.7 1699,982.5 1700,980.1 1701,983.8 1702,983.9 1703,980.2 1704,979.4 1705,979.9 1706,982.5 1707,983.1 1708,982.0 1709,981.1 1710,981.7 1711,982.6 1712,980.4 1713,979.8 1714,981.8 1715,983.5 1716,982.2 1717,982.3 1718,981.2 1719,983.2 1720,980.0 1721,982.1 1722,981.5 1723,982.0 1724,981.1 1725,983.2 1726,982.2 1727,981.6 1728,983.0 1729,982.4 1730,981.8 1731,981.8 1732,983.5 1733,981.4 1734,982.3 1735,982.3 1736,983.0 1737,982.4 1738,985.3 1739,980.6 1740,983.5 1741,982.8 1742,984.2 1743,980.9 1744,984.4 1745,981.2 1746,983.8 1747,983.6 1748,983.1 1749,982.2 1750,982.1 1751,983.3 1752,982.3 1753,980.8 1754,981.0 1755,984.2 1756,984.3 1757,984.0 1758,983.4 1759,983.9 1760,984.1 1761,983.8 1762,982.6 1763,982.7 1764,982.2 1765,983.8 1766,982.5 1767,983.5 1768,985.3 1769,983.3 1770,985.0 1771,985.7 1772,981.7 1773,982.2 1774,984.6 1775,983.2 1776,984.7 1777,984.9 1778,983.5 1779,985.2 1780,986.3 1781,985.4 1782,983.2 1783,984.2 1784,983.7 1785,986.3 1786,984.2 1787,983.7 1788,984.6 1789,985.2 1790,984.2 1791,984.8 1792,984.7 1793,985.6 1794,985.9 1795,985.1 1796,984.3 1797,985.4 1798,983.9 1799,986.3 1800,985.4 1801,985.3 1802,982.2 1803,988.0 1804,986.9 1805,986.7 1806,985.4 1807,986.1 1808,988.3 1809,984.6 1810,986.3 1811,986.2 1812,985.7 1813,986.0 1814,984.5 1815,986.4 1816,984.2 1817,987.9 1818,986.7 1819,984.8 1820,983.4 1821,986.1 1822,986.6 1823,984.8 1824,988.0 1825,986.4 1826,985.6 1827,984.5 1828,986.1 1829,986.0 1830,987.1 1831,987.6 1832,986.4 1833,987.0 1834,988.2 1835,987.2 1836,986.3 1837,987.3 1838,986.0 1839,987.2 1840,986.8 1841,985.5 1842,987.5 1843,986.9 1844,987.7 1845,985.4 1846,988.2 1847,988.3 1848,986.6 1849,986.9 1850,987.1 1851,987.1 1852,988.1 1853,986.4 1854,985.9 1855,987.0 1856,989.5 1857,986.9 1858,986.2 1859,986.3 1860,987.6 1861,988.8 1862,986.6 1863,987.7 1864,987.8 1865,988.1 1866,987.8 1867,988.9 1868,988.5 1869,987.0 1870,990.6 1871,986.2 1872,986.3 1873,989.1 1874,988.1 1875,987.7 1876,988.2 1877,988.8 1878,987.6 1879,987.4 1880,986.9 1881,987.2 1882,987.3 1883,989.5 1884,988.6 1885,988.9 1886,987.7 1887,989.6 1888,986.6 1889,989.0 1890,989.3 1891,987.8 1892,987.4 1893,989.2 1894,987.8 1895,987.6 1896,988.7 1897,987.4 1898,988.6 1899,991.1 1900,988.3 1901,989.9 1902,987.7 1903,989.0 1904,988.6 1905,988.8 1906,989.9 1907,991.5 1908,989.0 1909,990.6 1910,989.6 1911,990.0 1912,988.7 1913,988.5 1914,989.1 1915,988.5 1916,989.4 1917,988.2 1918,989.5 1919,989.7 1920,991.6 1921,991.5 1922,990.2 1923,989.1 1924,990.4 1925,990.6 1926,989.5 1927,988.8 1928,987.8 1929,989.8 1930,992.1 1931,989.7 1932,990.4 1933,990.4 1934,990.6 1935,990.9 1936,987.8 1937,990.0 1938,990.6 1939,990.1 1940,991.6 1941,989.8 1942,991.3 1943,992.3 1944,990.1 1945,990.4 1946,990.1 1947,991.3 1948,988.1 1949,988.9 1950,990.3 1951,991.6 1952,991.3 1953,989.8 1954,992.5 1955,990.9 1956,990.1 1957,991.4 1958,992.3 1959,990.8 1960,989.2 1961,990.4 1962,991.1 1963,992.1 1964,990.0 1965,991.4 1966,989.8 1967,991.3 1968,989.7 1969,990.7 1970,989.6 1971,990.2 1972,989.6 1973,989.2 1974,992.8 1975,992.8 1976,992.0 1977,991.1 1978,993.2 1979,991.3 1980,992.1 1981,993.0 1982,992.0 1983,993.4 1984,991.6 1985,991.7 1986,992.0 1987,990.6 1988,990.7 1989,992.8 1990,990.1 1991,993.3 1992,992.4 1993,993.4 1994,993.0 1995,992.8 1996,994.1 1997,992.2 1998,992.2 1999,993.6 2000,991.6 2001,993.6 2002,993.2 2003,991.9 2004,991.1 2005,990.3 2006,994.6 2007,990.9 2008,991.3 2009,993.6 2010,993.2 2011,992.9 2012,992.8 2013,992.3 2014,991.8 2015,992.0 2016,993.5 2017,994.1 2018,994.2 2019,992.9 2020,990.5 2021,993.6 2022,992.9 2023,990.3 2024,994.7 2025,993.4 2026,993.1 2027,993.5 2028,993.4 2029,993.6 2030,993.5 2031,993.4 2032,994.0 2033,993.8 2034,996.1 2035,993.7 2036,993.0 2037,992.9 2038,994.0 2039,993.8 2040,994.0 2041,993.5 2042,993.6 2043,994.6 2044,995.3 2045,994.2 2046,993.8 2047,992.7 2048,992.7 2049,994.0 2050,993.7 2051,993.9 2052,992.9 2053,994.0 2054,992.0 2055,992.9 2056,993.3 2057,994.9 2058,993.6 2059,993.2 2060,994.6 2061,994.2 2062,995.4 2063,994.7 2064,994.7 2065,994.2 2066,995.2 2067,993.7 2068,992.9 2069,995.6 2070,994.1 2071,994.7 2072,995.3 2073,995.8 2074,992.0 2075,993.6 2076,996.1 2077,993.0 2078,995.4 2079,994.5 2080,993.9 2081,994.8 2082,993.1 2083,995.4 2084,996.3 2085,993.5 2086,994.4 2087,996.4 2088,995.6 2089,994.8 2090,996.8 2091,993.4 2092,995.0 2093,995.4 2094,995.0 2095,996.2 2096,993.6 2097,995.5 2098,994.6 2099,996.8 2100,996.7 2101,994.8 2102,994.4 2103,995.6 2104,994.7 2105,995.1 2106,996.2 2107,995.3 2108,997.7 2109,995.9 2110,995.3 2111,994.7 2112,995.3 2113,997.1 2114,996.6 2115,997.5 2116,997.4 2117,996.7 2118,995.3 2119,996.0 2120,996.2 2121,994.4 2122,996.6 2123,995.1 2124,996.2 2125,995.8 2126,997.0 2127,999.1 2128,995.1 2129,996.4 2130,998.7 2131,995.5 2132,996.3 2133,996.4 2134,996.9 2135,994.9 2136,997.0 2137,997.3 2138,999.4 2139,996.7 2140,996.2 2141,996.9 2142,994.2 2143,997.2 2144,998.6 2145,996.9 2146,996.9 2147,996.7 2148,997.2 2149,995.7 2150,998.7 2151,996.6 2152,996.7 2153,998.9 2154,997.2 2155,996.8 2156,999.0 2157,997.5 2158,998.3 2159,996.8 2160,995.5 2161,997.6 2162,999.0 2163,997.0 2164,997.9 2165,998.3 2166,997.9 2167,997.7 2168,998.5 2169,997.9 2170,997.1 2171,998.9 2172,998.6 2173,998.2 2174,998.6 2175,995.2 2176,998.2 2177,998.0 2178,995.8 2179,1000.2 2180,998.4 2181,997.6 2182,997.7 2183,998.4 2184,998.1 2185,996.4 2186,997.8 2187,998.7 2188,998.9 2189,999.2 2190,997.2 2191,997.7 2192,998.7 2193,997.7 2194,998.6 2195,997.6 2196,999.1 2197,998.6 2198,999.1 2199,998.6 2200,997.8 2201,997.3 2202,998.7 2203,998.0 2204,997.1 2205,998.2 2206,999.6 2207,1000.1 2208,999.6 2209,1000.3 2210,998.5 2211,998.8 2212,997.9 2213,998.2 2214,1000.7 2215,999.5 2216,999.7 2217,1001.6 2218,1001.1 2219,998.2 2220,1000.2 2221,998.4 2222,1000.3 2223,997.3 2224,998.3 2225,998.4 2226,1001.4 2227,997.5 2228,1000.6 2229,1000.6 2230,999.6 2231,1000.4 2232,1002.0 2233,999.8 2234,999.3 2235,1001.0 2236,1000.4 2237,998.4 2238,999.9 2239,1000.0 2240,998.5 2241,998.8 2242,999.1 2243,998.5 2244,1000.4 2245,1000.2 2246,997.5 2247,999.5 2248,1000.1 2249,998.5 2250,999.7 2251,1000.3 2252,998.2 2253,999.7 2254,997.6 2255,1000.9 2256,999.3 2257,998.6 2258,998.2 2259,998.5 2260,1001.5 2261,999.3 2262,999.6 2263,999.9 2264,998.7 2265,1001.1 2266,997.7 2267,1001.3 2268,999.6 2269,1000.5 2270,1000.7 2271,1001.3 2272,999.2 2273,1001.1 2274,1000.5 2275,1000.4 2276,1000.3 2277,1001.8 2278,1001.1 2279,1002.0 2280,1001.6 2281,998.6 2282,1000.6 2283,1001.8 2284,999.8 2285,999.0 2286,998.4 2287,1002.9 2288,999.9 2289,1001.1 2290,999.8 2291,1001.4 2292,1002.7 2293,999.5 2294,1000.9 2295,1000.2 2296,999.1 2297,1000.1 2298,1001.1 2299,1002.4 2300,1002.5 2301,1001.2 2302,999.5 2303,1001.9 2304,1001.2 2305,1001.3 2306,1000.1 2307,1001.2 2308,1003.4 2309,1002.9 2310,1002.7 2311,1002.1 2312,1001.0 2313,1001.5 2314,1001.7 2315,1001.9 2316,1001.2 2317,1000.7 2318,1002.8 2319,1001.2 2320,1002.5 2321,1001.5 2322,1002.4 2323,1002.2 2324,1002.5 2325,1002.5 2326,1000.8 2327,1000.4 2328,1001.8 2329,1003.6 2330,1001.0 2331,1000.9 2332,1004.3 2333,1000.3" fill="none" stroke="#00ffff" stroke-width="3.9" stroke-linejoin="round"/>
<polyline points="158,644.6 159,648.1 160,621.8 161,635.2 162,641.3 163,642.6 164,637.7 165,642.0 166,634.1 167,634.9 168,632.0 169,623.8 170,624.5 171,631.0 172,624.7 173,634.8 174,634.3 175,636.5 176,625.2 177,632.7 178,618.7 179,618.5 180,623.1 181,623.6 182,612.0 183,610.6 184,622.0 185,614.3 186,625.6 187,620.3 188,619.2 189,618.0 190,621.3 191,614.6 192,621.1 193,611.3 194,612.4 195,609.2 196,615.9 197,612.1 198,606.3 199,621.9 200,607.9 201,608.7 202,610.9 203,617.9 204,606.6 205,610.7 206,606.7 207,597.3 208,609.4 209,610.1 210,602.4 211,603.1 212,594.3 213,593.6 214,599.4 215,604.5 216,598.0 217,601.7 218,605.0 219,599.8 220,602.0 221,606.5 222,591.3 223,601.9 224,587.2 225,599.6 226,598.0 227,593.6 228,590.4 229,595.7 230,593.5 231,595.9 232,590.2 233,597.8 234,589.0 235,592.7 236,592.0 237,600.8 238,585.7 239,591.3 240,599.7 241,589.8 242,586.5 243,594.6 244,591.5 245,597.4 246,588.1 247,594.1 248,596.7 249,598.8 250,587.6 251,601.2 252,589.2 253,586.3 254,589.6 255,595.8 256,593.7 257,598.1 258,598.8 259,598.4 260,595.9 261,607.2 262,586.7 263,589.8 264,596.7 265,593.4 266,587.6 267,597.0 268,597.9 269,589.7 270,607.4 271,610.3 272,610.6 273,602.2 274,606.2 275,600.3 276,607.7 277,603.8 278,610.0 279,606.7 280,614.3 281,613.8 282,616.4 283,602.6 284,602.2 285,614.1 286,609.8 287,615.3 288,615.5 289,615.6 290,620.0 291,618.9 292,619.2 293,613.1 294,626.9 295,619.6 296,625.3 297,622.1 298,627.5 299,622.7 300,623.8 301,624.1 302,620.7 303,622.1 304,624.9 305,625.7 306,622.2 307,639.2 308,623.5 309,627.5 310,641.6 311,627.2 312,634.8 313,635.1 314,631.7 315,626.6 316,626.8 317,635.1 318,638.0 319,626.4 320,638.4 321,635.3 322,643.6 323,640.9 324,637.0 325,639.5 326,642.5 327,649.3 328,655.4 329,645.8 330,645.2 331,648.4 332,645.6 333,649.0 334,648.1 335,646.5 336,642.8 337,647.3 338,650.7 339,646.6 340,653.1 341,650.2 342,644.9 343,653.3 344,639.6 345,650.0 346,652.7 347,642.5 348,642.7 349,647.0 350,648.8 351,643.7 352,642.1 353,644.6 354,640.9 355,633.5 356,637.4 357,637.5 358,629.9 359,637.7 360,631.6 361,637.5 362,626.3 363,627.9 364,624.4 365,635.7 366,634.5 367,634.1 368,632.8 369,628.8 370,627.2 371,613.9 372,621.2 373,615.4 374,613.9 375,607.2 376,615.6 377,607.2 378,596.1 379,600.7 380,593.3 381,583.6 382,580.7 383,571.8 384,557.3 385,552.2 386,551.6 387,540.4 388,528.5 389,509.4 390,498.3 391,486.4 392,473.3 393,449.8 394,431.3 395,422.6 396,399.1 397,378.1 398,357.5 399,339.4 400,331.5 401,312.5 402,292.2 403,276.8 404,280.5 405,274.4 406,270.8 407,271.1 408,265.0 409,276.5 410,295.9 411,305.7 412,322.7 413,334.7 414,349.6 415,369.9 416,380.4 417,395.9 418,409.9 419,421.7 420,436.6 421,447.5 422,445.0 423,457.8 424,463.5 425,475.8 426,473.9 427,486.8 428,490.9 429,494.2 430,490.9 431,496.6 432,495.1 433,503.0 434,506.7 435,497.7 436,501.7 437,505.5 438,505.1 439,514.7 440,509.4 441,512.6 442,508.5 443,520.9 444,516.7 445,520.6 446,519.2 447,511.6 448,515.0 449,517.6 450,526.0 451,523.2 452,528.0 453,528.5 454,529.2 455,532.6 456,530.3 457,523.4 458,527.6 459,537.2 460,526.2 461,535.8 462,536.5 463,526.8 464,529.5 465,521.1 466,527.8 467,519.0 468,513.4 469,512.8 470,507.1 471,500.0 472,495.1 473,484.2 474,471.3 475,465.3 476,457.5 477,433.8 478,416.4 479,402.0 480,397.7 481,388.1 482,388.4 483,386.0 484,400.6 485,415.7 486,441.0 487,453.7 488,461.8 489,488.7 490,504.9 491,517.5 492,513.2 493,532.2 494,542.1 495,547.6 496,549.5 497,547.9 498,556.9 499,560.5 500,566.6 501,569.2 502,567.9 503,573.9 504,568.3 505,571.2 506,574.9 507,578.3 508,575.8 509,582.5 510,580.0 511,575.2 512,579.2 513,575.4 514,574.5 515,571.7 516,580.7 517,576.5 518,564.0 519,570.1 520,564.4 521,553.5 522,549.8 523,548.7 524,533.7 525,527.3 526,524.9 527,515.0 528,515.6 529,518.5 530,528.5 531,538.3 532,538.9 533,544.5 534,557.7 535,562.8 536,573.1 537,576.7 538,582.3 539,587.9 540,593.1 541,593.7 542,596.9 543,610.1 544,616.2 545,614.0 546,606.4 547,614.6 548,620.7 549,612.2 550,617.9 551,619.6 552,619.1 553,620.6 554,628.3 555,624.1 556,625.8 557,633.6 558,625.2 559,622.2 560,632.0 561,637.4 562,631.5 563,632.3 564,627.0 565,628.6 566,637.4 567,636.9 568,634.7 569,630.4 570,628.5 571,629.0 572,628.5 573,634.6 574,629.4 575,630.1 576,633.8 577,633.2 578,630.3 579,631.0 580,628.5 581,620.7 582,626.0 583,623.5 584,622.3 585,622.8 586,618.2 587,622.5 588,615.5 589,614.4 590,612.4 591,608.0 592,608.0 593,605.3 594,601.6 595,593.6 596,589.3 597,586.6 598,584.9 599,574.6 600,574.1 601,569.1 602,566.8 603,562.2 604,564.5 605,559.9 606,558.7 607,549.7 608,548.4 609,548.6 610,554.5 611,554.6 612,547.9 613,554.5 614,563.2 615,557.2 616,565.5 617,576.4 618,580.8 619,581.5 620,596.3 621,600.8 622,605.9 623,605.2 624,614.2 625,624.2 626,626.2 627,631.5 628,632.0 629,641.6 630,639.2 631,646.0 632,646.8 633,645.1 634,655.4 635,648.6 636,652.2 637,656.8 638,653.4 639,653.6 640,660.6 641,660.9 642,662.7 643,666.5 644,673.3 645,665.9 646,676.2 647,670.2 648,670.2 649,663.6 650,667.6 651,674.4 652,676.3 653,672.9 654,677.5 655,680.4 656,676.8 657,674.5 658,677.6 659,680.7 660,683.5 661,686.0 662,681.5 663,685.4 664,685.3 665,686.9 666,690.9 667,692.2 668,687.2 669,687.3 670,687.7 671,688.7 672,689.7 673,691.0 674,690.4 675,689.2 676,689.4 677,693.7 678,701.6 679,696.2 680,696.9 681,696.4 682,695.2 683,702.3 684,695.5 685,693.8 686,693.4 687,698.0 688,694.7 689,695.3 690,695.6 691,694.4 692,699.1 693,693.6 694,705.9 695,691.5 696,694.9 697,699.4 698,700.5 699,698.3 700,700.3 701,700.0 702,699.9 703,701.4 704,700.4 705,699.5 706,699.5 707,702.6 708,699.6 709,702.0 710,705.2 711,701.8 712,704.5 713,699.9 714,702.3 715,703.4 716,702.9 717,704.0 718,707.2 719,702.5 720,701.9 721,705.3 722,700.5 723,705.4 724,709.9 725,707.5 726,710.4 727,711.4 728,715.2 729,714.7 730,715.3 731,708.7 732,715.8 733,720.5 734,719.0 735,717.9 736,723.1 737,718.1 738,719.9 739,723.1 740,719.8 741,721.9 742,721.5 743,718.3 744,720.4 745,721.0 746,720.3 747,725.4 748,722.3 749,720.6 750,718.5 751,721.7 752,726.4 753,721.9 754,725.0 755,724.2 756,721.6 757,720.4 758,724.7 759,718.5 760,725.0 761,720.1 762,726.0 763,722.6 764,723.5 765,726.8 766,721.1 767,724.2 768,723.2 769,725.6 770,726.3 771,725.1 772,725.0 773,723.3 774,726.2 775,723.9 776,725.0 777,725.1 778,720.9 779,721.5 780,725.3 781,724.6 782,728.1 783,717.8 784,725.0 785,727.3 786,724.4 787,726.1 788,723.9 789,723.5 790,726.0 791,719.9 792,717.3 793,724.6 794,723.6 795,723.8 796,724.6 797,726.1 798,723.8 799,727.2 800,727.7 801,724.8 802,728.5 803,730.6 804,728.7 805,734.5 806,731.6 807,735.2 808,737.3 809,729.8 810,730.4 811,735.8 812,733.9 813,735.9 814,739.3 815,733.5 816,737.3 817,734.4 818,733.6 819,736.7 820,736.3 821,738.7 822,736.9 823,738.7 824,738.2 825,732.9 826,737.2 827,738.2 828,742.4 829,738.3 830,742.7 831,742.2 832,739.5 833,744.9 834,747.8 835,746.0 836,750.0 837,749.0 838,749.1 839,747.3 840,748.5 841,750.4 842,749.4 843,746.4 844,749.4 845,751.0 846,753.1 847,752.5 848,748.0 849,752.5 850,746.7 851,749.3 852,749.1 853,755.2 854,753.2 855,752.4 856,750.2 857,755.1 858,751.5 859,753.5 860,755.3 861,751.9 862,754.3 863,748.1 864,754.8 865,749.2 866,754.7 867,754.6 868,755.3 869,760.1 870,748.2 871,755.8 872,753.9 873,757.0 874,756.1 875,755.7 876,754.4 877,754.1 878,757.0 879,752.5 880,759.2 881,755.3 882,758.1 883,754.2 884,758.5 885,757.0 886,759.7 887,761.1 888,756.9 889,758.8 890,759.3 891,762.6 892,756.0 893,760.9 894,759.6 895,757.0 896,759.3 897,758.8 898,763.4 899,758.6 900,763.6 901,760.2 902,763.2 903,757.6 904,760.2 905,762.7 906,760.3 907,759.0 908,763.0 909,765.1 910,763.5 911,763.2 912,764.9 913,763.1 914,766.6 915,767.3 916,761.8 917,767.6 918,767.0 919,766.3 920,767.5 921,769.5 922,770.9 923,770.5 924,766.2 925,770.3 926,763.3 927,769.7 928,769.5 929,770.4 930,766.2 931,772.0 932,771.8 933,769.5 934,765.9 935,770.3 936,767.8 937,766.3 938,768.6 939,776.0 940,767.3 941,770.2 942,771.6 943,773.6 944,769.3 945,769.6 946,774.2 947,773.0 948,775.4 949,770.1 950,772.7 951,775.4 952,773.7 953,771.1 954,774.2 955,769.7 956,772.6 957,776.3 958,776.8 959,775.9 960,776.8 961,772.0 962,774.2 963,778.3 964,781.4 965,777.4 966,774.5 967,774.6 968,779.8 969,779.8 970,774.8 971,778.1 972,781.2 973,781.6 974,777.4 975,778.5 976,780.2 977,776.9 978,776.0 979,778.4 980,782.9 981,782.9 982,781.8 983,778.3 984,776.8 985,779.2 986,781.8 987,784.3 988,780.2 989,782.6 990,778.7 991,778.2 992,783.1 993,780.7 994,781.3 995,778.7 996,785.8 997,780.2 998,784.4 999,781.2 1000,783.9 1001,787.9 1002,785.6 1003,785.5 1004,787.4 1005,786.8 1006,788.8 1007,782.7 1008,789.1 1009,786.4 1010,784.1 1011,787.9 1012,787.9 1013,786.8 1014,788.9 1015,784.3 1016,783.7 1017,786.1 1018,790.0 1019,788.9 1020,787.9 1021,786.6 1022,788.1 1023,790.8 1024,787.2 1025,787.3 1026,789.6 1027,790.2 1028,789.3 1029,792.2 1030,789.7 1031,787.3 1032,784.7 1033,792.2 1034,789.4 1035,790.6 1036,791.0 1037,793.1 1038,792.6 1039,792.6 1040,791.2 1041,790.3 1042,791.5 1043,789.3 1044,792.0 1045,793.6 1046,793.0 1047,791.9 1048,789.9 1049,790.0 1050,790.5 1051,791.3 1052,793.3 1053,793.5 1054,793.9 1055,794.9 1056,790.9 1057,792.7 1058,794.4 1059,795.1 1060,792.2 1061,792.3 1062,796.3 1063,795.5 1064,795.2 1065,793.8 1066,792.6 1067,794.7 1068,795.6 1069,796.1 1070,797.1 1071,795.7 1072,798.2 1073,795.1 1074,796.7 1075,796.3 1076,792.6 1077,793.7 1078,795.5 1079,797.1 1080,797.6 1081,799.7 1082,797.2 1083,796.7 1084,798.2 1085,795.2 1086,797.5 1087,795.9 1088,798.3 1089,796.9 1090,797.6 1091,802.5 1092,801.0 1093,804.0 1094,799.4 1095,798.8 1096,797.7 1097,799.3 1098,796.0 1099,799.8 1100,798.6 1101,797.2 1102,796.3 1103,798.3 1104,799.4 1105,800.3 1106,797.2 1107,800.5 1108,801.3 1109,805.3 1110,801.6 1111,802.9 1112,799.7 1113,801.2 1114,799.9 1115,799.8 1116,802.5 1117,801.2 1118,804.6 1119,801.7 1120,802.7 1121,799.5 1122,800.0 1123,803.4 1124,800.7 1125,804.7 1126,800.6 1127,800.5 1128,806.1 1129,799.0 1130,801.4 1131,803.5 1132,803.7 1133,800.3 1134,806.8 1135,801.7 1136,798.9 1137,804.5 1138,801.8 1139,802.9 1140,804.3 1141,801.1 1142,801.5 1143,802.7 1144,804.6 1145,800.4 1146,805.8 1147,803.8 1148,800.9 1149,803.2 1150,804.2 1151,805.5 1152,804.8 1153,805.4 1154,802.9 1155,804.6 1156,798.4 1157,805.2 1158,803.2 1159,806.3 1160,802.1 1161,802.3 1162,803.3 1163,804.8 1164,803.8 1165,805.1 1166,803.2 1167,805.0 1168,807.7 1169,805.2 1170,803.8 1171,799.5 1172,803.0 1173,803.2 1174,799.9 1175,801.1 1176,793.5 1177,794.9 1178,792.9 1179,794.5 1180,791.5 1181,791.3 1182,796.1 1183,790.8 1184,794.8 1185,796.4 1186,794.2 1187,793.5 1188,795.4 1189,795.2 1190,795.3 1191,797.8 1192,797.8 1193,803.1 1194,801.3 1195,799.7 1196,800.9 1197,803.4 1198,802.8 1199,801.1 1200,799.8 1201,805.0 1202,801.9 1203,802.6 1204,805.0 1205,803.0 1206,805.3 1207,802.5 1208,803.5 1209,803.0 1210,807.4 1211,800.9 1212,803.4 1213,802.2 1214,802.6 1215,801.6 1216,802.6 1217,806.4 1218,806.9 1219,803.1 1220,802.1 1221,803.6 1222,807.6 1223,804.5 1224,800.7 1225,806.3 1226,804.6 1227,806.0 1228,805.7 1229,802.6 1230,806.9 1231,806.3 1232,803.9 1233,801.1 1234,803.2 1235,803.3 1236,806.7 1237,804.4 1238,804.7 1239,805.7 1240,804.9 1241,806.5 1242,806.4 1243,807.6 1244,803.7 1245,806.7 1246,805.6 1247,810.0 1248,809.0 1249,805.7 1250,808.3 1251,803.5 1252,804.9 1253,806.5 1254,807.6 1255,805.3 1256,807.5 1257,809.8 1258,804.8 1259,805.5 1260,804.6 1261,810.3 1262,806.5 1263,807.9 1264,807.2 1265,808.8 1266,808.6 1267,809.7 1268,809.9 1269,812.6 1270,808.3 1271,810.5 1272,810.2 1273,809.0 1274,812.3 1275,814.2 1276,809.2 1277,815.7 1278,811.3 1279,811.6 1280,807.6 1281,812.3 1282,812.1 1283,812.1 1284,813.9 1285,812.6 1286,813.7 1287,812.1 1288,811.4 1289,813.8 1290,814.8 1291,815.1 1292,814.2 1293,812.9 1294,814.4 1295,814.0 1296,812.3 1297,815.2 1298,814.4 1299,812.9 1300,814.4 1301,816.0 1302,817.7 1303,812.0 1304,814.6 1305,816.3 1306,817.4 1307,816.1 1308,813.7 1309,814.7 1310,815.6 1311,814.4 1312,814.0 1313,813.6 1314,820.4 1315,816.1 1316,815.7 1317,817.4 1318,816.3 1319,816.0 1320,816.8 1321,815.1 1322,815.8 1323,818.2 1324,817.7 1325,814.9 1326,819.4 1327,816.2 1328,814.2 1329,818.2 1330,818.2 1331,817.7 1332,815.5 1333,819.3 1334,818.2 1335,818.0 1336,817.9 1337,818.2 1338,821.4 1339,816.8 1340,818.2 1341,819.7 1342,819.2 1343,816.6 1344,817.8 1345,817.4 1346,815.7 1347,817.8 1348,819.8 1349,818.8 1350,820.2 1351,819.1 1352,817.3 1353,819.4 1354,815.6 1355,820.7 1356,818.0 1357,821.5 1358,816.4 1359,817.2 1360,818.1 1361,818.4 1362,816.3 1363,816.8 1364,819.8 1365,817.7 1366,820.6 1367,821.9 1368,816.7 1369,818.6 1370,822.2 1371,821.2 1372,817.2 1373,820.1 1374,822.3 1375,816.0 1376,820.2 1377,821.4 1378,818.9 1379,818.7 1380,821.0 1381,817.2 1382,820.8 1383,822.0 1384,820.1 1385,817.4 1386,822.7 1387,820.1 1388,821.1 1389,818.8 1390,820.1 1391,822.1 1392,817.8 1393,818.2 1394,817.0 1395,821.2 1396,821.2 1397,819.1 1398,821.1 1399,820.6 1400,823.8 1401,818.7 1402,821.1 1403,820.0 1404,823.8 1405,821.6 1406,818.9 1407,821.6 1408,820.7 1409,819.4 1410,821.7 1411,821.3 1412,819.2 1413,820.4 1414,823.0 1415,822.8 1416,821.0 1417,820.7 1418,821.8 1419,821.2 1420,819.4 1421,822.4 1422,820.1 1423,823.8 1424,822.5 1425,822.7 1426,821.1 1427,821.9 1428,820.7 1429,821.1 1430,820.1 1431,824.1 1432,820.0 1433,824.6 1434,823.1 1435,820.5 1436,824.1 1437,822.7 1438,820.8 1439,822.5 1440,821.6 1441,820.9 1442,822.1 1443,822.7 1444,821.7 1445,822.2 1446,823.6 1447,822.2 1448,821.8 1449,820.4 1450,822.4 1451,821.7 1452,822.2 1453,823.8 1454,824.0 1455,822.7 1456,821.7 1457,822.9 1458,823.2 1459,823.1 1460,820.5 1461,823.3 1462,821.3 1463,823.4 1464,823.6 1465,823.2 1466,824.9 1467,823.0 1468,823.5 1469,821.7 1470,822.9 1471,822.8 1472,823.3 1473,822.9 1474,819.5 1475,824.5 1476,824.4 1477,820.1 1478,823.7 1479,824.9 1480,824.5 1481,824.5 1482,823.2 1483,822.7 1484,826.5 1485,824.2 1486,826.1 1487,823.5 1488,825.1 1489,825.0 1490,825.0 1491,821.9 1492,827.5 1493,824.3 1494,823.4 1495,824.4 1496,821.2 1497,826.1 1498,823.4 1499,824.5 1500,824.4 1501,821.4 1502,823.6 1503,826.1 1504,823.0 1505,824.6 1506,825.8 1507,826.7 1508,823.1 1509,826.0 1510,825.5 1511,825.3 1512,826.0 1513,825.7 1514,823.1 1515,825.3 1516,823.7 1517,825.2 1518,824.1 1519,827.0 1520,826.2 1521,825.5 1522,823.8 1523,825.5 1524,823.2 1525,823.6 1526,822.5 1527,826.3 1528,824.3 1529,826.4 1530,826.8 1531,826.7 1532,824.6 1533,827.4 1534,827.0 1535,823.4 1536,825.9 1537,824.1 1538,825.2 1539,827.2 1540,825.9 1541,827.8 1542,826.4 1543,826.7 1544,828.1 1545,827.5 1546,826.9 1547,827.7 1548,827.6 1549,823.7 1550,824.3 1551,826.0 1552,827.5 1553,824.8 1554,823.5 1555,825.9 1556,825.1 1557,828.2 1558,822.6 1559,827.3 1560,827.1 1561,822.3 1562,824.7 1563,825.9 1564,826.8 1565,826.3 1566,827.2 1567,826.7 1568,825.2 1569,828.9 1570,826.9 1571,825.3 1572,827.3 1573,826.4 1574,826.0 1575,825.7 1576,824.5 1577,825.4 1578,824.9 1579,823.9 1580,827.5 1581,827.3 1582,826.6 1583,825.3 1584,825.8 1585,829.3 1586,825.8 1587,828.3 1588,827.6 1589,827.9 1590,826.5 1591,826.9 1592,827.1 1593,825.7 1594,829.3 1595,826.2 1596,827.6 1597,830.0 1598,829.6 1599,826.6 1600,828.3 1601,829.0 1602,824.7 1603,830.6 1604,828.4 1605,827.3 1606,827.6 1607,824.5 1608,828.8 1609,830.1 1610,827.6 1611,830.2 1612,828.9 1613,826.0 1614,828.8 1615,825.1 1616,825.4 1617,829.0 1618,828.9 1619,828.0 1620,828.0 1621,826.0 1622,829.7 1623,828.3 1624,828.0 1625,831.8 1626,828.8 1627,828.4 1628,831.3 1629,828.9 1630,827.9 1631,830.8 1632,828.4 1633,827.5 1634,828.2 1635,828.8 1636,830.1 1637,830.6 1638,827.1 1639,830.7 1640,828.0 1641,828.3 1642,825.3 1643,831.4 1644,829.9 1645,828.8 1646,828.9 1647,830.5 1648,829.2 1649,825.5 1650,829.6 1651,829.2 1652,829.5 1653,829.4 1654,830.6 1655,828.4 1656,832.7 1657,829.6 1658,828.5 1659,829.7 1660,827.1 1661,829.4 1662,828.6 1663,828.2 1664,830.8 1665,830.1 1666,828.4 1667,828.9 1668,830.3 1669,833.1 1670,829.7 1671,829.7 1672,830.6 1673,828.2 1674,829.8 1675,831.0 1676,830.6 1677,830.5 1678,828.4 1679,830.2 1680,832.2 1681,833.5 1682,831.6 1683,829.5 1684,829.7 1685,830.1 1686,833.4 1687,828.5 1688,830.1 1689,828.1 1690,829.9 1691,830.1 1692,831.8 1693,831.7 1694,830.9 1695,830.3 1696,830.1 1697,833.0 1698,830.6 1699,829.2 1700,829.8 1701,830.9 1702,829.8 1703,828.7 1704,832.2 1705,830.0 1706,830.8 1707,831.1 1708,830.7 1709,830.8 1710,827.5 1711,831.2 1712,830.8 1713,830.6 1714,831.1 1715,834.3 1716,833.6 1717,832.3 1718,833.5 1719,830.8 1720,831.3 1721,832.1 1722,832.7 1723,832.6 1724,834.1 1725,831.4 1726,833.5 1727,830.8 1728,832.4 1729,830.4 1730,833.5 1731,831.0 1732,833.6 1733,829.2 1734,834.4 1735,831.9 1736,832.5 1737,832.4 1738,829.7 1739,831.2 1740,831.2 1741,831.9 1742,830.0 1743,831.2 1744,832.3 1745,833.7 1746,833.2 1747,830.6 1748,833.5 1749,834.5 1750,833.4 1751,831.9 1752,831.2 1753,831.9 1754,834.7 1755,831.2 1756,829.2 1757,833.8 1758,831.7 1759,832.6 1760,832.1 1761,834.2 1762,832.2 1763,831.8 1764,831.7 1765,835.2 1766,834.9 1767,832.4 1768,832.3 1769,832.9 1770,833.8 1771,832.0 1772,835.2 1773,833.5 1774,829.7 1775,831.8 1776,832.9 1777,836.5 1778,835.5 1779,833.7 1780,831.9 1781,833.3 1782,833.5 1783,832.9 1784,833.7 1785,834.5 1786,832.9 1787,832.1 1788,833.8 1789,831.5 1790,833.0 1791,835.3 1792,833.9 1793,832.1 1794,833.7 1795,833.4 1796,833.9 1797,835.2 1798,833.1 1799,832.2 1800,836.0 1801,832.8 1802,834.8 1803,834.6 1804,833.6 1805,834.9 1806,834.6 1807,834.4 1808,835.3 1809,833.3 1810,835.6 1811,833.2 1812,835.7 1813,836.2 1814,833.4 1815,837.2 1816,833.7 1817,834.5 1818,833.6 1819,834.3 1820,834.8 1821,834.0 1822,836.1 1823,833.8 1824,835.3 1825,833.5 1826,833.7 1827,835.2 1828,835.4 1829,834.6 1830,835.6 1831,835.8 1832,834.3 1833,835.3 1834,834.2 1835,833.6 1836,834.6 1837,835.1 1838,837.0 1839,836.2 1840,835.7 1841,832.8 1842,834.4 1843,836.3 1844,836.5 1845,835.8 1846,834.2 1847,833.3 1848,833.7 1849,836.1 1850,836.5 1851,838.3 1852,835.2 1853,836.5 1854,835.1 1855,835.9 1856,836.3 1857,835.5 1858,838.1 1859,834.9 1860,837.4 1861,836.1 1862,835.8 1863,837.8 1864,835.7 1865,836.9 1866,836.6 1867,837.5 1868,835.1 1869,837.0 1870,837.3 1871,835.9 1872,835.5 1873,835.5 1874,836.8 1875,835.9 1876,837.6 1877,836.8 1878,836.6 1879,837.0 1880,837.1 1881,837.2 1882,837.9 1883,838.6 1884,837.7 1885,837.9 1886,839.2 1887,839.2 1888,837.4 1889,836.0 1890,838.9 1891,836.4 1892,836.5 1893,836.5 1894,837.1 1895,834.6 1896,837.0 1897,839.1 1898,840.8 1899,838.3 1900,838.8 1901,838.9 1902,837.1 1903,836.7 1904,838.4 1905,839.4 1906,838.2 1907,838.5 1908,838.1 1909,838.0 1910,837.5 1911,839.6 1912,839.3 1913,838.1 1914,838.7 1915,839.1 1916,839.8 1917,840.9 1918,840.7 1919,838.5 1920,838.9 1921,838.2 1922,839.6 1923,840.0 1924,836.6 1925,838.9 1926,840.6 1927,837.0 1928,840.7 1929,840.3 1930,838.2 1931,837.6 1932,841.1 1933,838.5 1934,837.4 1935,839.1 1936,837.3 1937,837.8 1938,841.3 1939,838.6 1940,838.9 1941,837.1 1942,838.1 1943,840.5 1944,839.7 1945,840.6 1946,840.5 1947,839.6 1948,838.8 1949,836.6 1950,840.8 1951,839.5 1952,842.5 1953,839.3 1954,839.4 1955,838.9 1956,838.0 1957,839.6 1958,840.0 1959,839.9 1960,839.3 1961,838.7 1962,841.2 1963,841.0 1964,839.0 1965,838.3 1966,839.1 1967,839.1 1968,841.2 1969,838.9 1970,840.5 1971,838.8 1972,840.0 1973,843.2 1974,839.4 1975,840.7 1976,839.7 1977,841.7 1978,840.8 1979,840.4 1980,842.2 1981,841.5 1982,841.3 1983,839.0 1984,839.4 1985,842.3 1986,839.1 1987,842.6 1988,842.6 1989,840.4 1990,839.6 1991,839.2 1992,841.7 1993,841.4 1994,839.8 1995,839.5 1996,841.4 1997,840.0 1998,840.8 1999,839.0 2000,841.4 2001,841.1 2002,840.4 2003,839.5 2004,840.9 2005,841.5 2006,841.6 2007,841.2 2008,840.2 2009,842.0 2010,842.6 2011,840.5 2012,839.7 2013,843.1 2014,841.5 2015,839.0 2016,842.4 2017,841.6 2018,840.6 2019,841.5 2020,840.1 2021,840.4 2022,839.5 2023,842.9 2024,840.9 2025,841.8 2026,842.0 2027,838.7 2028,841.8 2029,840.2 2030,843.1 2031,840.2 2032,842.7 2033,843.7 2034,842.1 2035,843.0 2036,843.5 2037,842.1 2038,841.6 2039,840.2 2040,844.2 2041,843.2 2042,842.8 2043,840.0 2044,843.4 2045,841.7 2046,842.4 2047,842.6 2048,843.6 2049,841.9 2050,841.5 2051,843.0 2052,842.7 2053,841.7 2054,845.0 2055,843.8 2056,840.6 2057,839.8 2058,840.2 2059,842.1 2060,843.1 2061,844.7 2062,842.9 2063,841.9 2064,842.9 2065,842.8 2066,841.7 2067,843.0 2068,840.6 2069,842.5 2070,843.5 2071,842.7 2072,843.6 2073,844.3 2074,843.8 2075,843.9 2076,843.9 2077,842.9 2078,844.4 2079,843.6 2080,842.1 2081,844.5 2082,843.4 2083,840.4 2084,845.5 2085,843.5 2086,842.6 2087,844.5 2088,844.1 2089,843.9 2090,845.8 2091,845.1 2092,843.5 2093,843.0 2094,842.4 2095,844.4 2096,844.1 2097,845.2 2098,844.2 2099,844.9 2100,845.7 2101,843.5 2102,843.0 2103,844.2 2104,842.7 2105,844.0 2106,843.9 2107,846.0 2108,843.9 2109,845.7 2110,843.9 2111,844.3 2112,843.8 2113,844.3 2114,843.8 2115,843.2 2116,843.0 2117,845.6 2118,844.7 2119,846.5 2120,846.4 2121,843.4 2122,846.9 2123,844.1 2124,842.8 2125,843.4 2126,844.1 2127,841.9 2128,845.3 2129,844.4 2130,845.6 2131,845.3 2132,845.2 2133,845.8 2134,845.5 2135,843.3 2136,846.8 2137,844.5 2138,845.1 2139,845.9 2140,844.3 2141,844.5 2142,843.0 2143,845.9 2144,846.0 2145,844.7 2146,844.3 2147,842.2 2148,845.8 2149,844.2 2150,844.7 2151,844.9 2152,844.9 2153,845.5 2154,846.0 2155,845.6 2156,844.1 2157,845.3 2158,845.3 2159,844.4 2160,845.2 2161,846.5 2162,846.4 2163,846.2 2164,846.3 2165,843.5 2166,845.9 2167,847.4 2168,845.4 2169,845.4 2170,845.0 2171,846.2 2172,845.8 2173,844.8 2174,846.0 2175,846.0 2176,846.4 2177,846.5 2178,845.2 2179,846.5 2180,846.0 2181,846.0 2182,845.7 2183,846.2 2184,845.5 2185,844.9 2186,847.5 2187,844.8 2188,846.5 2189,847.1 2190,846.5 2191,845.9 2192,846.1 2193,844.6 2194,846.7 2195,845.3 2196,846.2 2197,845.4 2198,847.4 2199,846.0 2200,846.4 2201,848.1 2202,845.4 2203,846.2 2204,844.1 2205,846.2 2206,846.0 2207,845.9 2208,847.3 2209,848.3 2210,847.5 2211,847.5 2212,847.9 2213,846.1 2214,845.9 2215,847.1 2216,848.7 2217,846.2 2218,845.2 2219,846.9 2220,848.0 2221,847.7 2222,847.5 2223,846.9 2224,847.8 2225,846.6 2226,848.4 2227,848.6 2228,848.0 2229,849.4 2230,849.9 2231,846.3 2232,847.0 2233,846.2 2234,845.4 2235,846.0 2236,847.1 2237,847.9 2238,847.8 2239,844.5 2240,847.3 2241,846.1 2242,848.1 2243,846.4 2244,848.5 2245,849.3 2246,849.6 2247,847.2 2248,847.7 2249,847.1 2250,847.5 2251,849.5 2252,845.6 2253,846.9 2254,847.7 2255,847.1 2256,846.4 2257,848.8 2258,847.6 2259,847.2 2260,846.2 2261,847.6 2262,848.8 2263,847.6 2264,849.0 2265,847.4 2266,846.9 2267,847.9 2268,846.8 2269,846.2 2270,848.5 2271,849.0 2272,849.8 2273,845.8 2274,849.0 2275,848.7 2276,848.2 2277,848.6 2278,848.8 2279,848.7 2280,848.7 2281,847.8 2282,850.1 2283,848.1 2284,849.4 2285,847.8 2286,848.2 2287,848.1 2288,848.5 2289,849.8 2290,846.6 2291,849.7 2292,847.5 2293,850.7 2294,847.3 2295,848.5 2296,849.1 2297,846.6 2298,848.4 2299,848.5 2300,848.9 2301,848.3 2302,847.3 2303,846.4 2304,847.9 2305,848.1 2306,848.1 2307,849.5 2308,848.7 2309,846.7 2310,847.7 2311,849.9 2312,849.4 2313,848.8 2314,848.3 2315,849.9 2316,847.8 2317,848.0 2318,850.0 2319,846.7 2320,850.0 2321,848.3 2322,849.3 2323,848.4 2324,846.8 2325,849.3 2326,848.1 2327,848.8 2328,849.4 2329,849.1 2330,849.1 2331,849.7 2332,847.4 2333,851.3" fill="none" stroke="#ff00ff" stroke-width="3.9" stroke-linejoin="round"/>
<!-- Ag box -->
<rect x="1124.5" y="589.5" width="140" height="752" fill="#4472c4" fill-opacity="0.2" stroke="#2f528f" stroke-width="3"/>
<text transform="translate(1192,681) scale(0.95,1)" text-anchor="middle" font-family="'Liberation Sans', sans-serif" font-weight="bold" font-size="83">Ag</text>
<!-- frame -->
<rect x="154.2" y="25" width="2187" height="3" fill="#efefef"/>
<rect x="154.2" y="28" width="2187" height="3.6" fill="#000"/>
<rect x="160.8" y="31.6" width="2170.7" height="3" fill="#626262"/>
<rect x="154.2" y="28" width="6.6" height="1791" fill="#212121"/>
<rect x="2331.5" y="31.6" width="3.3" height="1788" fill="#858585"/>
<rect x="2334.8" y="28" width="3" height="1791.5" fill="#000"/>
<rect x="2337.8" y="31.6" width="3.4" height="1788" fill="#d6d6d6"/>
<rect x="154.2" y="1783" width="2187" height="6.6" fill="#202020"/>
<line x1="225.6" y1="1786" x2="225.6" y2="1802.5" stroke="#111" stroke-width="5"/>
<line x1="293.7" y1="1786" x2="293.7" y2="1819.5" stroke="#111" stroke-width="5"/>
<line x1="361.8" y1="1786" x2="361.8" y2="1802.5" stroke="#111" stroke-width="5"/>
<line x1="429.9" y1="1786" x2="429.9" y2="1819.5" stroke="#111" stroke-width="5"/>
<line x1="498.0" y1="1786" x2="498.0" y2="1802.5" stroke="#111" stroke-width="5"/>
<line x1="566.0" y1="1786" x2="566.0" y2="1819.5" stroke="#111" stroke-width="5"/>
<line x1="634.1" y1="1786" x2="634.1" y2="1802.5" stroke="#111" stroke-width="5"/>
<line x1="702.2" y1="1786" x2="702.2" y2="1819.5" stroke="#111" stroke-width="5"/>
<line x1="770.3" y1="1786" x2="770.3" y2="1802.5" stroke="#111" stroke-width="5"/>
<line x1="838.4" y1="1786" x2="838.4" y2="1819.5" stroke="#111" stroke-width="5"/>
<line x1="906.5" y1="1786" x2="906.5" y2="1802.5" stroke="#111" stroke-width="5"/>
<line x1="974.6" y1="1786" x2="974.6" y2="1819.5" stroke="#111" stroke-width="5"/>
<line x1="1042.7" y1="1786" x2="1042.7" y2="1802.5" stroke="#111" stroke-width="5"/>
<line x1="1110.8" y1="1786" x2="1110.8" y2="1819.5" stroke="#111" stroke-width="5"/>
<line x1="1178.9" y1="1786" x2="1178.9" y2="1802.5" stroke="#111" stroke-width="5"/>
<line x1="1247.0" y1="1786" x2="1247.0" y2="1819.5" stroke="#111" stroke-width="5"/>
<line x1="1315.0" y1="1786" x2="1315.0" y2="1802.5" stroke="#111" stroke-width="5"/>
<line x1="1383.1" y1="1786" x2="1383.1" y2="1819.5" stroke="#111" stroke-width="5"/>
<line x1="1451.2" y1="1786" x2="1451.2" y2="1802.5" stroke="#111" stroke-width="5"/>
<line x1="1519.3" y1="1786" x2="1519.3" y2="1819.5" stroke="#111" stroke-width="5"/>
<line x1="1587.4" y1="1786" x2="1587.4" y2="1802.5" stroke="#111" stroke-width="5"/>
<line x1="1655.5" y1="1786" x2="1655.5" y2="1819.5" stroke="#111" stroke-width="5"/>
<line x1="1723.6" y1="1786" x2="1723.6" y2="1802.5" stroke="#111" stroke-width="5"/>
<line x1="1791.7" y1="1786" x2="1791.7" y2="1819.5" stroke="#111" stroke-width="5"/>
<line x1="1859.8" y1="1786" x2="1859.8" y2="1802.5" stroke="#111" stroke-width="5"/>
<line x1="1927.9" y1="1786" x2="1927.9" y2="1819.5" stroke="#111" stroke-width="5"/>
<line x1="1995.9" y1="1786" x2="1995.9" y2="1802.5" stroke="#111" stroke-width="5"/>
<line x1="2064.0" y1="1786" x2="2064.0" y2="1819.5" stroke="#111" stroke-width="5"/>
<line x1="2132.1" y1="1786" x2="2132.1" y2="1802.5" stroke="#111" stroke-width="5"/>
<line x1="2200.2" y1="1786" x2="2200.2" y2="1819.5" stroke="#111" stroke-width="5"/>
<line x1="2268.3" y1="1786" x2="2268.3" y2="1802.5" stroke="#111" stroke-width="5"/>
<g font-family="'Liberation Sans', sans-serif" font-size="79" fill="#000">
<text transform="translate(157.5,1901.8) scale(0.93,1)" text-anchor="middle">5</text>
<text transform="translate(293.7,1901.8) scale(0.93,1)" text-anchor="middle">10</text>
<text transform="translate(429.9,1901.8) scale(0.93,1)" text-anchor="middle">15</text>
<text transform="translate(566.0,1901.8) scale(0.93,1)" text-anchor="middle">20</text>
<text transform="translate(702.2,1901.8) scale(0.93,1)" text-anchor="middle">25</text>
<text transform="translate(838.4,1901.8) scale(0.93,1)" text-anchor="middle">30</text>
<text transform="translate(974.6,1901.8) scale(0.93,1)" text-anchor="middle">35</text>
<text transform="translate(1110.8,1901.8) scale(0.93,1)" text-anchor="middle">40</text>
<text transform="translate(1247.0,1901.8) scale(0.93,1)" text-anchor="middle">45</text>
<text transform="translate(1383.1,1901.8) scale(0.93,1)" text-anchor="middle">50</text>
<text transform="translate(1519.3,1901.8) scale(0.93,1)" text-anchor="middle">55</text>
<text transform="translate(1655.5,1901.8) scale(0.93,1)" text-anchor="middle">60</text>
<text transform="translate(1791.7,1901.8) scale(0.93,1)" text-anchor="middle">65</text>
<text transform="translate(1927.9,1901.8) scale(0.93,1)" text-anchor="middle">70</text>
<text transform="translate(2064.0,1901.8) scale(0.93,1)" text-anchor="middle">75</text>
<text transform="translate(2200.2,1901.8) scale(0.93,1)" text-anchor="middle">80</text>
<text transform="translate(2336.4,1901.8) scale(0.93,1)" text-anchor="middle">85</text>
</g>
<text transform="translate(1246,2003) scale(0.96,1)" text-anchor="middle" font-family="'Liberation Sans', sans-serif" font-size="96">2θ (degree)</text>
<text transform="translate(101,895) rotate(-90) scale(0.95,1)" text-anchor="middle" font-family="'Liberation Sans', sans-serif" font-size="97">Intensity (a.u.)</text>
<g font-family="'Liberation Sans', sans-serif" font-size="87" fill="#000">
<text x="1449" y="793">M6</text>
<text x="1449" y="946">M5</text>
<text x="1449" y="1108.5">M4</text>
<text x="1453.5" y="1266">M3</text>
<text x="1456.5" y="1408">M2</text>
<text x="1456.5" y="1575">M1</text>
</g>
<g font-family="'Liberation Serif', serif" font-size="54" fill="#111">
<text x="358" y="248">(110)</text>
<text x="435" y="347">(040)</text>
<text x="488" y="477">(130)</text>
<text x="575" y="538">(111)</text>
<text x="323" y="1326.4">(110)</text>
<text x="427.5" y="1356.5">(040)</text>
<text x="494" y="1406.3">(130)</text>
<text x="575" y="1459">(111)</text>
</g>
</svg>
</body></html>
